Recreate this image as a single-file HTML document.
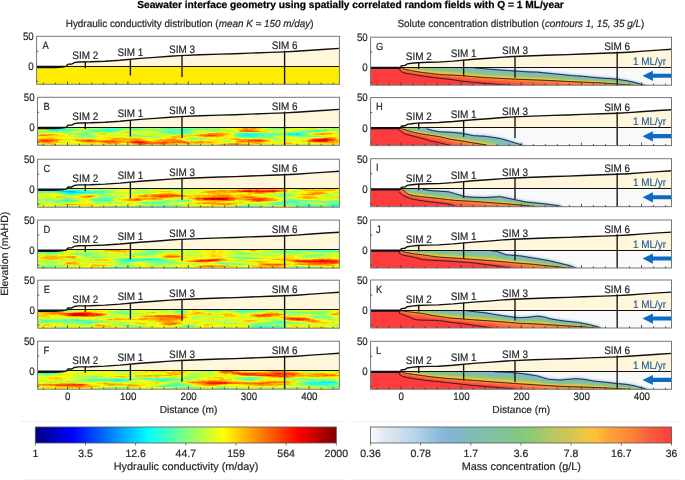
<!DOCTYPE html><html><head><meta charset="utf-8"><style>
html,body{margin:0;padding:0;background:#fff;width:685px;height:480px;overflow:hidden}
svg{display:block;will-change:transform}
text{font-family:"Liberation Sans", sans-serif;fill:#262626;stroke:#262626;stroke-width:0.2px;text-rendering:geometricPrecision}
</style></head><body>
<svg width="685" height="480" viewBox="0 0 685 480">
<defs>
<linearGradient id="jet" x1="0" x2="1" y1="0" y2="0">
<stop offset="0" stop-color="rgb(0,0,128)"/>
<stop offset="0.125" stop-color="rgb(0,0,255)"/>
<stop offset="0.375" stop-color="rgb(0,255,255)"/>
<stop offset="0.625" stop-color="rgb(255,255,0)"/>
<stop offset="0.875" stop-color="rgb(255,0,0)"/>
<stop offset="1" stop-color="rgb(128,0,0)"/>
</linearGradient>
<linearGradient id="conc" x1="0" x2="1" y1="0" y2="0">
<stop offset="0" stop-color="#f8f9fb"/>
<stop offset="0.032" stop-color="#e8eef6"/>
<stop offset="0.065" stop-color="#dbe6f0"/>
<stop offset="0.115" stop-color="#c6dbec"/>
<stop offset="0.165" stop-color="#aecfe6"/>
<stop offset="0.197" stop-color="#9ac4e0"/>
<stop offset="0.247" stop-color="#85b5d8"/>
<stop offset="0.297" stop-color="#80b6c8"/>
<stop offset="0.347" stop-color="#80bcb0"/>
<stop offset="0.397" stop-color="#81c2a4"/>
<stop offset="0.463" stop-color="#80c690"/>
<stop offset="0.497" stop-color="#82c87e"/>
<stop offset="0.53" stop-color="#8cca78"/>
<stop offset="0.563" stop-color="#a0c86c"/>
<stop offset="0.596" stop-color="#b4c864"/>
<stop offset="0.629" stop-color="#c4c65c"/>
<stop offset="0.679" stop-color="#dac650"/>
<stop offset="0.729" stop-color="#f8c43c"/>
<stop offset="0.746" stop-color="#fec238"/>
<stop offset="0.779" stop-color="#fdaa38"/>
<stop offset="0.829" stop-color="#fb9638"/>
<stop offset="0.879" stop-color="#fa7c3a"/>
<stop offset="0.929" stop-color="#fb5c3c"/>
<stop offset="1" stop-color="#fe3c3c"/>
</linearGradient>
<filter id="ff1" filterUnits="userSpaceOnUse" x="35.8" y="126" width="304.6" height="20.3" color-interpolation-filters="sRGB">
<feGaussianBlur in="SourceGraphic" stdDeviation="3 0.8" result="g"/>
<feTurbulence type="fractalNoise" baseFrequency="0.03 0.32" numOctaves="2" seed="11" result="n0"/>
<feColorMatrix in="n0" type="matrix" values="1 0 0 0 0  1 0 0 0 0  1 0 0 0 0  0 0 0 0 1" result="n"/>
<feTurbulence type="fractalNoise" baseFrequency="0.25 0.7" numOctaves="1" seed="111" result="m0"/>
<feColorMatrix in="m0" type="matrix" values="1 0 0 0 0  1 0 0 0 0  1 0 0 0 0  0 0 0 0 1" result="m"/>
<feComposite in="g" in2="n" operator="arithmetic" k1="0" k2="1" k3="0.4" k4="-0.2" result="s1"/>
<feComposite in="s1" in2="m" operator="arithmetic" k1="0" k2="1" k3="0.12" k4="-0.06" result="s"/>
<feComponentTransfer in="s">
<feFuncR type="table" tableValues="0 0 0 0 0.5 1 1 1 0.5"/>
<feFuncG type="table" tableValues="0 0 0.5 1 1 1 0.5 0 0"/>
<feFuncB type="table" tableValues="0.5 1 1 1 0.5 0 0 0 0"/>
<feFuncA type="table" tableValues="1 1"/>
</feComponentTransfer>
</filter>
<filter id="ff2" filterUnits="userSpaceOnUse" x="35.8" y="187.9" width="304.6" height="20.3" color-interpolation-filters="sRGB">
<feGaussianBlur in="SourceGraphic" stdDeviation="3 0.8" result="g"/>
<feTurbulence type="fractalNoise" baseFrequency="0.03 0.32" numOctaves="2" seed="23" result="n0"/>
<feColorMatrix in="n0" type="matrix" values="1 0 0 0 0  1 0 0 0 0  1 0 0 0 0  0 0 0 0 1" result="n"/>
<feTurbulence type="fractalNoise" baseFrequency="0.25 0.7" numOctaves="1" seed="123" result="m0"/>
<feColorMatrix in="m0" type="matrix" values="1 0 0 0 0  1 0 0 0 0  1 0 0 0 0  0 0 0 0 1" result="m"/>
<feComposite in="g" in2="n" operator="arithmetic" k1="0" k2="1" k3="0.4" k4="-0.2" result="s1"/>
<feComposite in="s1" in2="m" operator="arithmetic" k1="0" k2="1" k3="0.12" k4="-0.06" result="s"/>
<feComponentTransfer in="s">
<feFuncR type="table" tableValues="0 0 0 0 0.5 1 1 1 0.5"/>
<feFuncG type="table" tableValues="0 0 0.5 1 1 1 0.5 0 0"/>
<feFuncB type="table" tableValues="0.5 1 1 1 0.5 0 0 0 0"/>
<feFuncA type="table" tableValues="1 1"/>
</feComponentTransfer>
</filter>
<filter id="ff3" filterUnits="userSpaceOnUse" x="35.8" y="248.8" width="304.6" height="20.3" color-interpolation-filters="sRGB">
<feGaussianBlur in="SourceGraphic" stdDeviation="3 0.8" result="g"/>
<feTurbulence type="fractalNoise" baseFrequency="0.03 0.32" numOctaves="2" seed="37" result="n0"/>
<feColorMatrix in="n0" type="matrix" values="1 0 0 0 0  1 0 0 0 0  1 0 0 0 0  0 0 0 0 1" result="n"/>
<feTurbulence type="fractalNoise" baseFrequency="0.25 0.7" numOctaves="1" seed="137" result="m0"/>
<feColorMatrix in="m0" type="matrix" values="1 0 0 0 0  1 0 0 0 0  1 0 0 0 0  0 0 0 0 1" result="m"/>
<feComposite in="g" in2="n" operator="arithmetic" k1="0" k2="1" k3="0.4" k4="-0.2" result="s1"/>
<feComposite in="s1" in2="m" operator="arithmetic" k1="0" k2="1" k3="0.12" k4="-0.06" result="s"/>
<feComponentTransfer in="s">
<feFuncR type="table" tableValues="0 0 0 0 0.5 1 1 1 0.5"/>
<feFuncG type="table" tableValues="0 0 0.5 1 1 1 0.5 0 0"/>
<feFuncB type="table" tableValues="0.5 1 1 1 0.5 0 0 0 0"/>
<feFuncA type="table" tableValues="1 1"/>
</feComponentTransfer>
</filter>
<filter id="ff4" filterUnits="userSpaceOnUse" x="35.8" y="308.9" width="304.6" height="20.3" color-interpolation-filters="sRGB">
<feGaussianBlur in="SourceGraphic" stdDeviation="3 0.8" result="g"/>
<feTurbulence type="fractalNoise" baseFrequency="0.03 0.32" numOctaves="2" seed="41" result="n0"/>
<feColorMatrix in="n0" type="matrix" values="1 0 0 0 0  1 0 0 0 0  1 0 0 0 0  0 0 0 0 1" result="n"/>
<feTurbulence type="fractalNoise" baseFrequency="0.25 0.7" numOctaves="1" seed="141" result="m0"/>
<feColorMatrix in="m0" type="matrix" values="1 0 0 0 0  1 0 0 0 0  1 0 0 0 0  0 0 0 0 1" result="m"/>
<feComposite in="g" in2="n" operator="arithmetic" k1="0" k2="1" k3="0.4" k4="-0.2" result="s1"/>
<feComposite in="s1" in2="m" operator="arithmetic" k1="0" k2="1" k3="0.12" k4="-0.06" result="s"/>
<feComponentTransfer in="s">
<feFuncR type="table" tableValues="0 0 0 0 0.5 1 1 1 0.5"/>
<feFuncG type="table" tableValues="0 0 0.5 1 1 1 0.5 0 0"/>
<feFuncB type="table" tableValues="0.5 1 1 1 0.5 0 0 0 0"/>
<feFuncA type="table" tableValues="1 1"/>
</feComponentTransfer>
</filter>
<filter id="ff5" filterUnits="userSpaceOnUse" x="35.8" y="369.9" width="304.6" height="20.3" color-interpolation-filters="sRGB">
<feGaussianBlur in="SourceGraphic" stdDeviation="3 0.8" result="g"/>
<feTurbulence type="fractalNoise" baseFrequency="0.03 0.32" numOctaves="2" seed="59" result="n0"/>
<feColorMatrix in="n0" type="matrix" values="1 0 0 0 0  1 0 0 0 0  1 0 0 0 0  0 0 0 0 1" result="n"/>
<feTurbulence type="fractalNoise" baseFrequency="0.25 0.7" numOctaves="1" seed="159" result="m0"/>
<feColorMatrix in="m0" type="matrix" values="1 0 0 0 0  1 0 0 0 0  1 0 0 0 0  0 0 0 0 1" result="m"/>
<feComposite in="g" in2="n" operator="arithmetic" k1="0" k2="1" k3="0.4" k4="-0.2" result="s1"/>
<feComposite in="s1" in2="m" operator="arithmetic" k1="0" k2="1" k3="0.12" k4="-0.06" result="s"/>
<feComponentTransfer in="s">
<feFuncR type="table" tableValues="0 0 0 0 0.5 1 1 1 0.5"/>
<feFuncG type="table" tableValues="0 0 0.5 1 1 1 0.5 0 0"/>
<feFuncB type="table" tableValues="0.5 1 1 1 0.5 0 0 0 0"/>
<feFuncA type="table" tableValues="1 1"/>
</feComponentTransfer>
</filter>
<filter id="soft" x="-5%" y="-50%" width="110%" height="200%"><feGaussianBlur stdDeviation="0.6"/></filter>
</defs>
<text x="350.5" y="8.4" text-anchor="middle" style="font-weight:bold;font-size:10.2px;fill:#000;stroke:#000;stroke-width:0.25px">Seawater interface geometry using spatially correlated random fields with Q = 1 ML/year</text>
<text transform="translate(65.7,26.6) scale(0.965,1)" style="font-size:10.3px">Hydraulic conductivity distribution (<tspan style="font-style:italic">mean K ≈ 150 m/day</tspan>)</text>
<text transform="translate(397.4,26.6) scale(0.965,1)" style="font-size:10.3px">Solute concentration distribution (<tspan style="font-style:italic">contours 1, 15, 35 g/L</tspan>)</text>
<clipPath id="cA"><rect x="36.6" y="36.3" width="302.8" height="48"/></clipPath>
<g clip-path="url(#cA)">
<rect x="36.6" y="36.3" width="302.8" height="48" fill="#fff"/>
<rect x="36.6" y="66" width="302.8" height="18.3" fill="#ffec00"/>
<polygon points="66.4,65.9 67.2,64.6 68.2,63.8 71.7,63.8 74.3,62.3 78.4,61.7 90,61.5 105,60.9 120,59.9 140,58.1 155,57.1 170,55.9 180,55.3 200,54.5 220,53.8 235,53.4 250,52.8 270,52.1 284.5,51.6 296,51 311,49.9 326,48.9 339.3,48.1 339.4,66 66.4,66" fill="#fff6db"/>
<polygon points="36.6,65.7 66.4,65.7 66.8,66.7 66.7,66.9 62,67.7 55,68.2 36.6,68.2" fill="#0d1117"/>
<polyline points="66.4,66.2 67.2,64.9 68.2,64.1 71.7,64.1 74.3,62.6 78.4,62 90,61.8 105,61.2 120,60.2 140,58.4 155,57.4 170,56.2 180,55.6 200,54.8 220,54.1 235,53.7 250,53.1 270,52.4 284.5,51.9 296,51.3 311,50.2 326,49.2 339.3,48.4" fill="none" stroke="#111" stroke-width="1.4"/>
<line x1="66.4" y1="66.5" x2="339.4" y2="66.5" stroke="#111" stroke-width="1.1"/>
<line x1="85.3" y1="61.2" x2="85.3" y2="67.9" stroke="#111" stroke-width="1.35"/>
<line x1="130.4" y1="58.9" x2="130.4" y2="75.4" stroke="#111" stroke-width="1.35"/>
<line x1="182" y1="55.6" x2="182" y2="76.9" stroke="#111" stroke-width="1.35"/>
<line x1="284.6" y1="50.6" x2="284.6" y2="84.3" stroke="#111" stroke-width="1.35"/>
</g>
<text transform="translate(85.3,59.1) scale(0.92,1)" text-anchor="middle" style="font-size:10.8px;">SIM 2</text>
<text transform="translate(130.4,56.4) scale(0.92,1)" text-anchor="middle" style="font-size:10.8px;">SIM 1</text>
<text transform="translate(182,53.3) scale(0.92,1)" text-anchor="middle" style="font-size:10.8px;">SIM 3</text>
<text transform="translate(284.6,49.2) scale(0.92,1)" text-anchor="middle" style="font-size:10.8px;">SIM 6</text>
<text transform="translate(42.6,49.3) scale(0.9,1)" style="font-size:10.4px;">A</text>
<rect x="36.6" y="36.3" width="302.8" height="48" fill="none" stroke="#777" stroke-width="1"/>
<line x1="43.34" y1="84.3" x2="43.34" y2="82.7" stroke="#333" stroke-width="0.8"/>
<line x1="55.42" y1="84.3" x2="55.42" y2="82.7" stroke="#333" stroke-width="0.8"/>
<line x1="67.5" y1="84.3" x2="67.5" y2="81.3" stroke="#333" stroke-width="0.8"/>
<line x1="79.58" y1="84.3" x2="79.58" y2="82.7" stroke="#333" stroke-width="0.8"/>
<line x1="91.66" y1="84.3" x2="91.66" y2="82.7" stroke="#333" stroke-width="0.8"/>
<line x1="103.74" y1="84.3" x2="103.74" y2="82.7" stroke="#333" stroke-width="0.8"/>
<line x1="115.82" y1="84.3" x2="115.82" y2="82.7" stroke="#333" stroke-width="0.8"/>
<line x1="127.9" y1="84.3" x2="127.9" y2="81.3" stroke="#333" stroke-width="0.8"/>
<line x1="139.98" y1="84.3" x2="139.98" y2="82.7" stroke="#333" stroke-width="0.8"/>
<line x1="152.06" y1="84.3" x2="152.06" y2="82.7" stroke="#333" stroke-width="0.8"/>
<line x1="164.14" y1="84.3" x2="164.14" y2="82.7" stroke="#333" stroke-width="0.8"/>
<line x1="176.22" y1="84.3" x2="176.22" y2="82.7" stroke="#333" stroke-width="0.8"/>
<line x1="188.3" y1="84.3" x2="188.3" y2="81.3" stroke="#333" stroke-width="0.8"/>
<line x1="200.38" y1="84.3" x2="200.38" y2="82.7" stroke="#333" stroke-width="0.8"/>
<line x1="212.46" y1="84.3" x2="212.46" y2="82.7" stroke="#333" stroke-width="0.8"/>
<line x1="224.54" y1="84.3" x2="224.54" y2="82.7" stroke="#333" stroke-width="0.8"/>
<line x1="236.62" y1="84.3" x2="236.62" y2="82.7" stroke="#333" stroke-width="0.8"/>
<line x1="248.7" y1="84.3" x2="248.7" y2="81.3" stroke="#333" stroke-width="0.8"/>
<line x1="260.78" y1="84.3" x2="260.78" y2="82.7" stroke="#333" stroke-width="0.8"/>
<line x1="272.86" y1="84.3" x2="272.86" y2="82.7" stroke="#333" stroke-width="0.8"/>
<line x1="284.94" y1="84.3" x2="284.94" y2="82.7" stroke="#333" stroke-width="0.8"/>
<line x1="297.02" y1="84.3" x2="297.02" y2="82.7" stroke="#333" stroke-width="0.8"/>
<line x1="309.1" y1="84.3" x2="309.1" y2="81.3" stroke="#333" stroke-width="0.8"/>
<line x1="321.18" y1="84.3" x2="321.18" y2="82.7" stroke="#333" stroke-width="0.8"/>
<line x1="333.26" y1="84.3" x2="333.26" y2="82.7" stroke="#333" stroke-width="0.8"/>
<line x1="36.6" y1="51.3" x2="38.2" y2="51.3" stroke="#333" stroke-width="0.8"/>
<line x1="36.6" y1="81.3" x2="38.2" y2="81.3" stroke="#333" stroke-width="0.8"/>
<text transform="translate(33.7,40.1) scale(0.9,1)" text-anchor="end" style="font-size:10.8px;">50</text>
<text transform="translate(33.7,69.8) scale(0.9,1)" text-anchor="end" style="font-size:10.8px;">0</text>
<clipPath id="cG"><rect x="370.6" y="37.2" width="300.9" height="48"/></clipPath>
<g clip-path="url(#cG)">
<rect x="370.6" y="37.2" width="300.9" height="48" fill="#fff"/>
<rect x="370.6" y="67.3" width="300.9" height="17.9" fill="#fd3d3d"/>
<g filter="url(#soft)">
<polygon points="398.5,67.3 398.5,67.3 399.2,67.3 399.5,68.3 399.9,70 400.5,70.77 401.3,71.8 402.5,72.25 404.8,73.1 406.5,73.39 410.5,74.08 413.5,74.6 414.5,74.76 418.5,75.4 422.3,76 422.5,76.03 426.5,76.58 430.5,77.13 431,77.2 434.5,77.64 438.5,78.14 439.8,78.3 442.5,78.59 446.5,79.02 450,79.4 450.5,79.47 454.5,80.05 458.5,80.64 461.7,81.1 462.5,81.18 465,81.44 466.5,81.59 470.5,82 473.4,82.3 474.5,82.4 478.5,82.78 482.5,83.16 485,83.4 486.5,83.52 490.5,83.82 494.5,84.13 496.7,84.3 498.5,84.42 502.5,84.69 506.5,84.95 507.2,85 508.4,85.12 510.5,85.34 514.5,85.75 515,85.8 518.5,86.16 520.1,86.2 522.5,86.2 526.5,86.2 530,86.2 530.5,86.2 534.5,86.2 536.7,86.2 538.5,86.2 542.5,86.2 546.5,86.2 548.4,86.2 550.5,86.2 554.5,86.2 558.5,86.2 560,86.2 562.5,86.2 566.5,86.2 570.5,86.2 571.7,86.2 574.5,86.2 578.5,86.2 582.5,86.2 583.4,86.2 586.5,86.2 590.5,86.2 594.5,86.2 595.1,86.2 598.5,86.2 602.5,86.2 605,86.2 606.5,86.2 610.5,86.2 614.5,86.2 616.8,86.2 618.5,86.2 622.5,86.2 626.3,86.2 626.5,86.2 630.5,86.2 634.5,86.2 634.7,86.2 638.5,86.2 640,86.2 642.1,86.2 642.5,86.2 645,86.2 646.5,86.2 650.5,86.2 654.5,86.2 658.5,86.2 662.5,86.2 666.5,86.2 670.5,86.2 674.5,86.2 674.5,67.3" fill="#fe3f3c"/>
<polygon points="398.5,67.3 398.5,67.3 399.2,67.3 399.5,68 399.9,69.28 400.5,69.88 401.3,70.8 402.5,71.26 404.8,72.15 406.5,72.46 410.5,73.18 413.5,73.72 414.5,73.88 418.5,74.52 422.3,75.12 422.5,75.15 426.5,75.68 430.5,76.21 431,76.28 434.5,76.71 438.5,77.21 439.8,77.38 442.5,77.62 446.5,77.98 450,78.3 450.5,78.36 454.5,78.85 458.5,79.34 461.7,79.72 462.5,79.81 465,80.06 466.5,80.21 470.5,80.61 473.4,80.9 474.5,81 478.5,81.36 482.5,81.72 485,81.95 486.5,82.06 490.5,82.34 494.5,82.62 496.7,82.78 498.5,82.89 502.5,83.14 506.5,83.39 507.2,83.43 508.4,83.54 510.5,83.73 514.5,84.09 515,84.13 518.5,84.45 520.1,84.59 522.5,84.8 526.5,85.13 530,85.43 530.5,85.47 534.5,85.82 536.7,86.02 538.5,86.18 542.5,86.2 546.5,86.2 548.4,86.2 550.5,86.2 554.5,86.2 558.5,86.2 560,86.2 562.5,86.2 566.5,86.2 570.5,86.2 571.7,86.2 574.5,86.2 578.5,86.2 582.5,86.2 583.4,86.2 586.5,86.2 590.5,86.2 594.5,86.2 595.1,86.2 598.5,86.2 602.5,86.2 605,86.2 606.5,86.2 610.5,86.2 614.5,86.2 616.8,86.2 618.5,86.2 622.5,86.2 626.3,86.2 626.5,86.2 630.5,86.2 634.5,86.2 634.7,86.2 638.5,86.2 640,86.2 642.1,86.2 642.5,86.2 645,86.2 646.5,86.2 650.5,86.2 654.5,86.2 658.5,86.2 662.5,86.2 666.5,86.2 670.5,86.2 674.5,86.2 674.5,67.3" fill="#fc533c"/>
<polygon points="398.5,67.3 398.5,67.3 399.2,67.3 399.5,67.7 399.9,68.57 400.5,68.99 401.3,69.8 402.5,70.28 404.8,71.2 406.5,71.52 410.5,72.28 413.5,72.85 414.5,73.01 418.5,73.65 422.3,74.25 422.5,74.28 426.5,74.78 430.5,75.29 431,75.35 434.5,75.79 438.5,76.29 439.8,76.45 442.5,76.65 446.5,76.94 450,77.2 450.5,77.25 454.5,77.64 458.5,78.04 461.7,78.35 462.5,78.43 465,78.67 466.5,78.82 470.5,79.21 473.4,79.5 474.5,79.59 478.5,79.94 482.5,80.28 485,80.5 486.5,80.6 490.5,80.85 494.5,81.11 496.7,81.25 498.5,81.36 502.5,81.59 506.5,81.83 507.2,81.87 508.4,81.96 510.5,82.12 514.5,82.43 515,82.47 518.5,82.74 520.1,82.86 522.5,83.02 526.5,83.29 530,83.52 530.5,83.56 534.5,83.85 536.7,84.01 538.5,84.14 542.5,84.43 546.5,84.72 548.4,84.86 550.5,85.02 554.5,85.33 558.5,85.64 560,85.76 562.5,85.95 566.5,86.2 570.5,86.2 571.7,86.2 574.5,86.2 578.5,86.2 582.5,86.2 583.4,86.2 586.5,86.2 590.5,86.2 594.5,86.2 595.1,86.2 598.5,86.2 602.5,86.2 605,86.2 606.5,86.2 610.5,86.2 614.5,86.2 616.8,86.2 618.5,86.2 622.5,86.2 626.3,86.2 626.5,86.2 630.5,86.2 634.5,86.2 634.7,86.2 638.5,86.2 640,86.2 642.1,86.2 642.5,86.2 645,86.2 646.5,86.2 650.5,86.2 654.5,86.2 658.5,86.2 662.5,86.2 666.5,86.2 670.5,86.2 674.5,86.2 674.5,67.3" fill="#fa6d3b"/>
<polygon points="398.5,67.3 398.5,67.3 399.2,67.3 399.5,67.4 399.9,67.86 400.5,68.09 401.3,68.8 402.5,69.3 404.8,70.25 406.5,70.59 410.5,71.38 413.5,71.97 414.5,72.13 418.5,72.77 422.3,73.38 422.5,73.4 426.5,73.88 430.5,74.36 431,74.42 434.5,74.86 438.5,75.36 439.8,75.53 442.5,75.68 446.5,75.9 450,76.1 450.5,76.14 454.5,76.44 458.5,76.74 461.7,76.97 462.5,77.05 465,77.29 466.5,77.44 470.5,77.82 473.4,78.1 474.5,78.19 478.5,78.52 482.5,78.85 485,79.05 486.5,79.14 490.5,79.37 494.5,79.6 496.7,79.73 498.5,79.82 502.5,80.04 506.5,80.27 507.2,80.3 508.4,80.38 510.5,80.52 514.5,80.77 515,80.8 518.5,81.03 520.1,81.13 522.5,81.25 526.5,81.44 530,81.61 530.5,81.64 534.5,81.87 536.7,82 538.5,82.1 542.5,82.34 546.5,82.57 548.4,82.68 550.5,82.82 554.5,83.07 558.5,83.33 560,83.43 562.5,83.59 566.5,83.84 570.5,84.1 571.7,84.18 574.5,84.33 578.5,84.55 582.5,84.77 583.4,84.82 586.5,84.99 590.5,85.2 594.5,85.42 595.1,85.45 598.5,85.67 602.5,85.92 605,86.08 606.5,86.2 610.5,86.2 614.5,86.2 616.8,86.2 618.5,86.2 622.5,86.2 626.3,86.2 626.5,86.2 630.5,86.2 634.5,86.2 634.7,86.2 638.5,86.2 640,86.2 642.1,86.2 642.5,86.2 645,86.2 646.5,86.2 650.5,86.2 654.5,86.2 658.5,86.2 662.5,86.2 666.5,86.2 670.5,86.2 674.5,86.2 674.5,67.3" fill="#fa8839"/>
<polygon points="398.5,67.3 398.5,67.3 399.2,67.3 399.5,67.3 399.9,67.3 400.5,67.3 401.3,67.8 402.5,68.31 404.8,69.3 406.5,69.65 410.5,70.48 413.5,71.1 414.5,71.26 418.5,71.9 422.3,72.5 422.5,72.52 426.5,72.98 430.5,73.44 431,73.5 434.5,73.94 438.5,74.44 439.8,74.6 442.5,74.71 446.5,74.86 450,75 450.5,75.03 454.5,75.23 458.5,75.44 461.7,75.6 462.5,75.68 465,75.91 466.5,76.05 470.5,76.43 473.4,76.7 474.5,76.79 478.5,77.1 482.5,77.41 485,77.6 486.5,77.68 490.5,77.88 494.5,78.09 496.7,78.2 498.5,78.29 502.5,78.5 506.5,78.7 507.2,78.74 508.4,78.8 510.5,78.91 514.5,79.11 515,79.14 518.5,79.32 520.1,79.4 522.5,79.47 526.5,79.59 530,79.7 530.5,79.72 534.5,79.9 536.7,79.99 538.5,80.07 542.5,80.24 546.5,80.42 548.4,80.5 550.5,80.61 554.5,80.81 558.5,81.02 560,81.1 562.5,81.23 566.5,81.43 570.5,81.64 571.7,81.7 574.5,81.81 578.5,81.96 582.5,82.12 583.4,82.15 586.5,82.27 590.5,82.42 594.5,82.58 595.1,82.6 598.5,82.77 602.5,82.97 605,83.1 606.5,83.22 610.5,83.52 614.5,83.83 616.8,84.01 618.5,84.14 622.5,84.45 626.3,84.74 626.5,84.76 630.5,85.07 634.5,85.38 634.7,85.39 638.5,85.68 640,85.8 642.1,85.96 642.5,85.99 645,86.19 646.5,86.2 650.5,86.2 654.5,86.2 658.5,86.2 662.5,86.2 666.5,86.2 670.5,86.2 674.5,86.2 674.5,67.3" fill="#fc9e38"/>
<polygon points="398.5,67.3 398.5,67.3 399.2,67.3 399.5,67.3 399.9,67.3 400.5,67.3 401.3,67.8 402.5,68.31 404.8,69.3 406.5,69.65 410.5,70.48 413.5,71.1 414.5,71.26 418.5,71.9 422.3,72.5 422.5,72.52 426.5,72.98 430.5,73.44 431,73.5 434.5,73.94 438.5,74.44 439.8,74.6 442.5,74.71 446.5,74.86 450,75 450.5,75.03 454.5,75.23 458.5,75.44 461.7,75.6 462.5,75.68 465,75.91 466.5,76.05 470.5,76.43 473.4,76.7 474.5,76.79 478.5,77.1 482.5,77.41 485,77.6 486.5,77.68 490.5,77.88 494.5,78.09 496.7,78.2 498.5,78.29 502.5,78.5 506.5,78.7 507.2,78.74 508.4,78.8 510.5,78.91 514.5,79.11 515,79.14 518.5,79.32 520.1,79.4 522.5,79.47 526.5,79.59 530,79.7 530.5,79.72 534.5,79.9 536.7,79.99 538.5,80.07 542.5,80.24 546.5,80.42 548.4,80.5 550.5,80.61 554.5,80.81 558.5,81.02 560,81.1 562.5,81.23 566.5,81.43 570.5,81.64 571.7,81.7 574.5,81.81 578.5,81.96 582.5,82.12 583.4,82.15 586.5,82.27 590.5,82.42 594.5,82.58 595.1,82.6 598.5,82.77 602.5,82.97 605,83.1 606.5,83.22 610.5,83.52 614.5,83.83 616.8,84.01 618.5,84.14 622.5,84.45 626.3,84.74 626.5,84.76 630.5,85.07 634.5,85.38 634.7,85.39 638.5,85.68 640,85.8 642.1,85.96 642.5,85.99 645,86.19 646.5,86.2 650.5,86.2 654.5,86.2 658.5,86.2 662.5,86.2 666.5,86.2 670.5,86.2 674.5,86.2 674.5,67.3" fill="#fc9e38"/>
<polygon points="398.5,67.3 398.5,67.3 399.2,67.3 399.5,67.3 399.9,67.3 400.5,67.3 401.3,67.42 402.5,67.88 404.8,68.77 406.5,69.09 410.5,69.83 413.5,70.39 414.5,70.53 418.5,71.11 422.3,71.65 422.5,71.67 426.5,72.08 430.5,72.5 431,72.55 434.5,72.98 438.5,73.46 439.8,73.62 442.5,73.74 446.5,73.92 450,74.08 450.5,74.11 454.5,74.32 458.5,74.53 461.7,74.7 462.5,74.77 465,75 466.5,75.14 470.5,75.53 473.4,75.81 474.5,75.9 478.5,76.21 482.5,76.52 485,76.72 486.5,76.8 490.5,77.02 494.5,77.24 496.7,77.36 498.5,77.46 502.5,77.67 506.5,77.88 507.2,77.92 508.4,77.98 510.5,78.09 514.5,78.3 515,78.33 518.5,78.52 520.1,78.6 522.5,78.68 526.5,78.81 530,78.93 530.5,78.95 534.5,79.11 536.7,79.2 538.5,79.29 542.5,79.49 546.5,79.69 548.4,79.78 550.5,79.9 554.5,80.12 558.5,80.34 560,80.43 562.5,80.57 566.5,80.8 570.5,81.02 571.7,81.09 574.5,81.21 578.5,81.37 582.5,81.54 583.4,81.58 586.5,81.71 590.5,81.89 594.5,82.07 595.1,82.1 598.5,82.28 602.5,82.5 605,82.63 606.5,82.74 610.5,83.03 614.5,83.35 616.8,83.54 618.5,83.68 622.5,84.02 626.3,84.34 626.5,84.36 630.5,84.72 634.5,85.08 634.7,85.1 638.5,85.47 640,85.62 642.1,85.83 642.5,85.87 645,86.15 646.5,86.2 650.5,86.2 654.5,86.2 658.5,86.2 662.5,86.2 666.5,86.2 670.5,86.2 674.5,86.2 674.5,67.3" fill="#f5c43e"/>
<polygon points="398.5,67.3 398.5,67.3 399.2,67.3 399.5,67.3 399.9,67.3 400.5,67.3 401.3,67.3 402.5,67.45 404.8,68.24 406.5,68.52 410.5,69.18 413.5,69.68 414.5,69.81 418.5,70.32 422.3,70.8 422.5,70.82 426.5,71.19 430.5,71.55 431,71.6 434.5,72.02 438.5,72.49 439.8,72.65 442.5,72.78 446.5,72.98 450,73.16 450.5,73.19 454.5,73.4 458.5,73.62 461.7,73.8 462.5,73.87 465,74.09 466.5,74.24 470.5,74.63 473.4,74.92 474.5,75.01 478.5,75.32 482.5,75.64 485,75.84 486.5,75.93 490.5,76.16 494.5,76.39 496.7,76.52 498.5,76.62 502.5,76.84 506.5,77.06 507.2,77.09 508.4,77.16 510.5,77.27 514.5,77.49 515,77.52 518.5,77.71 520.1,77.8 522.5,77.89 526.5,78.03 530,78.16 530.5,78.18 534.5,78.33 536.7,78.41 538.5,78.51 542.5,78.73 546.5,78.95 548.4,79.06 550.5,79.19 554.5,79.43 558.5,79.67 560,79.76 562.5,79.91 566.5,80.16 570.5,80.41 571.7,80.48 574.5,80.6 578.5,80.78 582.5,80.96 583.4,81 586.5,81.16 590.5,81.36 594.5,81.57 595.1,81.6 598.5,81.79 602.5,82.02 605,82.16 606.5,82.26 610.5,82.54 614.5,82.88 616.8,83.07 618.5,83.22 622.5,83.59 626.3,83.93 626.5,83.96 630.5,84.37 634.5,84.79 634.7,84.81 638.5,85.26 640,85.44 642.1,85.69 642.5,85.75 645,86.11 646.5,86.2 650.5,86.2 654.5,86.2 658.5,86.2 662.5,86.2 666.5,86.2 670.5,86.2 674.5,86.2 674.5,67.3" fill="#cac659"/>
<polygon points="398.5,67.3 398.5,67.3 399.2,67.3 399.5,67.3 399.9,67.3 400.5,67.3 401.3,67.3 402.5,67.3 404.8,67.71 406.5,67.96 410.5,68.54 413.5,68.97 414.5,69.08 418.5,69.53 422.3,69.95 422.5,69.97 426.5,70.29 430.5,70.61 431,70.65 434.5,71.06 438.5,71.52 439.8,71.67 442.5,71.82 446.5,72.04 450,72.24 450.5,72.27 454.5,72.49 458.5,72.72 461.7,72.89 462.5,72.96 465,73.18 466.5,73.33 470.5,73.74 473.4,74.03 474.5,74.12 478.5,74.44 482.5,74.76 485,74.96 486.5,75.05 490.5,75.3 494.5,75.54 496.7,75.68 498.5,75.78 502.5,76.01 506.5,76.23 507.2,76.27 508.4,76.34 510.5,76.46 514.5,76.68 515,76.71 518.5,76.91 520.1,77 522.5,77.09 526.5,77.25 530,77.39 530.5,77.41 534.5,77.55 536.7,77.62 538.5,77.73 542.5,77.98 546.5,78.22 548.4,78.34 550.5,78.48 554.5,78.73 558.5,78.99 560,79.09 562.5,79.26 566.5,79.52 570.5,79.79 571.7,79.87 574.5,80 578.5,80.19 582.5,80.38 583.4,80.43 586.5,80.6 590.5,80.83 594.5,81.07 595.1,81.1 598.5,81.3 602.5,81.54 605,81.69 606.5,81.79 610.5,82.05 614.5,82.4 616.8,82.6 618.5,82.76 622.5,83.16 626.3,83.53 626.5,83.55 630.5,84.03 634.5,84.5 634.7,84.52 638.5,85.05 640,85.26 642.1,85.55 642.5,85.62 645,86.07 646.5,86.2 650.5,86.2 654.5,86.2 658.5,86.2 662.5,86.2 666.5,86.2 670.5,86.2 674.5,86.2 674.5,67.3" fill="#a2c86b"/>
<polygon points="398.5,67.3 398.5,67.3 399.2,67.3 399.5,67.3 399.9,67.3 400.5,67.3 401.3,67.3 402.5,67.3 404.8,67.3 406.5,67.39 410.5,67.89 413.5,68.26 414.5,68.36 418.5,68.74 422.3,69.1 422.5,69.11 426.5,69.39 430.5,69.67 431,69.7 434.5,70.1 438.5,70.55 439.8,70.69 442.5,70.86 446.5,71.11 450,71.32 450.5,71.35 454.5,71.58 458.5,71.81 461.7,71.99 462.5,72.06 465,72.27 466.5,72.42 470.5,72.84 473.4,73.14 474.5,73.23 478.5,73.55 482.5,73.88 485,74.08 486.5,74.18 490.5,74.44 494.5,74.7 496.7,74.84 498.5,74.94 502.5,75.18 506.5,75.41 507.2,75.45 508.4,75.52 510.5,75.64 514.5,75.87 515,75.9 518.5,76.11 520.1,76.2 522.5,76.3 526.5,76.47 530,76.62 530.5,76.64 534.5,76.76 536.7,76.83 538.5,76.96 542.5,77.22 546.5,77.49 548.4,77.62 550.5,77.76 554.5,78.04 558.5,78.32 560,78.42 562.5,78.6 566.5,78.89 570.5,79.17 571.7,79.26 574.5,79.4 578.5,79.6 582.5,79.8 583.4,79.85 586.5,80.05 590.5,80.31 594.5,80.56 595.1,80.6 598.5,80.81 602.5,81.06 605,81.22 606.5,81.31 610.5,81.55 614.5,81.92 616.8,82.13 618.5,82.31 622.5,82.73 626.3,83.13 626.5,83.15 630.5,83.68 634.5,84.21 634.7,84.23 638.5,84.84 640,85.08 642.1,85.42 642.5,85.5 645,86.03 646.5,86.2 650.5,86.2 654.5,86.2 658.5,86.2 662.5,86.2 666.5,86.2 670.5,86.2 674.5,86.2 674.5,67.3" fill="#82c87f"/>
<polygon points="398.5,67.3 398.5,67.3 399.2,67.3 399.5,67.3 399.9,67.3 400.5,67.3 401.3,67.3 402.5,67.3 404.8,67.3 406.5,67.3 410.5,67.3 413.5,67.55 414.5,67.63 418.5,67.95 422.3,68.25 422.5,68.26 426.5,68.49 430.5,68.72 431,68.75 434.5,69.13 438.5,69.57 439.8,69.72 442.5,69.9 446.5,70.17 450,70.4 450.5,70.43 454.5,70.67 458.5,70.9 461.7,71.09 462.5,71.15 465,71.36 466.5,71.51 470.5,71.94 473.4,72.25 474.5,72.34 478.5,72.67 482.5,73 485,73.2 486.5,73.3 490.5,73.58 494.5,73.85 496.7,74 498.5,74.11 502.5,74.35 506.5,74.59 507.2,74.63 508.4,74.7 510.5,74.83 514.5,75.06 515,75.09 518.5,75.3 520.1,75.4 522.5,75.51 526.5,75.69 530,75.85 530.5,75.86 534.5,75.98 536.7,76.05 538.5,76.18 542.5,76.47 546.5,76.76 548.4,76.9 550.5,77.05 554.5,77.35 558.5,77.64 560,77.75 562.5,77.94 566.5,78.25 570.5,78.56 571.7,78.65 574.5,78.8 578.5,79.01 582.5,79.23 583.4,79.28 586.5,79.49 590.5,79.78 594.5,80.06 595.1,80.1 598.5,80.32 602.5,80.59 605,80.75 606.5,80.84 610.5,81.06 614.5,81.44 616.8,81.66 618.5,81.85 622.5,82.3 626.3,82.72 626.5,82.75 630.5,83.33 634.5,83.92 634.7,83.95 638.5,84.63 640,84.9 642.1,85.28 642.5,85.38 645,85.99 646.5,86.2 650.5,86.2 654.5,86.2 658.5,86.2 662.5,86.2 666.5,86.2 670.5,86.2 674.5,86.2 674.5,67.3" fill="#81c49a"/>
<polygon points="398.5,67.3 398.5,67.3 399.2,67.3 399.5,67.3 399.9,67.3 400.5,67.3 401.3,67.3 402.5,67.3 404.8,67.3 406.5,67.3 410.5,67.3 413.5,67.3 414.5,67.3 418.5,67.3 422.3,67.4 422.5,67.41 426.5,67.59 430.5,67.78 431,67.8 434.5,68.17 438.5,68.6 439.8,68.74 442.5,68.94 446.5,69.23 450,69.48 450.5,69.51 454.5,69.75 458.5,69.99 461.7,70.19 462.5,70.25 465,70.44 466.5,70.61 470.5,71.04 473.4,71.36 474.5,71.45 478.5,71.78 482.5,72.11 485,72.32 486.5,72.43 490.5,72.71 494.5,73 496.7,73.16 498.5,73.27 502.5,73.52 506.5,73.76 507.2,73.81 508.4,73.88 510.5,74.01 514.5,74.26 515,74.29 518.5,74.5 520.1,74.6 522.5,74.72 526.5,74.91 530,75.08 530.5,75.09 534.5,75.2 536.7,75.26 538.5,75.4 542.5,75.71 546.5,76.03 548.4,76.18 550.5,76.34 554.5,76.65 558.5,76.96 560,77.08 562.5,77.28 566.5,77.61 570.5,77.94 571.7,78.04 574.5,78.2 578.5,78.42 582.5,78.65 583.4,78.7 586.5,78.94 590.5,79.25 594.5,79.55 595.1,79.6 598.5,79.83 602.5,80.11 605,80.28 606.5,80.36 610.5,80.57 614.5,80.96 616.8,81.18 618.5,81.39 622.5,81.86 626.3,82.32 626.5,82.35 630.5,82.99 634.5,83.62 634.7,83.66 638.5,84.42 640,84.72 642.1,85.14 642.5,85.26 645,85.95 646.5,86.2 650.5,86.2 654.5,86.2 658.5,86.2 662.5,86.2 666.5,86.2 670.5,86.2 674.5,86.2 674.5,67.3" fill="#80bfaa"/>
<polygon points="398.5,67.3 398.5,67.3 399.2,67.3 399.5,67.3 399.9,67.3 400.5,67.3 401.3,67.3 402.5,67.3 404.8,67.3 406.5,67.3 410.5,67.3 413.5,67.3 414.5,67.3 418.5,67.3 422.3,67.3 422.5,67.3 426.5,67.3 430.5,67.3 431,67.3 434.5,67.3 438.5,67.63 439.8,67.76 442.5,67.97 446.5,68.29 450,68.56 450.5,68.59 454.5,68.84 458.5,69.09 461.7,69.29 462.5,69.35 465,69.53 466.5,69.7 470.5,70.15 473.4,70.47 474.5,70.56 478.5,70.9 482.5,71.23 485,71.44 486.5,71.55 490.5,71.85 494.5,72.15 496.7,72.32 498.5,72.43 502.5,72.69 506.5,72.94 507.2,72.98 508.4,73.06 510.5,73.19 514.5,73.45 515,73.48 518.5,73.7 520.1,73.8 522.5,73.92 526.5,74.13 530,74.31 530.5,74.32 534.5,74.42 536.7,74.47 538.5,74.62 542.5,74.96 546.5,75.3 548.4,75.46 550.5,75.63 554.5,75.96 558.5,76.29 560,76.41 562.5,76.63 566.5,76.98 570.5,77.33 571.7,77.43 574.5,77.6 578.5,77.83 582.5,78.07 583.4,78.12 586.5,78.38 590.5,78.72 594.5,79.05 595.1,79.1 598.5,79.34 602.5,79.63 605,79.81 606.5,79.88 610.5,80.08 614.5,80.48 616.8,80.71 618.5,80.93 622.5,81.43 626.3,81.91 626.5,81.95 630.5,82.64 634.5,83.33 634.7,83.37 638.5,84.21 640,84.54 642.1,85.01 642.5,85.13 645,85.92 646.5,86.2 650.5,86.2 654.5,86.2 658.5,86.2 662.5,86.2 666.5,86.2 670.5,86.2 674.5,86.2 674.5,67.3" fill="#80b9be"/>
<polygon points="398.5,67.3 398.5,67.3 399.2,67.3 399.5,67.3 399.9,67.3 400.5,67.3 401.3,67.3 402.5,67.3 404.8,67.3 406.5,67.3 410.5,67.3 413.5,67.3 414.5,67.3 418.5,67.3 422.3,67.3 422.5,67.3 426.5,67.3 430.5,67.3 431,67.3 434.5,67.3 438.5,67.3 439.8,67.3 442.5,67.3 446.5,67.35 450,67.64 450.5,67.67 454.5,67.93 458.5,68.18 461.7,68.38 462.5,68.44 465,68.62 466.5,68.79 470.5,69.25 473.4,69.58 474.5,69.67 478.5,70.01 482.5,70.35 485,70.56 486.5,70.68 490.5,70.99 494.5,71.31 496.7,71.48 498.5,71.6 502.5,71.86 506.5,72.12 507.2,72.16 508.4,72.24 510.5,72.38 514.5,72.64 515,72.67 518.5,72.9 520.1,73 522.5,73.13 526.5,73.35 530,73.54 530.5,73.55 534.5,73.63 536.7,73.68 538.5,73.84 542.5,74.2 546.5,74.57 548.4,74.74 550.5,74.92 554.5,75.27 558.5,75.61 560,75.74 562.5,75.97 566.5,76.34 570.5,76.71 571.7,76.82 574.5,76.99 578.5,77.24 582.5,77.49 583.4,77.55 586.5,77.83 590.5,78.19 594.5,78.55 595.1,78.6 598.5,78.85 602.5,79.15 605,79.34 606.5,79.41 610.5,79.58 614.5,80 616.8,80.24 618.5,80.47 622.5,81 626.3,81.51 626.5,81.55 630.5,82.29 634.5,83.04 634.7,83.08 638.5,84 640,84.36 642.1,84.87 642.5,85.01 645,85.88 646.5,86.2 650.5,86.2 654.5,86.2 658.5,86.2 662.5,86.2 666.5,86.2 670.5,86.2 674.5,86.2 674.5,67.3" fill="#82b6cf"/>
<polygon points="398.5,67.3 398.5,67.3 399.2,67.3 399.5,67.3 399.9,67.3 400.5,67.3 401.3,67.3 402.5,67.3 404.8,67.3 406.5,67.3 410.5,67.3 413.5,67.3 414.5,67.3 418.5,67.3 422.3,67.3 422.5,67.3 426.5,67.3 430.5,67.3 431,67.3 434.5,67.3 438.5,67.3 439.8,67.3 442.5,67.3 446.5,67.3 450,67.3 450.5,67.3 454.5,67.3 458.5,67.3 461.7,67.48 462.5,67.54 465,67.71 466.5,67.89 470.5,68.35 473.4,68.69 474.5,68.78 478.5,69.13 482.5,69.47 485,69.68 486.5,69.8 490.5,70.13 494.5,70.46 496.7,70.64 498.5,70.76 502.5,71.03 506.5,71.29 507.2,71.34 508.4,71.42 510.5,71.56 514.5,71.83 515,71.86 518.5,72.09 520.1,72.2 522.5,72.34 526.5,72.57 530,72.77 530.5,72.78 534.5,72.85 536.7,72.89 538.5,73.06 542.5,73.45 546.5,73.84 548.4,74.02 550.5,74.21 554.5,74.57 558.5,74.93 560,75.07 562.5,75.31 566.5,75.7 570.5,76.09 571.7,76.21 574.5,76.39 578.5,76.65 582.5,76.92 583.4,76.98 586.5,77.27 590.5,77.66 594.5,78.04 595.1,78.1 598.5,78.36 602.5,78.68 605,78.87 606.5,78.93 610.5,79.09 614.5,79.52 616.8,79.77 618.5,80.01 622.5,80.57 626.3,81.1 626.5,81.14 630.5,81.95 634.5,82.75 634.7,82.79 638.5,83.79 640,84.18 642.1,84.74 642.5,84.89 645,85.84 646.5,86.2 650.5,86.2 654.5,86.2 658.5,86.2 662.5,86.2 666.5,86.2 670.5,86.2 674.5,86.2 674.5,67.3" fill="#88b7d9"/>
<polygon points="398.5,67.3 398.5,67.3 399.2,67.3 399.5,67.3 399.9,67.3 400.5,67.3 401.3,67.3 402.5,67.3 404.8,67.3 406.5,67.3 410.5,67.3 413.5,67.3 414.5,67.3 418.5,67.3 422.3,67.3 422.5,67.3 426.5,67.3 430.5,67.3 431,67.3 434.5,67.3 438.5,67.3 439.8,67.3 442.5,67.3 446.5,67.3 450,67.3 450.5,67.3 454.5,67.3 458.5,67.3 461.7,67.3 462.5,67.3 465,67.3 466.5,67.3 470.5,67.45 473.4,67.8 474.5,67.89 478.5,68.24 482.5,68.58 485,68.8 486.5,68.93 490.5,69.27 494.5,69.61 496.7,69.8 498.5,69.92 502.5,70.2 506.5,70.47 507.2,70.52 508.4,70.6 510.5,70.74 514.5,71.02 515,71.05 518.5,71.29 520.1,71.4 522.5,71.55 526.5,71.79 530,72 530.5,72.01 534.5,72.07 536.7,72.1 538.5,72.28 542.5,72.69 546.5,73.11 548.4,73.3 550.5,73.5 554.5,73.88 558.5,74.26 560,74.4 562.5,74.66 566.5,75.07 570.5,75.48 571.7,75.6 574.5,75.79 578.5,76.06 582.5,76.34 583.4,76.4 586.5,76.72 590.5,77.13 594.5,77.54 595.1,77.6 598.5,77.87 602.5,78.2 605,78.4 606.5,78.45 610.5,78.6 614.5,79.04 616.8,79.3 618.5,79.55 622.5,80.14 626.3,80.7 626.5,80.74 630.5,81.6 634.5,82.46 634.7,82.5 638.5,83.58 640,84 642.1,84.6 642.5,84.77 645,85.8 646.5,86.2 650.5,86.2 654.5,86.2 658.5,86.2 662.5,86.2 666.5,86.2 670.5,86.2 674.5,86.2 674.5,67.3" fill="#90bddc"/>
<polygon points="398.5,67.3 398.5,67.3 399.2,67.3 399.5,67.3 399.9,67.3 400.5,67.3 401.3,67.3 402.5,67.3 404.8,67.3 406.5,67.3 410.5,67.3 413.5,67.3 414.5,67.3 418.5,67.3 422.3,67.3 422.5,67.3 426.5,67.3 430.5,67.3 431,67.3 434.5,67.3 438.5,67.3 439.8,67.3 442.5,67.3 446.5,67.3 450,67.3 450.5,67.3 454.5,67.3 458.5,67.3 461.7,67.3 462.5,67.3 465,67.3 466.5,67.3 470.5,67.3 473.4,67.3 474.5,67.3 478.5,67.3 482.5,67.58 485,67.8 486.5,67.93 490.5,68.27 494.5,68.61 496.7,68.8 498.5,68.92 502.5,69.2 506.5,69.47 507.2,69.52 508.4,69.6 510.5,69.74 514.5,70.02 515,70.05 518.5,70.29 520.1,70.4 522.5,70.55 526.5,70.79 530,71 530.5,71.01 534.5,71.07 536.7,71.1 538.5,71.28 542.5,71.69 546.5,72.11 548.4,72.3 550.5,72.5 554.5,72.88 558.5,73.26 560,73.4 562.5,73.66 566.5,74.07 570.5,74.48 571.7,74.6 574.5,74.79 578.5,75.06 582.5,75.34 583.4,75.4 586.5,75.72 590.5,76.13 594.5,76.54 595.1,76.6 598.5,76.87 602.5,77.2 605,77.4 606.5,77.45 610.5,77.6 614.5,78.04 616.8,78.3 618.5,78.55 622.5,79.14 626.3,79.7 626.5,79.74 630.5,80.6 634.5,81.46 634.7,81.5 638.5,82.58 640,83 642.1,83.6 642.5,83.77 645,84.8 646.5,85.42 650.5,86.2 654.5,86.2 658.5,86.2 662.5,86.2 666.5,86.2 670.5,86.2 674.5,86.2 674.5,67.3" fill="#d9e6f2"/>
<polygon points="398.5,67.3 398.5,67.3 399.2,67.3 399.5,67.3 399.9,67.3 400.5,67.3 401.3,67.3 402.5,67.3 404.8,67.3 406.5,67.3 410.5,67.3 413.5,67.3 414.5,67.3 418.5,67.3 422.3,67.3 422.5,67.3 426.5,67.3 430.5,67.3 431,67.3 434.5,67.3 438.5,67.3 439.8,67.3 442.5,67.3 446.5,67.3 450,67.3 450.5,67.3 454.5,67.3 458.5,67.3 461.7,67.3 462.5,67.3 465,67.3 466.5,67.3 470.5,67.3 473.4,67.3 474.5,67.3 478.5,67.3 482.5,67.3 485,67.3 486.5,67.3 490.5,67.3 494.5,67.41 496.7,67.6 498.5,67.72 502.5,68 506.5,68.27 507.2,68.32 508.4,68.4 510.5,68.54 514.5,68.82 515,68.85 518.5,69.09 520.1,69.2 522.5,69.35 526.5,69.59 530,69.8 530.5,69.81 534.5,69.87 536.7,69.9 538.5,70.08 542.5,70.49 546.5,70.91 548.4,71.1 550.5,71.3 554.5,71.68 558.5,72.06 560,72.2 562.5,72.46 566.5,72.87 570.5,73.28 571.7,73.4 574.5,73.59 578.5,73.86 582.5,74.14 583.4,74.2 586.5,74.52 590.5,74.93 594.5,75.34 595.1,75.4 598.5,75.67 602.5,76 605,76.2 606.5,76.25 610.5,76.4 614.5,76.84 616.8,77.1 618.5,77.35 622.5,77.94 626.3,78.5 626.5,78.54 630.5,79.4 634.5,80.26 634.7,80.3 638.5,81.38 640,81.8 642.1,82.4 642.5,82.57 645,83.6 646.5,84.22 650.5,85.88 654.5,86.2 658.5,86.2 662.5,86.2 666.5,86.2 670.5,86.2 674.5,86.2 674.5,67.3" fill="#eef3f8"/>
<polygon points="398.5,67.3 398.5,67.3 399.2,67.3 399.5,67.3 399.9,67.3 400.5,67.3 401.3,67.3 402.5,67.3 404.8,67.3 406.5,67.3 410.5,67.3 413.5,67.3 414.5,67.3 418.5,67.3 422.3,67.3 422.5,67.3 426.5,67.3 430.5,67.3 431,67.3 434.5,67.3 438.5,67.3 439.8,67.3 442.5,67.3 446.5,67.3 450,67.3 450.5,67.3 454.5,67.3 458.5,67.3 461.7,67.3 462.5,67.3 465,67.3 466.5,67.3 470.5,67.3 473.4,67.3 474.5,67.3 478.5,67.3 482.5,67.3 485,67.3 486.5,67.3 490.5,67.3 494.5,67.3 496.7,67.3 498.5,67.3 502.5,67.3 506.5,67.3 507.2,67.3 508.4,67.3 510.5,67.34 514.5,67.62 515,67.65 518.5,67.89 520.1,68 522.5,68.15 526.5,68.39 530,68.6 530.5,68.61 534.5,68.67 536.7,68.7 538.5,68.88 542.5,69.29 546.5,69.71 548.4,69.9 550.5,70.1 554.5,70.48 558.5,70.86 560,71 562.5,71.26 566.5,71.67 570.5,72.08 571.7,72.2 574.5,72.39 578.5,72.66 582.5,72.94 583.4,73 586.5,73.32 590.5,73.73 594.5,74.14 595.1,74.2 598.5,74.47 602.5,74.8 605,75 606.5,75.05 610.5,75.2 614.5,75.64 616.8,75.9 618.5,76.15 622.5,76.74 626.3,77.3 626.5,77.34 630.5,78.2 634.5,79.06 634.7,79.1 638.5,80.18 640,80.6 642.1,81.2 642.5,81.37 645,82.4 646.5,83.02 650.5,84.68 654.5,86.2 658.5,86.2 662.5,86.2 666.5,86.2 670.5,86.2 674.5,86.2 674.5,67.3" fill="#f9f9f9"/>
</g>
<polyline points="473.4,67.8 474.5,67.89 478.5,68.24 482.5,68.58 485,68.8 486.5,68.93 490.5,69.27 494.5,69.61 496.7,69.8 498.5,69.92 502.5,70.2 506.5,70.47 507.2,70.52 508.4,70.6 510.5,70.74 514.5,71.02 515,71.05 518.5,71.29 520.1,71.4 522.5,71.55 526.5,71.79 530,72 530.5,72.01 534.5,72.07 536.7,72.1 538.5,72.28 542.5,72.69 546.5,73.11 548.4,73.3 550.5,73.5 554.5,73.88 558.5,74.26 560,74.4 562.5,74.66 566.5,75.07 570.5,75.48 571.7,75.6 574.5,75.79 578.5,76.06 582.5,76.34 583.4,76.4 586.5,76.72 590.5,77.13 594.5,77.54 595.1,77.6 598.5,77.87 602.5,78.2 605,78.4 606.5,78.45 610.5,78.6 614.5,79.04 616.8,79.3 618.5,79.55 622.5,80.14 626.3,80.7 626.5,80.74 630.5,81.6 634.5,82.46 634.7,82.5 638.5,83.58 640,84 642.1,84.6 642.5,84.77 645,85.8 646.5,86.42 650.5,88.08" fill="none" stroke="#1a1a1a" stroke-width="0.9"/>
<polyline points="401.3,67.8 402.5,68.31 404.8,69.3 406.5,69.65 410.5,70.48 413.5,71.1 414.5,71.26 418.5,71.9 422.3,72.5 422.5,72.52 426.5,72.98 430.5,73.44 431,73.5 434.5,73.94 438.5,74.44 439.8,74.6 442.5,74.71 446.5,74.86 450,75 450.5,75.03 454.5,75.23 458.5,75.44 461.7,75.6 462.5,75.68 465,75.91 466.5,76.05 470.5,76.43 473.4,76.7 474.5,76.79 478.5,77.1 482.5,77.41 485,77.6 486.5,77.68 490.5,77.88 494.5,78.09 496.7,78.2 498.5,78.29 502.5,78.5 506.5,78.7 507.2,78.74 508.4,78.8 510.5,78.91 514.5,79.11 515,79.14 518.5,79.32 520.1,79.4 522.5,79.47 526.5,79.59 530,79.7 530.5,79.72 534.5,79.9 536.7,79.99 538.5,80.07 542.5,80.24 546.5,80.42 548.4,80.5 550.5,80.61 554.5,80.81 558.5,81.02 560,81.1 562.5,81.23 566.5,81.43 570.5,81.64 571.7,81.7 574.5,81.81 578.5,81.96 582.5,82.12 583.4,82.15 586.5,82.27 590.5,82.42 594.5,82.58 595.1,82.6 598.5,82.77 602.5,82.97 605,83.1 606.5,83.22 610.5,83.52 614.5,83.83 616.8,84.01 618.5,84.14 622.5,84.45 626.3,84.74 626.5,84.76 630.5,85.07 634.5,85.38 634.7,85.39 638.5,85.68 640,85.8 642.1,85.96 642.5,85.99 645,86.19 646.5,86.3 650.5,86.61 654.5,86.92 658.5,87.23 662.5,87.54 666.5,87.84 670.5,88.15" fill="none" stroke="#1a1a1a" stroke-width="0.9"/>
<polyline points="399.5,68.3 399.9,70 400.5,70.77 401.3,71.8 402.5,72.25 404.8,73.1 406.5,73.39 410.5,74.08 413.5,74.6 414.5,74.76 418.5,75.4 422.3,76 422.5,76.03 426.5,76.58 430.5,77.13 431,77.2 434.5,77.64 438.5,78.14 439.8,78.3 442.5,78.59 446.5,79.02 450,79.4 450.5,79.47 454.5,80.05 458.5,80.64 461.7,81.1 462.5,81.18 465,81.44 466.5,81.59 470.5,82 473.4,82.3 474.5,82.4 478.5,82.78 482.5,83.16 485,83.4 486.5,83.52 490.5,83.82 494.5,84.13 496.7,84.3 498.5,84.42 502.5,84.69 506.5,84.95 507.2,85 508.4,85.12 510.5,85.34 514.5,85.75 515,85.8 518.5,86.16 520.1,86.32 522.5,86.57 526.5,86.98 530,87.34 530.5,87.39 534.5,87.8 536.7,88.03" fill="none" stroke="#1a1a1a" stroke-width="0.9"/>
<polygon points="400.8,67.2 401.3,65.5 405,65.1 407.3,63.6 411.4,63 417.2,62.4 428,62 438.34,61.8 453.27,60.8 473.19,59 488.12,58 503.06,56.8 513.02,56.2 532.93,55.4 552.84,54.7 567.78,54.3 582.72,53.7 602.63,53 617.07,52.5 628.52,51.9 643.45,50.8 658.39,49.8 671.63,49 671.5,67.3 400.8,67.3" fill="#fff6db"/>
<polygon points="370.6,66.7 400.8,66.7 401.1,67.7 400.3,68.9 370.6,68.9" fill="#0d1117"/>
<polyline points="400.8,67.5 401.3,65.8 405,65.4 407.3,63.9 411.4,63.3 417.2,62.7 428,62.3 438.34,62.1 453.27,61.1 473.19,59.3 488.12,58.3 503.06,57.1 513.02,56.5 532.93,55.7 552.84,55 567.78,54.6 582.72,54 602.63,53.3 617.07,52.8 628.52,52.2 643.45,51.1 658.39,50.1 671.63,49.3" fill="none" stroke="#111" stroke-width="1.4"/>
<line x1="400.8" y1="67.5" x2="671.5" y2="67.5" stroke="#111" stroke-width="1.1"/>
<line x1="418.72" y1="62.1" x2="418.72" y2="68.8" stroke="#111" stroke-width="1.35"/>
<line x1="463.63" y1="59.8" x2="463.63" y2="76.3" stroke="#111" stroke-width="1.35"/>
<line x1="515.01" y1="56.5" x2="515.01" y2="77.8" stroke="#111" stroke-width="1.35"/>
<line x1="617.17" y1="51.5" x2="617.17" y2="85.2" stroke="#111" stroke-width="1.35"/>
<polygon points="642.5,75.8 652.9,70.8 652.9,73.7 672,73.7 672,77.8 652.9,77.8 652.9,81" fill="#0a6cc4"/>
</g>
<text transform="translate(418.72,60) scale(0.92,1)" text-anchor="middle" style="font-size:10.8px;">SIM 2</text>
<text transform="translate(463.63,57.3) scale(0.92,1)" text-anchor="middle" style="font-size:10.8px;">SIM 1</text>
<text transform="translate(515.01,54.2) scale(0.92,1)" text-anchor="middle" style="font-size:10.8px;">SIM 3</text>
<text transform="translate(617.17,50.1) scale(0.92,1)" text-anchor="middle" style="font-size:10.8px;">SIM 6</text>
<text transform="translate(666,64.8) scale(0.92,1)" text-anchor="end" style="font-size:10.8px;fill:#1b5a9c;stroke:#1b5a9c;stroke-width:0.15px">1 ML/yr</text>
<text transform="translate(376.1,49.9) scale(0.9,1)" style="font-size:10.4px;">G</text>
<rect x="370.6" y="37.2" width="300.9" height="48" fill="none" stroke="#777" stroke-width="1"/>
<line x1="376.94" y1="85.2" x2="376.94" y2="83.6" stroke="#333" stroke-width="0.8"/>
<line x1="388.97" y1="85.2" x2="388.97" y2="83.6" stroke="#333" stroke-width="0.8"/>
<line x1="401" y1="85.2" x2="401" y2="82.2" stroke="#333" stroke-width="0.8"/>
<line x1="413.03" y1="85.2" x2="413.03" y2="83.6" stroke="#333" stroke-width="0.8"/>
<line x1="425.06" y1="85.2" x2="425.06" y2="83.6" stroke="#333" stroke-width="0.8"/>
<line x1="437.08" y1="85.2" x2="437.08" y2="83.6" stroke="#333" stroke-width="0.8"/>
<line x1="449.11" y1="85.2" x2="449.11" y2="83.6" stroke="#333" stroke-width="0.8"/>
<line x1="461.14" y1="85.2" x2="461.14" y2="82.2" stroke="#333" stroke-width="0.8"/>
<line x1="473.17" y1="85.2" x2="473.17" y2="83.6" stroke="#333" stroke-width="0.8"/>
<line x1="485.2" y1="85.2" x2="485.2" y2="83.6" stroke="#333" stroke-width="0.8"/>
<line x1="497.22" y1="85.2" x2="497.22" y2="83.6" stroke="#333" stroke-width="0.8"/>
<line x1="509.25" y1="85.2" x2="509.25" y2="83.6" stroke="#333" stroke-width="0.8"/>
<line x1="521.28" y1="85.2" x2="521.28" y2="82.2" stroke="#333" stroke-width="0.8"/>
<line x1="533.31" y1="85.2" x2="533.31" y2="83.6" stroke="#333" stroke-width="0.8"/>
<line x1="545.34" y1="85.2" x2="545.34" y2="83.6" stroke="#333" stroke-width="0.8"/>
<line x1="557.36" y1="85.2" x2="557.36" y2="83.6" stroke="#333" stroke-width="0.8"/>
<line x1="569.39" y1="85.2" x2="569.39" y2="83.6" stroke="#333" stroke-width="0.8"/>
<line x1="581.42" y1="85.2" x2="581.42" y2="82.2" stroke="#333" stroke-width="0.8"/>
<line x1="593.45" y1="85.2" x2="593.45" y2="83.6" stroke="#333" stroke-width="0.8"/>
<line x1="605.48" y1="85.2" x2="605.48" y2="83.6" stroke="#333" stroke-width="0.8"/>
<line x1="617.51" y1="85.2" x2="617.51" y2="83.6" stroke="#333" stroke-width="0.8"/>
<line x1="629.53" y1="85.2" x2="629.53" y2="83.6" stroke="#333" stroke-width="0.8"/>
<line x1="641.56" y1="85.2" x2="641.56" y2="82.2" stroke="#333" stroke-width="0.8"/>
<line x1="653.59" y1="85.2" x2="653.59" y2="83.6" stroke="#333" stroke-width="0.8"/>
<line x1="665.62" y1="85.2" x2="665.62" y2="83.6" stroke="#333" stroke-width="0.8"/>
<line x1="370.6" y1="52.2" x2="372.2" y2="52.2" stroke="#333" stroke-width="0.8"/>
<line x1="370.6" y1="82.2" x2="372.2" y2="82.2" stroke="#333" stroke-width="0.8"/>
<text transform="translate(367.7,41) scale(0.9,1)" text-anchor="end" style="font-size:10.8px;">50</text>
<text transform="translate(367.7,71.1) scale(0.9,1)" text-anchor="end" style="font-size:10.8px;">0</text>
<clipPath id="cB"><rect x="37.5" y="97.3" width="301.9" height="48"/></clipPath>
<g clip-path="url(#cB)">
<rect x="37.5" y="97.3" width="301.9" height="48" fill="#fff"/>
<clipPath id="fc1"><rect x="30" y="127" width="320" height="18.3"/></clipPath>
<g clip-path="url(#fc1)"><g filter="url(#ff1)">
<rect x="26.8" y="124" width="322.6" height="24.3" fill="rgb(148,148,148)"/>
<ellipse cx="60" cy="130" rx="13" ry="2" fill="rgb(105,105,105)"/>
<ellipse cx="105" cy="130.5" rx="18" ry="2" fill="rgb(110,110,110)"/>
<ellipse cx="163" cy="131" rx="30" ry="2.5" fill="rgb(122,122,122)"/>
<ellipse cx="258" cy="135" rx="25" ry="2.5" fill="rgb(115,115,115)"/>
<ellipse cx="295" cy="134" rx="13" ry="2" fill="rgb(99,99,99)"/>
<ellipse cx="320" cy="130" rx="23" ry="2" fill="rgb(130,130,130)"/>
<ellipse cx="100" cy="134" rx="8" ry="1.5" fill="rgb(184,184,184)"/>
<ellipse cx="48" cy="141" rx="15" ry="2.5" fill="rgb(184,184,184)"/>
<ellipse cx="67.5" cy="141" rx="10.5" ry="2.5" fill="rgb(168,168,168)"/>
<ellipse cx="85" cy="141" rx="13" ry="2.5" fill="rgb(204,204,204)"/>
<ellipse cx="112.5" cy="141" rx="20.5" ry="2.5" fill="rgb(184,184,184)"/>
<ellipse cx="140" cy="142" rx="13" ry="2.5" fill="rgb(214,214,214)"/>
<ellipse cx="167.5" cy="142" rx="20.5" ry="2.5" fill="rgb(209,209,209)"/>
<ellipse cx="212.5" cy="143.5" rx="30.5" ry="2" fill="rgb(184,184,184)"/>
<ellipse cx="215" cy="135" rx="18" ry="2" fill="rgb(184,184,184)"/>
<ellipse cx="250" cy="130" rx="13" ry="2" fill="rgb(189,189,189)"/>
<ellipse cx="253" cy="141" rx="20" ry="2" fill="rgb(204,204,204)"/>
<ellipse cx="290" cy="141" rx="23" ry="2" fill="rgb(158,158,158)"/>
<ellipse cx="325" cy="140.5" rx="18" ry="3" fill="rgb(204,204,204)"/>
<ellipse cx="330" cy="133" rx="13" ry="1.5" fill="rgb(184,184,184)"/>
</g></g>
<polygon points="66.4,126.9 67.2,125.6 68.2,124.8 71.7,124.8 74.3,123.3 78.4,122.7 90,122.5 105,121.9 120,120.9 140,119.1 155,118.1 170,116.9 180,116.3 200,115.5 220,114.8 235,114.4 250,113.8 270,113.1 284.5,112.6 296,112 311,110.9 326,109.9 339.3,109.1 339.4,127 66.4,127" fill="#fff6db"/>
<polygon points="37.5,126.7 66.4,126.7 66.8,127.7 66.7,127.9 62,128.7 55,129.2 37.5,129.2" fill="#0d1117"/>
<polyline points="66.4,127.2 67.2,125.9 68.2,125.1 71.7,125.1 74.3,123.6 78.4,123 90,122.8 105,122.2 120,121.2 140,119.4 155,118.4 170,117.2 180,116.6 200,115.8 220,115.1 235,114.7 250,114.1 270,113.4 284.5,112.9 296,112.3 311,111.2 326,110.2 339.3,109.4" fill="none" stroke="#111" stroke-width="1.4"/>
<line x1="66.4" y1="127.5" x2="339.4" y2="127.5" stroke="#111" stroke-width="1.1"/>
<line x1="85.3" y1="122.2" x2="85.3" y2="128.9" stroke="#111" stroke-width="1.35"/>
<line x1="130.4" y1="119.9" x2="130.4" y2="136.4" stroke="#111" stroke-width="1.35"/>
<line x1="182" y1="116.6" x2="182" y2="137.9" stroke="#111" stroke-width="1.35"/>
<line x1="284.6" y1="111.6" x2="284.6" y2="145.3" stroke="#111" stroke-width="1.35"/>
</g>
<text transform="translate(85.3,120.1) scale(0.92,1)" text-anchor="middle" style="font-size:10.8px;">SIM 2</text>
<text transform="translate(130.4,117.4) scale(0.92,1)" text-anchor="middle" style="font-size:10.8px;">SIM 1</text>
<text transform="translate(182,114.3) scale(0.92,1)" text-anchor="middle" style="font-size:10.8px;">SIM 3</text>
<text transform="translate(284.6,110.2) scale(0.92,1)" text-anchor="middle" style="font-size:10.8px;">SIM 6</text>
<text transform="translate(43.5,110.3) scale(0.9,1)" style="font-size:10.4px;">B</text>
<rect x="37.5" y="97.3" width="301.9" height="48" fill="none" stroke="#777" stroke-width="1"/>
<line x1="43.34" y1="145.3" x2="43.34" y2="143.7" stroke="#333" stroke-width="0.8"/>
<line x1="55.42" y1="145.3" x2="55.42" y2="143.7" stroke="#333" stroke-width="0.8"/>
<line x1="67.5" y1="145.3" x2="67.5" y2="142.3" stroke="#333" stroke-width="0.8"/>
<line x1="79.58" y1="145.3" x2="79.58" y2="143.7" stroke="#333" stroke-width="0.8"/>
<line x1="91.66" y1="145.3" x2="91.66" y2="143.7" stroke="#333" stroke-width="0.8"/>
<line x1="103.74" y1="145.3" x2="103.74" y2="143.7" stroke="#333" stroke-width="0.8"/>
<line x1="115.82" y1="145.3" x2="115.82" y2="143.7" stroke="#333" stroke-width="0.8"/>
<line x1="127.9" y1="145.3" x2="127.9" y2="142.3" stroke="#333" stroke-width="0.8"/>
<line x1="139.98" y1="145.3" x2="139.98" y2="143.7" stroke="#333" stroke-width="0.8"/>
<line x1="152.06" y1="145.3" x2="152.06" y2="143.7" stroke="#333" stroke-width="0.8"/>
<line x1="164.14" y1="145.3" x2="164.14" y2="143.7" stroke="#333" stroke-width="0.8"/>
<line x1="176.22" y1="145.3" x2="176.22" y2="143.7" stroke="#333" stroke-width="0.8"/>
<line x1="188.3" y1="145.3" x2="188.3" y2="142.3" stroke="#333" stroke-width="0.8"/>
<line x1="200.38" y1="145.3" x2="200.38" y2="143.7" stroke="#333" stroke-width="0.8"/>
<line x1="212.46" y1="145.3" x2="212.46" y2="143.7" stroke="#333" stroke-width="0.8"/>
<line x1="224.54" y1="145.3" x2="224.54" y2="143.7" stroke="#333" stroke-width="0.8"/>
<line x1="236.62" y1="145.3" x2="236.62" y2="143.7" stroke="#333" stroke-width="0.8"/>
<line x1="248.7" y1="145.3" x2="248.7" y2="142.3" stroke="#333" stroke-width="0.8"/>
<line x1="260.78" y1="145.3" x2="260.78" y2="143.7" stroke="#333" stroke-width="0.8"/>
<line x1="272.86" y1="145.3" x2="272.86" y2="143.7" stroke="#333" stroke-width="0.8"/>
<line x1="284.94" y1="145.3" x2="284.94" y2="143.7" stroke="#333" stroke-width="0.8"/>
<line x1="297.02" y1="145.3" x2="297.02" y2="143.7" stroke="#333" stroke-width="0.8"/>
<line x1="309.1" y1="145.3" x2="309.1" y2="142.3" stroke="#333" stroke-width="0.8"/>
<line x1="321.18" y1="145.3" x2="321.18" y2="143.7" stroke="#333" stroke-width="0.8"/>
<line x1="333.26" y1="145.3" x2="333.26" y2="143.7" stroke="#333" stroke-width="0.8"/>
<line x1="37.5" y1="112.3" x2="39.1" y2="112.3" stroke="#333" stroke-width="0.8"/>
<line x1="37.5" y1="142.3" x2="39.1" y2="142.3" stroke="#333" stroke-width="0.8"/>
<text transform="translate(34.6,101.1) scale(0.9,1)" text-anchor="end" style="font-size:10.8px;">50</text>
<text transform="translate(34.6,130.8) scale(0.9,1)" text-anchor="end" style="font-size:10.8px;">0</text>
<clipPath id="cH"><rect x="370.6" y="97.6" width="300.9" height="48"/></clipPath>
<g clip-path="url(#cH)">
<rect x="370.6" y="97.6" width="300.9" height="48" fill="#fff"/>
<rect x="370.6" y="127.7" width="300.9" height="17.9" fill="#fd3d3d"/>
<g filter="url(#soft)">
<polygon points="398.5,127.7 398.5,127.7 398.8,127.7 399.2,130.1 400.5,131.03 401,131.39 401.3,131.6 402.5,132.46 404.8,134.1 406.5,134.53 410.5,135.54 413.5,136.3 414.5,136.54 418.5,137.49 419.6,137.76 422.3,138.4 422.5,138.46 426.5,139.7 426.6,139.73 430.5,140.94 431,141.1 432.8,141.45 434.5,141.78 438.5,142.55 439.8,142.8 442.5,143.48 446.5,144.49 448.5,145 450,145.51 450.5,145.69 452,146.2 454.5,146.6 458.5,146.6 461.7,146.6 462.5,146.6 466.5,146.6 470.5,146.6 473.4,146.6 474.5,146.6 478.5,146.6 482.5,146.6 485,146.6 486.5,146.6 490,146.6 490.5,146.6 494.5,146.6 496.7,146.6 498.5,146.6 502.5,146.6 502.6,146.6 506.5,146.6 508.4,146.6 510.5,146.6 514.3,146.6 514.5,146.6 518.5,146.6 521.3,146.6 522.5,146.6 524,146.6 526.5,146.6 530.5,146.6 534.5,146.6 538.5,146.6 542.5,146.6 546.5,146.6 550.5,146.6 554.5,146.6 558.5,146.6 562.5,146.6 566.5,146.6 570.5,146.6 574.5,146.6 578.5,146.6 582.5,146.6 586.5,146.6 590.5,146.6 594.5,146.6 598.5,146.6 602.5,146.6 606.5,146.6 610.5,146.6 614.5,146.6 618.5,146.6 622.5,146.6 626.5,146.6 630.5,146.6 634.5,146.6 638.5,146.6 642.5,146.6 646.5,146.6 650.5,146.6 654.5,146.6 658.5,146.6 662.5,146.6 666.5,146.6 670.5,146.6 674.5,146.6 674.5,127.7" fill="#fe3f3c"/>
<polygon points="398.5,127.7 398.5,127.7 398.8,127.7 399.2,129.44 400.5,130.17 401,130.56 401.3,130.8 402.5,131.55 404.8,133 406.5,133.45 410.5,134.51 413.5,135.3 414.5,135.53 418.5,136.45 419.6,136.7 422.3,137.32 422.5,137.38 426.5,138.46 426.6,138.49 430.5,139.54 431,139.67 432.8,140 434.5,140.31 438.5,141.04 439.8,141.28 442.5,141.95 446.5,142.96 448.5,143.46 450,143.94 450.5,144.08 452,144.52 454.5,145.26 458.5,146.43 461.7,146.6 462.5,146.6 466.5,146.6 470.5,146.6 473.4,146.6 474.5,146.6 478.5,146.6 482.5,146.6 485,146.6 486.5,146.6 490,146.6 490.5,146.6 494.5,146.6 496.7,146.6 498.5,146.6 502.5,146.6 502.6,146.6 506.5,146.6 508.4,146.6 510.5,146.6 514.3,146.6 514.5,146.6 518.5,146.6 521.3,146.6 522.5,146.6 524,146.6 526.5,146.6 530.5,146.6 534.5,146.6 538.5,146.6 542.5,146.6 546.5,146.6 550.5,146.6 554.5,146.6 558.5,146.6 562.5,146.6 566.5,146.6 570.5,146.6 574.5,146.6 578.5,146.6 582.5,146.6 586.5,146.6 590.5,146.6 594.5,146.6 598.5,146.6 602.5,146.6 606.5,146.6 610.5,146.6 614.5,146.6 618.5,146.6 622.5,146.6 626.5,146.6 630.5,146.6 634.5,146.6 638.5,146.6 642.5,146.6 646.5,146.6 650.5,146.6 654.5,146.6 658.5,146.6 662.5,146.6 666.5,146.6 670.5,146.6 674.5,146.6 674.5,127.7" fill="#fc533c"/>
<polygon points="398.5,127.7 398.5,127.7 398.8,127.7 399.2,128.78 400.5,129.31 401,129.74 401.3,130 402.5,130.65 404.8,131.9 406.5,132.37 410.5,133.47 413.5,134.3 414.5,134.52 418.5,135.41 419.6,135.65 422.3,136.25 422.5,136.3 426.5,137.22 426.6,137.24 430.5,138.14 431,138.25 432.8,138.56 434.5,138.85 438.5,139.53 439.8,139.75 442.5,140.42 446.5,141.42 448.5,141.92 450,142.36 450.5,142.48 452,142.85 454.5,143.46 458.5,144.43 461.7,145.21 462.5,145.42 466.5,146.45 470.5,146.6 473.4,146.6 474.5,146.6 478.5,146.6 482.5,146.6 485,146.6 486.5,146.6 490,146.6 490.5,146.6 494.5,146.6 496.7,146.6 498.5,146.6 502.5,146.6 502.6,146.6 506.5,146.6 508.4,146.6 510.5,146.6 514.3,146.6 514.5,146.6 518.5,146.6 521.3,146.6 522.5,146.6 524,146.6 526.5,146.6 530.5,146.6 534.5,146.6 538.5,146.6 542.5,146.6 546.5,146.6 550.5,146.6 554.5,146.6 558.5,146.6 562.5,146.6 566.5,146.6 570.5,146.6 574.5,146.6 578.5,146.6 582.5,146.6 586.5,146.6 590.5,146.6 594.5,146.6 598.5,146.6 602.5,146.6 606.5,146.6 610.5,146.6 614.5,146.6 618.5,146.6 622.5,146.6 626.5,146.6 630.5,146.6 634.5,146.6 638.5,146.6 642.5,146.6 646.5,146.6 650.5,146.6 654.5,146.6 658.5,146.6 662.5,146.6 666.5,146.6 670.5,146.6 674.5,146.6 674.5,127.7" fill="#fa6d3b"/>
<polygon points="398.5,127.7 398.5,127.7 398.8,127.7 399.2,128.13 400.5,128.46 401,128.92 401.3,129.2 402.5,129.75 404.8,130.8 406.5,131.29 410.5,132.44 413.5,133.3 414.5,133.51 418.5,134.37 419.6,134.6 422.3,135.17 422.5,135.21 426.5,135.97 426.6,135.99 430.5,136.73 431,136.82 432.8,137.11 434.5,137.38 438.5,138.02 439.8,138.22 442.5,138.89 446.5,139.88 448.5,140.37 450,140.78 450.5,140.88 452,141.17 454.5,141.65 458.5,142.43 461.7,143.06 462.5,143.23 466.5,144.08 470.5,144.94 473.4,145.56 474.5,145.79 478.5,146.6 482.5,146.6 485,146.6 486.5,146.6 490,146.6 490.5,146.6 494.5,146.6 496.7,146.6 498.5,146.6 502.5,146.6 502.6,146.6 506.5,146.6 508.4,146.6 510.5,146.6 514.3,146.6 514.5,146.6 518.5,146.6 521.3,146.6 522.5,146.6 524,146.6 526.5,146.6 530.5,146.6 534.5,146.6 538.5,146.6 542.5,146.6 546.5,146.6 550.5,146.6 554.5,146.6 558.5,146.6 562.5,146.6 566.5,146.6 570.5,146.6 574.5,146.6 578.5,146.6 582.5,146.6 586.5,146.6 590.5,146.6 594.5,146.6 598.5,146.6 602.5,146.6 606.5,146.6 610.5,146.6 614.5,146.6 618.5,146.6 622.5,146.6 626.5,146.6 630.5,146.6 634.5,146.6 638.5,146.6 642.5,146.6 646.5,146.6 650.5,146.6 654.5,146.6 658.5,146.6 662.5,146.6 666.5,146.6 670.5,146.6 674.5,146.6 674.5,127.7" fill="#fa8839"/>
<polygon points="398.5,127.7 398.5,127.7 398.8,127.7 399.2,127.7 400.5,127.7 401,128.1 401.3,128.4 402.5,128.85 404.8,129.7 406.5,130.21 410.5,131.4 413.5,132.3 414.5,132.5 418.5,133.32 419.6,133.55 422.3,134.1 422.5,134.13 426.5,134.73 426.6,134.74 430.5,135.33 431,135.4 432.8,135.67 434.5,135.92 438.5,136.51 439.8,136.7 442.5,137.36 446.5,138.34 448.5,138.83 450,139.2 450.5,139.27 452,139.49 454.5,139.85 458.5,140.44 461.7,140.9 462.5,141.04 466.5,141.72 470.5,142.4 473.4,142.9 474.5,143.08 478.5,143.74 482.5,144.39 485,144.8 486.5,145.22 490,146.2 490.5,146.34 494.5,146.6 496.7,146.6 498.5,146.6 502.5,146.6 502.6,146.6 506.5,146.6 508.4,146.6 510.5,146.6 514.3,146.6 514.5,146.6 518.5,146.6 521.3,146.6 522.5,146.6 524,146.6 526.5,146.6 530.5,146.6 534.5,146.6 538.5,146.6 542.5,146.6 546.5,146.6 550.5,146.6 554.5,146.6 558.5,146.6 562.5,146.6 566.5,146.6 570.5,146.6 574.5,146.6 578.5,146.6 582.5,146.6 586.5,146.6 590.5,146.6 594.5,146.6 598.5,146.6 602.5,146.6 606.5,146.6 610.5,146.6 614.5,146.6 618.5,146.6 622.5,146.6 626.5,146.6 630.5,146.6 634.5,146.6 638.5,146.6 642.5,146.6 646.5,146.6 650.5,146.6 654.5,146.6 658.5,146.6 662.5,146.6 666.5,146.6 670.5,146.6 674.5,146.6 674.5,127.7" fill="#fc9e38"/>
<polygon points="398.5,127.7 398.5,127.7 398.8,127.7 399.2,127.7 400.5,127.7 401,128.1 401.3,128.4 402.5,128.85 404.8,129.7 406.5,130.21 410.5,131.4 413.5,132.3 414.5,132.5 418.5,133.32 419.6,133.55 422.3,134.1 422.5,134.13 426.5,134.73 426.6,134.74 430.5,135.33 431,135.4 432.8,135.67 434.5,135.92 438.5,136.51 439.8,136.7 442.5,137.36 446.5,138.34 448.5,138.83 450,139.2 450.5,139.27 452,139.49 454.5,139.85 458.5,140.44 461.7,140.9 462.5,141.04 466.5,141.72 470.5,142.4 473.4,142.9 474.5,143.08 478.5,143.74 482.5,144.39 485,144.8 486.5,145.22 490,146.2 490.5,146.34 494.5,146.6 496.7,146.6 498.5,146.6 502.5,146.6 502.6,146.6 506.5,146.6 508.4,146.6 510.5,146.6 514.3,146.6 514.5,146.6 518.5,146.6 521.3,146.6 522.5,146.6 524,146.6 526.5,146.6 530.5,146.6 534.5,146.6 538.5,146.6 542.5,146.6 546.5,146.6 550.5,146.6 554.5,146.6 558.5,146.6 562.5,146.6 566.5,146.6 570.5,146.6 574.5,146.6 578.5,146.6 582.5,146.6 586.5,146.6 590.5,146.6 594.5,146.6 598.5,146.6 602.5,146.6 606.5,146.6 610.5,146.6 614.5,146.6 618.5,146.6 622.5,146.6 626.5,146.6 630.5,146.6 634.5,146.6 638.5,146.6 642.5,146.6 646.5,146.6 650.5,146.6 654.5,146.6 658.5,146.6 662.5,146.6 666.5,146.6 670.5,146.6 674.5,146.6 674.5,127.7" fill="#fc9e38"/>
<polygon points="398.5,127.7 398.5,127.7 398.8,127.7 399.2,127.7 400.5,127.7 401,127.95 401.3,128.22 402.5,128.63 404.8,129.41 406.5,129.87 410.5,130.97 413.5,131.79 414.5,131.98 418.5,132.74 419.6,132.94 422.3,133.49 422.5,133.52 426.5,134.13 426.6,134.15 430.5,134.79 431,134.87 432.8,135.16 434.5,135.42 438.5,136.02 439.8,136.22 442.5,136.82 446.5,137.72 448.5,138.16 450,138.5 450.5,138.57 452,138.78 454.5,139.13 458.5,139.69 461.7,140.14 462.5,140.28 466.5,140.98 470.5,141.67 473.4,142.18 474.5,142.35 478.5,142.96 482.5,143.57 485,143.95 486.5,144.35 490,145.28 490.5,145.42 494.5,146.48 496.7,146.6 498.5,146.6 502.5,146.6 502.6,146.6 506.5,146.6 508.4,146.6 510.5,146.6 514.3,146.6 514.5,146.6 518.5,146.6 521.3,146.6 522.5,146.6 524,146.6 526.5,146.6 530.5,146.6 534.5,146.6 538.5,146.6 542.5,146.6 546.5,146.6 550.5,146.6 554.5,146.6 558.5,146.6 562.5,146.6 566.5,146.6 570.5,146.6 574.5,146.6 578.5,146.6 582.5,146.6 586.5,146.6 590.5,146.6 594.5,146.6 598.5,146.6 602.5,146.6 606.5,146.6 610.5,146.6 614.5,146.6 618.5,146.6 622.5,146.6 626.5,146.6 630.5,146.6 634.5,146.6 638.5,146.6 642.5,146.6 646.5,146.6 650.5,146.6 654.5,146.6 658.5,146.6 662.5,146.6 666.5,146.6 670.5,146.6 674.5,146.6 674.5,127.7" fill="#f5c43e"/>
<polygon points="398.5,127.7 398.5,127.7 398.8,127.7 399.2,127.7 400.5,127.7 401,127.8 401.3,128.04 402.5,128.41 404.8,129.12 406.5,129.54 410.5,130.53 413.5,131.28 414.5,131.45 418.5,132.15 419.6,132.34 422.3,132.88 422.5,132.91 426.5,133.54 426.6,133.55 430.5,134.25 431,134.34 432.8,134.65 434.5,134.92 438.5,135.54 439.8,135.74 442.5,136.29 446.5,137.09 448.5,137.5 450,137.8 450.5,137.87 452,138.07 454.5,138.41 458.5,138.95 461.7,139.38 462.5,139.52 466.5,140.23 470.5,140.94 473.4,141.46 474.5,141.62 478.5,142.18 482.5,142.75 485,143.1 486.5,143.48 490,144.37 490.5,144.49 494.5,145.5 496.7,146.06 498.5,146.54 502.5,146.6 502.6,146.6 506.5,146.6 508.4,146.6 510.5,146.6 514.3,146.6 514.5,146.6 518.5,146.6 521.3,146.6 522.5,146.6 524,146.6 526.5,146.6 530.5,146.6 534.5,146.6 538.5,146.6 542.5,146.6 546.5,146.6 550.5,146.6 554.5,146.6 558.5,146.6 562.5,146.6 566.5,146.6 570.5,146.6 574.5,146.6 578.5,146.6 582.5,146.6 586.5,146.6 590.5,146.6 594.5,146.6 598.5,146.6 602.5,146.6 606.5,146.6 610.5,146.6 614.5,146.6 618.5,146.6 622.5,146.6 626.5,146.6 630.5,146.6 634.5,146.6 638.5,146.6 642.5,146.6 646.5,146.6 650.5,146.6 654.5,146.6 658.5,146.6 662.5,146.6 666.5,146.6 670.5,146.6 674.5,146.6 674.5,127.7" fill="#cac659"/>
<polygon points="398.5,127.7 398.5,127.7 398.8,127.7 399.2,127.7 400.5,127.7 401,127.7 401.3,127.86 402.5,128.19 404.8,128.83 406.5,129.21 410.5,130.1 413.5,130.77 414.5,130.93 418.5,131.56 419.6,131.73 422.3,132.27 422.5,132.3 426.5,132.94 426.6,132.96 430.5,133.71 431,133.8 432.8,134.15 434.5,134.42 438.5,135.05 439.8,135.26 442.5,135.75 446.5,136.47 448.5,136.83 450,137.1 450.5,137.16 452,137.36 454.5,137.68 458.5,138.2 461.7,138.62 462.5,138.76 466.5,139.49 470.5,140.21 473.4,140.74 474.5,140.88 478.5,141.4 482.5,141.92 485,142.25 486.5,142.61 490,143.45 490.5,143.57 494.5,144.53 496.7,145.05 498.5,145.52 502.5,146.54 502.6,146.57 506.5,146.6 508.4,146.6 510.5,146.6 514.3,146.6 514.5,146.6 518.5,146.6 521.3,146.6 522.5,146.6 524,146.6 526.5,146.6 530.5,146.6 534.5,146.6 538.5,146.6 542.5,146.6 546.5,146.6 550.5,146.6 554.5,146.6 558.5,146.6 562.5,146.6 566.5,146.6 570.5,146.6 574.5,146.6 578.5,146.6 582.5,146.6 586.5,146.6 590.5,146.6 594.5,146.6 598.5,146.6 602.5,146.6 606.5,146.6 610.5,146.6 614.5,146.6 618.5,146.6 622.5,146.6 626.5,146.6 630.5,146.6 634.5,146.6 638.5,146.6 642.5,146.6 646.5,146.6 650.5,146.6 654.5,146.6 658.5,146.6 662.5,146.6 666.5,146.6 670.5,146.6 674.5,146.6 674.5,127.7" fill="#a2c86b"/>
<polygon points="398.5,127.7 398.5,127.7 398.8,127.7 399.2,127.7 400.5,127.7 401,127.7 401.3,127.7 402.5,127.98 404.8,128.53 406.5,128.87 410.5,129.67 413.5,130.26 414.5,130.4 418.5,130.97 419.6,131.13 422.3,131.66 422.5,131.69 426.5,132.35 426.6,132.37 430.5,133.17 431,133.27 432.8,133.64 434.5,133.92 438.5,134.57 439.8,134.78 442.5,135.21 446.5,135.84 448.5,136.16 450,136.4 450.5,136.46 452,136.65 454.5,136.96 458.5,137.46 461.7,137.86 462.5,138.01 466.5,138.75 470.5,139.48 473.4,140.02 474.5,140.15 478.5,140.63 482.5,141.1 485,141.4 486.5,141.74 490,142.53 490.5,142.64 494.5,143.55 496.7,144.05 498.5,144.49 502.5,145.49 502.6,145.52 506.5,146.6 508.4,146.6 510.5,146.6 514.3,146.6 514.5,146.6 518.5,146.6 521.3,146.6 522.5,146.6 524,146.6 526.5,146.6 530.5,146.6 534.5,146.6 538.5,146.6 542.5,146.6 546.5,146.6 550.5,146.6 554.5,146.6 558.5,146.6 562.5,146.6 566.5,146.6 570.5,146.6 574.5,146.6 578.5,146.6 582.5,146.6 586.5,146.6 590.5,146.6 594.5,146.6 598.5,146.6 602.5,146.6 606.5,146.6 610.5,146.6 614.5,146.6 618.5,146.6 622.5,146.6 626.5,146.6 630.5,146.6 634.5,146.6 638.5,146.6 642.5,146.6 646.5,146.6 650.5,146.6 654.5,146.6 658.5,146.6 662.5,146.6 666.5,146.6 670.5,146.6 674.5,146.6 674.5,127.7" fill="#82c87f"/>
<polygon points="398.5,127.7 398.5,127.7 398.8,127.7 399.2,127.7 400.5,127.7 401,127.7 401.3,127.7 402.5,127.76 404.8,128.24 406.5,128.54 410.5,129.23 413.5,129.75 414.5,129.88 418.5,130.38 419.6,130.52 422.3,131.05 422.5,131.08 426.5,131.75 426.6,131.77 430.5,132.63 431,132.74 432.8,133.13 434.5,133.42 438.5,134.08 439.8,134.3 442.5,134.67 446.5,135.22 448.5,135.49 450,135.7 450.5,135.76 452,135.94 454.5,136.24 458.5,136.72 461.7,137.1 462.5,137.25 466.5,138 470.5,138.75 473.4,139.3 474.5,139.42 478.5,139.85 482.5,140.28 485,140.55 486.5,140.87 490,141.61 490.5,141.72 494.5,142.57 496.7,143.04 498.5,143.47 502.5,144.44 502.6,144.46 506.5,145.58 508.4,146.13 510.5,146.6 514.3,146.6 514.5,146.6 518.5,146.6 521.3,146.6 522.5,146.6 524,146.6 526.5,146.6 530.5,146.6 534.5,146.6 538.5,146.6 542.5,146.6 546.5,146.6 550.5,146.6 554.5,146.6 558.5,146.6 562.5,146.6 566.5,146.6 570.5,146.6 574.5,146.6 578.5,146.6 582.5,146.6 586.5,146.6 590.5,146.6 594.5,146.6 598.5,146.6 602.5,146.6 606.5,146.6 610.5,146.6 614.5,146.6 618.5,146.6 622.5,146.6 626.5,146.6 630.5,146.6 634.5,146.6 638.5,146.6 642.5,146.6 646.5,146.6 650.5,146.6 654.5,146.6 658.5,146.6 662.5,146.6 666.5,146.6 670.5,146.6 674.5,146.6 674.5,127.7" fill="#81c49a"/>
<polygon points="398.5,127.7 398.5,127.7 398.8,127.7 399.2,127.7 400.5,127.7 401,127.7 401.3,127.7 402.5,127.7 404.8,127.95 406.5,128.2 410.5,128.8 413.5,129.24 414.5,129.35 418.5,129.8 419.6,129.92 422.3,130.44 422.5,130.48 426.5,131.16 426.6,131.18 430.5,132.09 431,132.21 432.8,132.63 434.5,132.92 438.5,133.6 439.8,133.82 442.5,134.13 446.5,134.6 448.5,134.83 450,135 450.5,135.06 452,135.23 454.5,135.52 458.5,135.97 461.7,136.34 462.5,136.49 466.5,137.26 470.5,138.02 473.4,138.58 474.5,138.69 478.5,139.07 482.5,139.46 485,139.7 486.5,140 490,140.7 490.5,140.8 494.5,141.59 496.7,142.03 498.5,142.45 502.5,143.39 502.6,143.41 506.5,144.53 508.4,145.08 510.5,145.7 514.3,146.6 514.5,146.6 518.5,146.6 521.3,146.6 522.5,146.6 524,146.6 526.5,146.6 530.5,146.6 534.5,146.6 538.5,146.6 542.5,146.6 546.5,146.6 550.5,146.6 554.5,146.6 558.5,146.6 562.5,146.6 566.5,146.6 570.5,146.6 574.5,146.6 578.5,146.6 582.5,146.6 586.5,146.6 590.5,146.6 594.5,146.6 598.5,146.6 602.5,146.6 606.5,146.6 610.5,146.6 614.5,146.6 618.5,146.6 622.5,146.6 626.5,146.6 630.5,146.6 634.5,146.6 638.5,146.6 642.5,146.6 646.5,146.6 650.5,146.6 654.5,146.6 658.5,146.6 662.5,146.6 666.5,146.6 670.5,146.6 674.5,146.6 674.5,127.7" fill="#80bfaa"/>
<polygon points="398.5,127.7 398.5,127.7 398.8,127.7 399.2,127.7 400.5,127.7 401,127.7 401.3,127.7 402.5,127.7 404.8,127.7 406.5,127.87 410.5,128.36 413.5,128.73 414.5,128.83 418.5,129.21 419.6,129.31 422.3,129.83 422.5,129.87 426.5,130.57 426.6,130.58 430.5,131.55 431,131.67 432.8,132.12 434.5,132.42 438.5,133.11 439.8,133.34 442.5,133.59 446.5,133.97 448.5,134.16 450,134.3 450.5,134.35 452,134.52 454.5,134.79 458.5,135.23 461.7,135.58 462.5,135.74 466.5,136.52 470.5,137.29 473.4,137.86 474.5,137.95 478.5,138.3 482.5,138.64 485,138.85 486.5,139.13 490,139.78 490.5,139.87 494.5,140.61 496.7,141.02 498.5,141.43 502.5,142.34 502.6,142.36 506.5,143.49 508.4,144.04 510.5,144.66 514.3,145.79 514.5,145.85 518.5,146.6 521.3,146.6 522.5,146.6 524,146.6 526.5,146.6 530.5,146.6 534.5,146.6 538.5,146.6 542.5,146.6 546.5,146.6 550.5,146.6 554.5,146.6 558.5,146.6 562.5,146.6 566.5,146.6 570.5,146.6 574.5,146.6 578.5,146.6 582.5,146.6 586.5,146.6 590.5,146.6 594.5,146.6 598.5,146.6 602.5,146.6 606.5,146.6 610.5,146.6 614.5,146.6 618.5,146.6 622.5,146.6 626.5,146.6 630.5,146.6 634.5,146.6 638.5,146.6 642.5,146.6 646.5,146.6 650.5,146.6 654.5,146.6 658.5,146.6 662.5,146.6 666.5,146.6 670.5,146.6 674.5,146.6 674.5,127.7" fill="#80b9be"/>
<polygon points="398.5,127.7 398.5,127.7 398.8,127.7 399.2,127.7 400.5,127.7 401,127.7 401.3,127.7 402.5,127.7 404.8,127.7 406.5,127.7 410.5,127.93 413.5,128.22 414.5,128.3 418.5,128.62 419.6,128.71 422.3,129.22 422.5,129.26 426.5,129.97 426.6,129.99 430.5,131.01 431,131.14 432.8,131.61 434.5,131.92 438.5,132.63 439.8,132.86 442.5,133.06 446.5,133.35 448.5,133.49 450,133.6 450.5,133.65 452,133.81 454.5,134.07 458.5,134.49 461.7,134.82 462.5,134.98 466.5,135.77 470.5,136.56 473.4,137.14 474.5,137.22 478.5,137.52 482.5,137.81 485,138 486.5,138.26 490,138.86 490.5,138.95 494.5,139.64 496.7,140.02 498.5,140.41 502.5,141.28 502.6,141.31 506.5,142.44 508.4,142.99 510.5,143.62 514.3,144.76 514.5,144.82 518.5,146 521.3,146.6 522.5,146.6 524,146.6 526.5,146.6 530.5,146.6 534.5,146.6 538.5,146.6 542.5,146.6 546.5,146.6 550.5,146.6 554.5,146.6 558.5,146.6 562.5,146.6 566.5,146.6 570.5,146.6 574.5,146.6 578.5,146.6 582.5,146.6 586.5,146.6 590.5,146.6 594.5,146.6 598.5,146.6 602.5,146.6 606.5,146.6 610.5,146.6 614.5,146.6 618.5,146.6 622.5,146.6 626.5,146.6 630.5,146.6 634.5,146.6 638.5,146.6 642.5,146.6 646.5,146.6 650.5,146.6 654.5,146.6 658.5,146.6 662.5,146.6 666.5,146.6 670.5,146.6 674.5,146.6 674.5,127.7" fill="#82b6cf"/>
<polygon points="398.5,127.7 398.5,127.7 398.8,127.7 399.2,127.7 400.5,127.7 401,127.7 401.3,127.7 402.5,127.7 404.8,127.7 406.5,127.7 410.5,127.7 413.5,127.71 414.5,127.78 418.5,128.03 419.6,128.1 422.3,128.61 422.5,128.65 426.5,129.38 426.6,129.39 430.5,130.47 431,130.61 432.8,131.11 434.5,131.42 438.5,132.14 439.8,132.38 442.5,132.52 446.5,132.72 448.5,132.82 450,132.9 450.5,132.95 452,133.1 454.5,133.35 458.5,133.74 461.7,134.06 462.5,134.22 466.5,135.03 470.5,135.84 473.4,136.42 474.5,136.49 478.5,136.74 482.5,136.99 485,137.15 486.5,137.39 490,137.94 490.5,138.02 494.5,138.66 496.7,139.01 498.5,139.39 502.5,140.23 502.6,140.25 506.5,141.39 508.4,141.95 510.5,142.58 514.3,143.73 514.5,143.79 518.5,144.98 521.3,145.82 522.5,146.41 524,146.6 526.5,146.6 530.5,146.6 534.5,146.6 538.5,146.6 542.5,146.6 546.5,146.6 550.5,146.6 554.5,146.6 558.5,146.6 562.5,146.6 566.5,146.6 570.5,146.6 574.5,146.6 578.5,146.6 582.5,146.6 586.5,146.6 590.5,146.6 594.5,146.6 598.5,146.6 602.5,146.6 606.5,146.6 610.5,146.6 614.5,146.6 618.5,146.6 622.5,146.6 626.5,146.6 630.5,146.6 634.5,146.6 638.5,146.6 642.5,146.6 646.5,146.6 650.5,146.6 654.5,146.6 658.5,146.6 662.5,146.6 666.5,146.6 670.5,146.6 674.5,146.6 674.5,127.7" fill="#88b7d9"/>
<polygon points="398.5,127.7 398.5,127.7 398.8,127.7 399.2,127.7 400.5,127.7 401,127.7 401.3,127.7 402.5,127.7 404.8,127.7 406.5,127.7 410.5,127.7 413.5,127.7 414.5,127.7 418.5,127.7 419.6,127.7 422.3,128 422.5,128.04 426.5,128.78 426.6,128.8 430.5,129.93 431,130.08 432.8,130.6 434.5,130.92 438.5,131.66 439.8,131.9 442.5,131.98 446.5,132.1 448.5,132.16 450,132.2 450.5,132.25 452,132.39 454.5,132.62 458.5,133 461.7,133.3 462.5,133.46 466.5,134.28 470.5,135.11 473.4,135.7 474.5,135.76 478.5,135.96 482.5,136.17 485,136.3 486.5,136.52 490,137.03 490.5,137.1 494.5,137.68 496.7,138 498.5,138.37 502.5,139.18 502.6,139.2 506.5,140.34 508.4,140.9 510.5,141.54 514.3,142.7 514.5,142.76 518.5,143.96 521.3,144.8 522.5,145.42 524,146.2 526.5,146.6 530.5,146.6 534.5,146.6 538.5,146.6 542.5,146.6 546.5,146.6 550.5,146.6 554.5,146.6 558.5,146.6 562.5,146.6 566.5,146.6 570.5,146.6 574.5,146.6 578.5,146.6 582.5,146.6 586.5,146.6 590.5,146.6 594.5,146.6 598.5,146.6 602.5,146.6 606.5,146.6 610.5,146.6 614.5,146.6 618.5,146.6 622.5,146.6 626.5,146.6 630.5,146.6 634.5,146.6 638.5,146.6 642.5,146.6 646.5,146.6 650.5,146.6 654.5,146.6 658.5,146.6 662.5,146.6 666.5,146.6 670.5,146.6 674.5,146.6 674.5,127.7" fill="#90bddc"/>
<polygon points="398.5,127.7 398.5,127.7 398.8,127.7 399.2,127.7 400.5,127.7 401,127.7 401.3,127.7 402.5,127.7 404.8,127.7 406.5,127.7 410.5,127.7 413.5,127.7 414.5,127.7 418.5,127.7 419.6,127.7 422.3,127.7 422.5,127.7 426.5,127.78 426.6,127.8 430.5,128.93 431,129.08 432.8,129.6 434.5,129.92 438.5,130.66 439.8,130.9 442.5,130.98 446.5,131.1 448.5,131.16 450,131.2 450.5,131.25 452,131.39 454.5,131.62 458.5,132 461.7,132.3 462.5,132.46 466.5,133.28 470.5,134.11 473.4,134.7 474.5,134.76 478.5,134.96 482.5,135.17 485,135.3 486.5,135.52 490,136.03 490.5,136.1 494.5,136.68 496.7,137 498.5,137.37 502.5,138.18 502.6,138.2 506.5,139.34 508.4,139.9 510.5,140.54 514.3,141.7 514.5,141.76 518.5,142.96 521.3,143.8 522.5,144.42 524,145.2 526.5,146.5 530.5,146.6 534.5,146.6 538.5,146.6 542.5,146.6 546.5,146.6 550.5,146.6 554.5,146.6 558.5,146.6 562.5,146.6 566.5,146.6 570.5,146.6 574.5,146.6 578.5,146.6 582.5,146.6 586.5,146.6 590.5,146.6 594.5,146.6 598.5,146.6 602.5,146.6 606.5,146.6 610.5,146.6 614.5,146.6 618.5,146.6 622.5,146.6 626.5,146.6 630.5,146.6 634.5,146.6 638.5,146.6 642.5,146.6 646.5,146.6 650.5,146.6 654.5,146.6 658.5,146.6 662.5,146.6 666.5,146.6 670.5,146.6 674.5,146.6 674.5,127.7" fill="#d9e6f2"/>
<polygon points="398.5,127.7 398.5,127.7 398.8,127.7 399.2,127.7 400.5,127.7 401,127.7 401.3,127.7 402.5,127.7 404.8,127.7 406.5,127.7 410.5,127.7 413.5,127.7 414.5,127.7 418.5,127.7 419.6,127.7 422.3,127.7 422.5,127.7 426.5,127.7 426.6,127.7 430.5,127.73 431,127.88 432.8,128.4 434.5,128.72 438.5,129.46 439.8,129.7 442.5,129.78 446.5,129.9 448.5,129.96 450,130 450.5,130.05 452,130.19 454.5,130.42 458.5,130.8 461.7,131.1 462.5,131.26 466.5,132.08 470.5,132.91 473.4,133.5 474.5,133.56 478.5,133.76 482.5,133.97 485,134.1 486.5,134.32 490,134.83 490.5,134.9 494.5,135.48 496.7,135.8 498.5,136.17 502.5,136.98 502.6,137 506.5,138.14 508.4,138.7 510.5,139.34 514.3,140.5 514.5,140.56 518.5,141.76 521.3,142.6 522.5,143.22 524,144 526.5,145.3 530.5,146.6 534.5,146.6 538.5,146.6 542.5,146.6 546.5,146.6 550.5,146.6 554.5,146.6 558.5,146.6 562.5,146.6 566.5,146.6 570.5,146.6 574.5,146.6 578.5,146.6 582.5,146.6 586.5,146.6 590.5,146.6 594.5,146.6 598.5,146.6 602.5,146.6 606.5,146.6 610.5,146.6 614.5,146.6 618.5,146.6 622.5,146.6 626.5,146.6 630.5,146.6 634.5,146.6 638.5,146.6 642.5,146.6 646.5,146.6 650.5,146.6 654.5,146.6 658.5,146.6 662.5,146.6 666.5,146.6 670.5,146.6 674.5,146.6 674.5,127.7" fill="#eef3f8"/>
<polygon points="398.5,127.7 398.5,127.7 398.8,127.7 399.2,127.7 400.5,127.7 401,127.7 401.3,127.7 402.5,127.7 404.8,127.7 406.5,127.7 410.5,127.7 413.5,127.7 414.5,127.7 418.5,127.7 419.6,127.7 422.3,127.7 422.5,127.7 426.5,127.7 426.6,127.7 430.5,127.7 431,127.7 432.8,127.7 434.5,127.7 438.5,128.26 439.8,128.5 442.5,128.58 446.5,128.7 448.5,128.76 450,128.8 450.5,128.85 452,128.99 454.5,129.22 458.5,129.6 461.7,129.9 462.5,130.06 466.5,130.88 470.5,131.71 473.4,132.3 474.5,132.36 478.5,132.56 482.5,132.77 485,132.9 486.5,133.12 490,133.63 490.5,133.7 494.5,134.28 496.7,134.6 498.5,134.97 502.5,135.78 502.6,135.8 506.5,136.94 508.4,137.5 510.5,138.14 514.3,139.3 514.5,139.36 518.5,140.56 521.3,141.4 522.5,142.02 524,142.8 526.5,144.1 530.5,146.17 534.5,146.6 538.5,146.6 542.5,146.6 546.5,146.6 550.5,146.6 554.5,146.6 558.5,146.6 562.5,146.6 566.5,146.6 570.5,146.6 574.5,146.6 578.5,146.6 582.5,146.6 586.5,146.6 590.5,146.6 594.5,146.6 598.5,146.6 602.5,146.6 606.5,146.6 610.5,146.6 614.5,146.6 618.5,146.6 622.5,146.6 626.5,146.6 630.5,146.6 634.5,146.6 638.5,146.6 642.5,146.6 646.5,146.6 650.5,146.6 654.5,146.6 658.5,146.6 662.5,146.6 666.5,146.6 670.5,146.6 674.5,146.6 674.5,127.7" fill="#f9f9f9"/>
</g>
<polyline points="426.5,128.78 426.6,128.8 430.5,129.93 431,130.08 432.8,130.6 434.5,130.92 438.5,131.66 439.8,131.9 442.5,131.98 446.5,132.1 448.5,132.16 450,132.2 450.5,132.25 452,132.39 454.5,132.62 458.5,133 461.7,133.3 462.5,133.46 466.5,134.28 470.5,135.11 473.4,135.7 474.5,135.76 478.5,135.96 482.5,136.17 485,136.3 486.5,136.52 490,137.03 490.5,137.1 494.5,137.68 496.7,138 498.5,138.37 502.5,139.18 502.6,139.2 506.5,140.34 508.4,140.9 510.5,141.54 514.3,142.7 514.5,142.76 518.5,143.96 521.3,144.8 522.5,145.42 524,146.2 526.5,147.5" fill="none" stroke="#1a1a1a" stroke-width="0.9"/>
<polyline points="401.3,128.4 402.5,128.85 404.8,129.7 406.5,130.21 410.5,131.4 413.5,132.3 414.5,132.5 418.5,133.32 419.6,133.55 422.3,134.1 422.5,134.13 426.5,134.73 426.6,134.74 430.5,135.33 431,135.4 432.8,135.67 434.5,135.92 438.5,136.51 439.8,136.7 442.5,137.36 446.5,138.34 448.5,138.83 450,139.2 450.5,139.27 452,139.49 454.5,139.85 458.5,140.44 461.7,140.9 462.5,141.04 466.5,141.72 470.5,142.4 473.4,142.9 474.5,143.08 478.5,143.74 482.5,144.39 485,144.8 486.5,145.22 490,146.2 490.5,146.34 494.5,147.46 496.7,148.08 498.5,148.58" fill="none" stroke="#1a1a1a" stroke-width="0.9"/>
<polyline points="399.2,130.1 400.5,131.03 401,131.39 401.3,131.6 402.5,132.46 404.8,134.1 406.5,134.53 410.5,135.54 413.5,136.3 414.5,136.54 418.5,137.49 419.6,137.76 422.3,138.4 422.5,138.46 426.5,139.7 426.6,139.73 430.5,140.94 431,141.1 432.8,141.45 434.5,141.78 438.5,142.55 439.8,142.8 442.5,143.48 446.5,144.49 448.5,145 450,145.51 450.5,145.69 452,146.2 454.5,147.06 458.5,148.43" fill="none" stroke="#1a1a1a" stroke-width="0.9"/>
<polygon points="400.8,127.6 401.3,125.9 405,125.5 407.3,124 411.4,123.4 417.2,122.8 428,122.4 438.34,122.2 453.27,121.2 473.19,119.4 488.12,118.4 503.06,117.2 513.02,116.6 532.93,115.8 552.84,115.1 567.78,114.7 582.72,114.1 602.63,113.4 617.07,112.9 628.52,112.3 643.45,111.2 658.39,110.2 671.63,109.4 671.5,127.7 400.8,127.7" fill="#fff6db"/>
<polygon points="370.6,127.1 400.8,127.1 401.1,128.1 400.3,129.3 370.6,129.3" fill="#0d1117"/>
<polyline points="400.8,127.9 401.3,126.2 405,125.8 407.3,124.3 411.4,123.7 417.2,123.1 428,122.7 438.34,122.5 453.27,121.5 473.19,119.7 488.12,118.7 503.06,117.5 513.02,116.9 532.93,116.1 552.84,115.4 567.78,115 582.72,114.4 602.63,113.7 617.07,113.2 628.52,112.6 643.45,111.5 658.39,110.5 671.63,109.7" fill="none" stroke="#111" stroke-width="1.4"/>
<line x1="400.8" y1="127.5" x2="671.5" y2="127.5" stroke="#111" stroke-width="1.1"/>
<line x1="418.72" y1="122.5" x2="418.72" y2="129.2" stroke="#111" stroke-width="1.35"/>
<line x1="463.63" y1="120.2" x2="463.63" y2="136.7" stroke="#111" stroke-width="1.35"/>
<line x1="515.01" y1="116.9" x2="515.01" y2="138.2" stroke="#111" stroke-width="1.35"/>
<line x1="617.17" y1="111.9" x2="617.17" y2="145.6" stroke="#111" stroke-width="1.35"/>
<polygon points="642.5,136.2 652.9,131.2 652.9,134.1 672,134.1 672,138.2 652.9,138.2 652.9,141.4" fill="#0a6cc4"/>
</g>
<text transform="translate(418.72,120.4) scale(0.92,1)" text-anchor="middle" style="font-size:10.8px;">SIM 2</text>
<text transform="translate(463.63,117.7) scale(0.92,1)" text-anchor="middle" style="font-size:10.8px;">SIM 1</text>
<text transform="translate(515.01,114.6) scale(0.92,1)" text-anchor="middle" style="font-size:10.8px;">SIM 3</text>
<text transform="translate(617.17,110.5) scale(0.92,1)" text-anchor="middle" style="font-size:10.8px;">SIM 6</text>
<text transform="translate(666,125.2) scale(0.92,1)" text-anchor="end" style="font-size:10.8px;fill:#1b5a9c;stroke:#1b5a9c;stroke-width:0.15px">1 ML/yr</text>
<text transform="translate(376.1,110.3) scale(0.9,1)" style="font-size:10.4px;">H</text>
<rect x="370.6" y="97.6" width="300.9" height="48" fill="none" stroke="#777" stroke-width="1"/>
<line x1="376.94" y1="145.6" x2="376.94" y2="144" stroke="#333" stroke-width="0.8"/>
<line x1="388.97" y1="145.6" x2="388.97" y2="144" stroke="#333" stroke-width="0.8"/>
<line x1="401" y1="145.6" x2="401" y2="142.6" stroke="#333" stroke-width="0.8"/>
<line x1="413.03" y1="145.6" x2="413.03" y2="144" stroke="#333" stroke-width="0.8"/>
<line x1="425.06" y1="145.6" x2="425.06" y2="144" stroke="#333" stroke-width="0.8"/>
<line x1="437.08" y1="145.6" x2="437.08" y2="144" stroke="#333" stroke-width="0.8"/>
<line x1="449.11" y1="145.6" x2="449.11" y2="144" stroke="#333" stroke-width="0.8"/>
<line x1="461.14" y1="145.6" x2="461.14" y2="142.6" stroke="#333" stroke-width="0.8"/>
<line x1="473.17" y1="145.6" x2="473.17" y2="144" stroke="#333" stroke-width="0.8"/>
<line x1="485.2" y1="145.6" x2="485.2" y2="144" stroke="#333" stroke-width="0.8"/>
<line x1="497.22" y1="145.6" x2="497.22" y2="144" stroke="#333" stroke-width="0.8"/>
<line x1="509.25" y1="145.6" x2="509.25" y2="144" stroke="#333" stroke-width="0.8"/>
<line x1="521.28" y1="145.6" x2="521.28" y2="142.6" stroke="#333" stroke-width="0.8"/>
<line x1="533.31" y1="145.6" x2="533.31" y2="144" stroke="#333" stroke-width="0.8"/>
<line x1="545.34" y1="145.6" x2="545.34" y2="144" stroke="#333" stroke-width="0.8"/>
<line x1="557.36" y1="145.6" x2="557.36" y2="144" stroke="#333" stroke-width="0.8"/>
<line x1="569.39" y1="145.6" x2="569.39" y2="144" stroke="#333" stroke-width="0.8"/>
<line x1="581.42" y1="145.6" x2="581.42" y2="142.6" stroke="#333" stroke-width="0.8"/>
<line x1="593.45" y1="145.6" x2="593.45" y2="144" stroke="#333" stroke-width="0.8"/>
<line x1="605.48" y1="145.6" x2="605.48" y2="144" stroke="#333" stroke-width="0.8"/>
<line x1="617.51" y1="145.6" x2="617.51" y2="144" stroke="#333" stroke-width="0.8"/>
<line x1="629.53" y1="145.6" x2="629.53" y2="144" stroke="#333" stroke-width="0.8"/>
<line x1="641.56" y1="145.6" x2="641.56" y2="142.6" stroke="#333" stroke-width="0.8"/>
<line x1="653.59" y1="145.6" x2="653.59" y2="144" stroke="#333" stroke-width="0.8"/>
<line x1="665.62" y1="145.6" x2="665.62" y2="144" stroke="#333" stroke-width="0.8"/>
<line x1="370.6" y1="112.6" x2="372.2" y2="112.6" stroke="#333" stroke-width="0.8"/>
<line x1="370.6" y1="142.6" x2="372.2" y2="142.6" stroke="#333" stroke-width="0.8"/>
<text transform="translate(367.7,101.4) scale(0.9,1)" text-anchor="end" style="font-size:10.8px;">50</text>
<text transform="translate(367.7,131.5) scale(0.9,1)" text-anchor="end" style="font-size:10.8px;">0</text>
<clipPath id="cC"><rect x="37.6" y="159.2" width="301.8" height="48"/></clipPath>
<g clip-path="url(#cC)">
<rect x="37.6" y="159.2" width="301.8" height="48" fill="#fff"/>
<clipPath id="fc2"><rect x="30" y="188.9" width="320" height="18.3"/></clipPath>
<g clip-path="url(#fc2)"><g filter="url(#ff2)">
<rect x="26.8" y="185.9" width="322.6" height="24.3" fill="rgb(148,148,148)"/>
<ellipse cx="75.5" cy="192" rx="42.5" ry="2.5" fill="rgb(110,110,110)"/>
<ellipse cx="67.5" cy="193" rx="10.5" ry="1.5" fill="rgb(84,84,84)"/>
<ellipse cx="72.5" cy="200" rx="10.5" ry="1.5" fill="rgb(84,84,84)"/>
<ellipse cx="100" cy="200" rx="13" ry="2" fill="rgb(105,105,105)"/>
<ellipse cx="158" cy="204" rx="25" ry="2.5" fill="rgb(115,115,115)"/>
<ellipse cx="305" cy="204" rx="38" ry="2.5" fill="rgb(115,115,115)"/>
<ellipse cx="335" cy="205" rx="8" ry="1.5" fill="rgb(84,84,84)"/>
<ellipse cx="60" cy="196" rx="8" ry="1.5" fill="rgb(184,184,184)"/>
<ellipse cx="90" cy="196" rx="8" ry="1.5" fill="rgb(184,184,184)"/>
<ellipse cx="127.5" cy="199.5" rx="15.5" ry="2" fill="rgb(204,204,204)"/>
<ellipse cx="162.5" cy="196" rx="25.5" ry="2.5" fill="rgb(204,204,204)"/>
<ellipse cx="165" cy="196" rx="8" ry="1.5" fill="rgb(214,214,214)"/>
<ellipse cx="215" cy="198.5" rx="28" ry="2.5" fill="rgb(209,209,209)"/>
<ellipse cx="222.5" cy="198.5" rx="15.5" ry="2" fill="rgb(214,214,214)"/>
<ellipse cx="220" cy="191" rx="23" ry="2" fill="rgb(184,184,184)"/>
<ellipse cx="263" cy="191" rx="30" ry="2" fill="rgb(209,209,209)"/>
<ellipse cx="317.5" cy="190.5" rx="20.5" ry="1.5" fill="rgb(204,204,204)"/>
<ellipse cx="258" cy="199" rx="25" ry="2" fill="rgb(204,204,204)"/>
<ellipse cx="310" cy="195" rx="13" ry="1.5" fill="rgb(184,184,184)"/>
<ellipse cx="212.5" cy="203" rx="30.5" ry="2" fill="rgb(173,173,173)"/>
</g></g>
<polygon points="66.4,188.8 67.2,187.5 68.2,186.7 71.7,186.7 74.3,185.2 78.4,184.6 90,184.4 105,183.8 120,182.8 140,181 155,180 170,178.8 180,178.2 200,177.4 220,176.7 235,176.3 250,175.7 270,175 284.5,174.5 296,173.9 311,172.8 326,171.8 339.3,171 339.4,188.9 66.4,188.9" fill="#fff6db"/>
<polygon points="37.6,188.6 66.4,188.6 66.8,189.6 66.7,189.8 62,190.6 55,191.1 37.6,191.1" fill="#0d1117"/>
<polyline points="66.4,189.1 67.2,187.8 68.2,187 71.7,187 74.3,185.5 78.4,184.9 90,184.7 105,184.1 120,183.1 140,181.3 155,180.3 170,179.1 180,178.5 200,177.7 220,177 235,176.6 250,176 270,175.3 284.5,174.8 296,174.2 311,173.1 326,172.1 339.3,171.3" fill="none" stroke="#111" stroke-width="1.4"/>
<line x1="66.4" y1="188.5" x2="339.4" y2="188.5" stroke="#111" stroke-width="1.1"/>
<line x1="85.3" y1="184.1" x2="85.3" y2="190.8" stroke="#111" stroke-width="1.35"/>
<line x1="130.4" y1="181.8" x2="130.4" y2="198.3" stroke="#111" stroke-width="1.35"/>
<line x1="182" y1="178.5" x2="182" y2="199.8" stroke="#111" stroke-width="1.35"/>
<line x1="284.6" y1="173.5" x2="284.6" y2="207.2" stroke="#111" stroke-width="1.35"/>
</g>
<text transform="translate(85.3,182) scale(0.92,1)" text-anchor="middle" style="font-size:10.8px;">SIM 2</text>
<text transform="translate(130.4,179.3) scale(0.92,1)" text-anchor="middle" style="font-size:10.8px;">SIM 1</text>
<text transform="translate(182,176.2) scale(0.92,1)" text-anchor="middle" style="font-size:10.8px;">SIM 3</text>
<text transform="translate(284.6,172.1) scale(0.92,1)" text-anchor="middle" style="font-size:10.8px;">SIM 6</text>
<text transform="translate(43.6,172.2) scale(0.9,1)" style="font-size:10.4px;">C</text>
<rect x="37.6" y="159.2" width="301.8" height="48" fill="none" stroke="#777" stroke-width="1"/>
<line x1="43.34" y1="207.2" x2="43.34" y2="205.6" stroke="#333" stroke-width="0.8"/>
<line x1="55.42" y1="207.2" x2="55.42" y2="205.6" stroke="#333" stroke-width="0.8"/>
<line x1="67.5" y1="207.2" x2="67.5" y2="204.2" stroke="#333" stroke-width="0.8"/>
<line x1="79.58" y1="207.2" x2="79.58" y2="205.6" stroke="#333" stroke-width="0.8"/>
<line x1="91.66" y1="207.2" x2="91.66" y2="205.6" stroke="#333" stroke-width="0.8"/>
<line x1="103.74" y1="207.2" x2="103.74" y2="205.6" stroke="#333" stroke-width="0.8"/>
<line x1="115.82" y1="207.2" x2="115.82" y2="205.6" stroke="#333" stroke-width="0.8"/>
<line x1="127.9" y1="207.2" x2="127.9" y2="204.2" stroke="#333" stroke-width="0.8"/>
<line x1="139.98" y1="207.2" x2="139.98" y2="205.6" stroke="#333" stroke-width="0.8"/>
<line x1="152.06" y1="207.2" x2="152.06" y2="205.6" stroke="#333" stroke-width="0.8"/>
<line x1="164.14" y1="207.2" x2="164.14" y2="205.6" stroke="#333" stroke-width="0.8"/>
<line x1="176.22" y1="207.2" x2="176.22" y2="205.6" stroke="#333" stroke-width="0.8"/>
<line x1="188.3" y1="207.2" x2="188.3" y2="204.2" stroke="#333" stroke-width="0.8"/>
<line x1="200.38" y1="207.2" x2="200.38" y2="205.6" stroke="#333" stroke-width="0.8"/>
<line x1="212.46" y1="207.2" x2="212.46" y2="205.6" stroke="#333" stroke-width="0.8"/>
<line x1="224.54" y1="207.2" x2="224.54" y2="205.6" stroke="#333" stroke-width="0.8"/>
<line x1="236.62" y1="207.2" x2="236.62" y2="205.6" stroke="#333" stroke-width="0.8"/>
<line x1="248.7" y1="207.2" x2="248.7" y2="204.2" stroke="#333" stroke-width="0.8"/>
<line x1="260.78" y1="207.2" x2="260.78" y2="205.6" stroke="#333" stroke-width="0.8"/>
<line x1="272.86" y1="207.2" x2="272.86" y2="205.6" stroke="#333" stroke-width="0.8"/>
<line x1="284.94" y1="207.2" x2="284.94" y2="205.6" stroke="#333" stroke-width="0.8"/>
<line x1="297.02" y1="207.2" x2="297.02" y2="205.6" stroke="#333" stroke-width="0.8"/>
<line x1="309.1" y1="207.2" x2="309.1" y2="204.2" stroke="#333" stroke-width="0.8"/>
<line x1="321.18" y1="207.2" x2="321.18" y2="205.6" stroke="#333" stroke-width="0.8"/>
<line x1="333.26" y1="207.2" x2="333.26" y2="205.6" stroke="#333" stroke-width="0.8"/>
<line x1="37.6" y1="174.2" x2="39.2" y2="174.2" stroke="#333" stroke-width="0.8"/>
<line x1="37.6" y1="204.2" x2="39.2" y2="204.2" stroke="#333" stroke-width="0.8"/>
<text transform="translate(34.7,163) scale(0.9,1)" text-anchor="end" style="font-size:10.8px;">50</text>
<text transform="translate(34.7,192.7) scale(0.9,1)" text-anchor="end" style="font-size:10.8px;">0</text>
<clipPath id="cI"><rect x="370.6" y="158.7" width="300.9" height="48"/></clipPath>
<g clip-path="url(#cI)">
<rect x="370.6" y="158.7" width="300.9" height="48" fill="#fff"/>
<rect x="370.6" y="188.8" width="300.9" height="17.9" fill="#fd3d3d"/>
<g filter="url(#soft)">
<polygon points="398.5,188.8 398.5,188.8 399,188.8 399.2,191.6 400.5,193.46 401,194.17 401.3,194.6 402.5,195.22 404.8,196.4 406.5,197.07 409.1,198.1 410.5,198.51 413.5,199.4 414.5,199.56 418.5,200.2 419.6,200.37 422.3,200.8 422.5,200.83 424.9,201.19 426.5,201.43 430.5,202.03 431,202.1 434.5,202.46 438.5,202.87 439.8,203 442.5,203.34 446.5,203.85 448.5,204.11 450,204.3 450.5,204.5 452,205.09 454.5,206.08 455.8,206.6 456,206.63 457,206.8 458.5,207.05 460,207.3 462.5,207.7 465.2,207.7 466.5,207.7 470.5,207.7 473.4,207.7 474.5,207.7 478.5,207.7 482.5,207.7 485,207.7 486.5,207.7 490.5,207.7 494.5,207.7 496.7,207.7 498.5,207.7 500.2,207.7 502.5,207.7 506.5,207.7 508.4,207.7 510.5,207.7 514.5,207.7 518.5,207.7 520.1,207.7 522.5,207.7 525,207.7 526.5,207.7 530,207.7 530.5,207.7 534.5,207.7 538.5,207.7 540,207.7 542.5,207.7 545,207.7 546.5,207.7 550.5,207.7 554.5,207.7 558.5,207.7 560,207.7 562,207.7 562.5,207.7 566.5,207.7 570.5,207.7 574.5,207.7 578.5,207.7 582.5,207.7 586.5,207.7 590.5,207.7 594.5,207.7 598.5,207.7 602.5,207.7 606.5,207.7 610.5,207.7 614.5,207.7 618.5,207.7 622.5,207.7 626.5,207.7 630.5,207.7 634.5,207.7 638.5,207.7 642.5,207.7 646.5,207.7 650.5,207.7 654.5,207.7 658.5,207.7 662.5,207.7 666.5,207.7 670.5,207.7 674.5,207.7 674.5,188.8" fill="#fe3f3c"/>
<polygon points="398.5,188.8 398.5,188.8 399,188.8 399.2,190.82 400.5,192.22 401,192.89 401.3,193.3 402.5,193.91 404.8,195.07 406.5,196.08 409.1,197.22 410.5,197.62 413.5,198.47 414.5,198.63 418.5,199.23 419.6,199.39 422.3,199.8 422.5,199.83 424.9,200.16 426.5,200.38 430.5,200.93 431,201 434.5,201.36 438.5,201.77 439.8,201.9 442.5,202.24 446.5,202.75 448.5,203.01 450,203.19 450.5,203.35 452,203.84 454.5,204.65 455.8,205.07 456,205.1 457,205.24 458.5,205.44 460,205.65 462.5,206 465.2,206.37 466.5,206.55 470.5,207.1 473.4,207.5 474.5,207.66 478.5,207.7 482.5,207.7 485,207.7 486.5,207.7 490.5,207.7 494.5,207.7 496.7,207.7 498.5,207.7 500.2,207.7 502.5,207.7 506.5,207.7 508.4,207.7 510.5,207.7 514.5,207.7 518.5,207.7 520.1,207.7 522.5,207.7 525,207.7 526.5,207.7 530,207.7 530.5,207.7 534.5,207.7 538.5,207.7 540,207.7 542.5,207.7 545,207.7 546.5,207.7 550.5,207.7 554.5,207.7 558.5,207.7 560,207.7 562,207.7 562.5,207.7 566.5,207.7 570.5,207.7 574.5,207.7 578.5,207.7 582.5,207.7 586.5,207.7 590.5,207.7 594.5,207.7 598.5,207.7 602.5,207.7 606.5,207.7 610.5,207.7 614.5,207.7 618.5,207.7 622.5,207.7 626.5,207.7 630.5,207.7 634.5,207.7 638.5,207.7 642.5,207.7 646.5,207.7 650.5,207.7 654.5,207.7 658.5,207.7 662.5,207.7 666.5,207.7 670.5,207.7 674.5,207.7 674.5,188.8" fill="#fc533c"/>
<polygon points="398.5,188.8 398.5,188.8 399,188.8 399.2,190.05 400.5,190.98 401,191.62 401.3,192 402.5,192.6 404.8,193.75 406.5,195.09 409.1,196.35 410.5,196.73 413.5,197.55 414.5,197.69 418.5,198.26 419.6,198.42 422.3,198.8 422.5,198.83 424.9,199.13 426.5,199.33 430.5,199.84 431,199.9 434.5,200.26 438.5,200.67 439.8,200.8 442.5,201.14 446.5,201.65 448.5,201.9 450,202.08 450.5,202.21 452,202.58 454.5,203.21 455.8,203.54 456,203.57 457,203.68 458.5,203.84 460,204 462.5,204.28 465.2,204.57 466.5,204.71 470.5,205.15 473.4,205.47 474.5,205.6 478.5,206.08 482.5,206.56 485,206.86 486.5,207.04 490.5,207.52 494.5,207.7 496.7,207.7 498.5,207.7 500.2,207.7 502.5,207.7 506.5,207.7 508.4,207.7 510.5,207.7 514.5,207.7 518.5,207.7 520.1,207.7 522.5,207.7 525,207.7 526.5,207.7 530,207.7 530.5,207.7 534.5,207.7 538.5,207.7 540,207.7 542.5,207.7 545,207.7 546.5,207.7 550.5,207.7 554.5,207.7 558.5,207.7 560,207.7 562,207.7 562.5,207.7 566.5,207.7 570.5,207.7 574.5,207.7 578.5,207.7 582.5,207.7 586.5,207.7 590.5,207.7 594.5,207.7 598.5,207.7 602.5,207.7 606.5,207.7 610.5,207.7 614.5,207.7 618.5,207.7 622.5,207.7 626.5,207.7 630.5,207.7 634.5,207.7 638.5,207.7 642.5,207.7 646.5,207.7 650.5,207.7 654.5,207.7 658.5,207.7 662.5,207.7 666.5,207.7 670.5,207.7 674.5,207.7 674.5,188.8" fill="#fa6d3b"/>
<polygon points="398.5,188.8 398.5,188.8 399,188.8 399.2,189.28 400.5,189.74 401,190.34 401.3,190.7 402.5,191.29 404.8,192.42 406.5,194.09 409.1,195.47 410.5,195.84 413.5,196.62 414.5,196.76 418.5,197.29 419.6,197.44 422.3,197.8 422.5,197.82 424.9,198.1 426.5,198.28 430.5,198.74 431,198.8 434.5,199.16 438.5,199.57 439.8,199.7 442.5,200.04 446.5,200.55 448.5,200.8 450,200.97 450.5,201.06 452,201.33 454.5,201.78 455.8,202.01 456,202.03 457,202.11 458.5,202.23 460,202.36 462.5,202.56 465.2,202.77 466.5,202.88 470.5,203.2 473.4,203.43 474.5,203.54 478.5,203.92 482.5,204.31 485,204.55 486.5,204.7 490.5,205.08 494.5,205.47 496.7,205.68 498.5,205.86 500.2,206.03 502.5,206.26 506.5,206.65 508.4,206.84 510.5,207.05 514.5,207.45 518.5,207.7 520.1,207.7 522.5,207.7 525,207.7 526.5,207.7 530,207.7 530.5,207.7 534.5,207.7 538.5,207.7 540,207.7 542.5,207.7 545,207.7 546.5,207.7 550.5,207.7 554.5,207.7 558.5,207.7 560,207.7 562,207.7 562.5,207.7 566.5,207.7 570.5,207.7 574.5,207.7 578.5,207.7 582.5,207.7 586.5,207.7 590.5,207.7 594.5,207.7 598.5,207.7 602.5,207.7 606.5,207.7 610.5,207.7 614.5,207.7 618.5,207.7 622.5,207.7 626.5,207.7 630.5,207.7 634.5,207.7 638.5,207.7 642.5,207.7 646.5,207.7 650.5,207.7 654.5,207.7 658.5,207.7 662.5,207.7 666.5,207.7 670.5,207.7 674.5,207.7 674.5,188.8" fill="#fa8839"/>
<polygon points="398.5,188.8 398.5,188.8 399,188.8 399.2,188.8 400.5,188.8 401,189.06 401.3,189.4 402.5,189.98 404.8,191.1 406.5,193.1 409.1,194.6 410.5,194.95 413.5,195.7 414.5,195.82 418.5,196.32 419.6,196.46 422.3,196.8 422.5,196.82 424.9,197.07 426.5,197.23 430.5,197.65 431,197.7 434.5,198.06 438.5,198.47 439.8,198.6 442.5,198.94 446.5,199.45 448.5,199.7 450,199.86 450.5,199.91 452,200.07 454.5,200.34 455.8,200.48 456,200.5 457,200.55 458.5,200.63 460,200.71 462.5,200.84 465.2,200.98 466.5,201.04 470.5,201.25 473.4,201.4 474.5,201.48 478.5,201.77 482.5,202.06 485,202.25 486.5,202.36 490.5,202.65 494.5,202.94 496.7,203.1 498.5,203.24 500.2,203.37 502.5,203.55 506.5,203.85 508.4,204 510.5,204.16 514.5,204.47 518.5,204.78 520.1,204.9 522.5,205.17 525,205.44 526.5,205.61 530,206 530.5,206.06 534.5,206.58 538.5,207.1 540,207.3 542.5,207.62 545,207.7 546.5,207.7 550.5,207.7 554.5,207.7 558.5,207.7 560,207.7 562,207.7 562.5,207.7 566.5,207.7 570.5,207.7 574.5,207.7 578.5,207.7 582.5,207.7 586.5,207.7 590.5,207.7 594.5,207.7 598.5,207.7 602.5,207.7 606.5,207.7 610.5,207.7 614.5,207.7 618.5,207.7 622.5,207.7 626.5,207.7 630.5,207.7 634.5,207.7 638.5,207.7 642.5,207.7 646.5,207.7 650.5,207.7 654.5,207.7 658.5,207.7 662.5,207.7 666.5,207.7 670.5,207.7 674.5,207.7 674.5,188.8" fill="#fc9e38"/>
<polygon points="398.5,188.8 398.5,188.8 399,188.8 399.2,188.8 400.5,188.8 401,189.06 401.3,189.4 402.5,189.98 404.8,191.1 406.5,193.1 409.1,194.6 410.5,194.95 413.5,195.7 414.5,195.82 418.5,196.32 419.6,196.46 422.3,196.8 422.5,196.82 424.9,197.07 426.5,197.23 430.5,197.65 431,197.7 434.5,198.06 438.5,198.47 439.8,198.6 442.5,198.94 446.5,199.45 448.5,199.7 450,199.86 450.5,199.91 452,200.07 454.5,200.34 455.8,200.48 456,200.5 457,200.55 458.5,200.63 460,200.71 462.5,200.84 465.2,200.98 466.5,201.04 470.5,201.25 473.4,201.4 474.5,201.48 478.5,201.77 482.5,202.06 485,202.25 486.5,202.36 490.5,202.65 494.5,202.94 496.7,203.1 498.5,203.24 500.2,203.37 502.5,203.55 506.5,203.85 508.4,204 510.5,204.16 514.5,204.47 518.5,204.78 520.1,204.9 522.5,205.17 525,205.44 526.5,205.61 530,206 530.5,206.06 534.5,206.58 538.5,207.1 540,207.3 542.5,207.62 545,207.7 546.5,207.7 550.5,207.7 554.5,207.7 558.5,207.7 560,207.7 562,207.7 562.5,207.7 566.5,207.7 570.5,207.7 574.5,207.7 578.5,207.7 582.5,207.7 586.5,207.7 590.5,207.7 594.5,207.7 598.5,207.7 602.5,207.7 606.5,207.7 610.5,207.7 614.5,207.7 618.5,207.7 622.5,207.7 626.5,207.7 630.5,207.7 634.5,207.7 638.5,207.7 642.5,207.7 646.5,207.7 650.5,207.7 654.5,207.7 658.5,207.7 662.5,207.7 666.5,207.7 670.5,207.7 674.5,207.7 674.5,188.8" fill="#fc9e38"/>
<polygon points="398.5,188.8 398.5,188.8 399,188.8 399.2,188.8 400.5,188.8 401,188.92 401.3,189.22 402.5,189.75 404.8,190.77 406.5,192.58 409.1,193.94 410.5,194.26 413.5,194.95 414.5,195.07 418.5,195.54 419.6,195.67 422.3,196.04 422.5,196.06 424.9,196.34 426.5,196.51 430.5,196.95 431,197 434.5,197.35 438.5,197.74 439.8,197.87 442.5,198.19 446.5,198.67 448.5,198.91 450,199.1 450.5,199.16 452,199.36 454.5,199.67 455.8,199.83 456,199.85 457,199.93 458.5,200.04 460,200.15 462.5,200.34 465.2,200.55 466.5,200.62 470.5,200.83 473.4,200.99 474.5,201.07 478.5,201.34 482.5,201.61 485,201.78 486.5,201.87 490.5,202.11 494.5,202.35 496.7,202.48 498.5,202.59 500.2,202.7 502.5,202.91 506.5,203.27 508.4,203.44 510.5,203.63 514.5,203.99 518.5,204.35 520.1,204.49 522.5,204.78 525,205.09 526.5,205.25 530,205.64 530.5,205.7 534.5,206.21 538.5,206.72 540,206.91 542.5,207.23 545,207.54 546.5,207.7 550.5,207.7 554.5,207.7 558.5,207.7 560,207.7 562,207.7 562.5,207.7 566.5,207.7 570.5,207.7 574.5,207.7 578.5,207.7 582.5,207.7 586.5,207.7 590.5,207.7 594.5,207.7 598.5,207.7 602.5,207.7 606.5,207.7 610.5,207.7 614.5,207.7 618.5,207.7 622.5,207.7 626.5,207.7 630.5,207.7 634.5,207.7 638.5,207.7 642.5,207.7 646.5,207.7 650.5,207.7 654.5,207.7 658.5,207.7 662.5,207.7 666.5,207.7 670.5,207.7 674.5,207.7 674.5,188.8" fill="#f5c43e"/>
<polygon points="398.5,188.8 398.5,188.8 399,188.8 399.2,188.8 400.5,188.8 401,188.8 401.3,189.04 402.5,189.52 404.8,190.44 406.5,192.05 409.1,193.28 410.5,193.57 413.5,194.2 414.5,194.31 418.5,194.75 419.6,194.87 422.3,195.27 422.5,195.3 424.9,195.62 426.5,195.79 430.5,196.24 431,196.3 434.5,196.63 438.5,197.02 439.8,197.14 442.5,197.44 446.5,197.89 448.5,198.12 450,198.34 450.5,198.42 452,198.64 454.5,198.99 455.8,199.18 456,199.2 457,199.3 458.5,199.45 460,199.6 462.5,199.85 465.2,200.12 466.5,200.19 470.5,200.42 473.4,200.58 474.5,200.65 478.5,200.9 482.5,201.16 485,201.32 486.5,201.39 490.5,201.57 494.5,201.76 496.7,201.86 498.5,201.95 500.2,202.04 502.5,202.27 506.5,202.68 508.4,202.88 510.5,203.1 514.5,203.51 518.5,203.92 520.1,204.08 522.5,204.4 525,204.74 526.5,204.9 530,205.28 530.5,205.34 534.5,205.84 538.5,206.33 540,206.52 542.5,206.83 545,207.14 546.5,207.34 550.5,207.7 554.5,207.7 558.5,207.7 560,207.7 562,207.7 562.5,207.7 566.5,207.7 570.5,207.7 574.5,207.7 578.5,207.7 582.5,207.7 586.5,207.7 590.5,207.7 594.5,207.7 598.5,207.7 602.5,207.7 606.5,207.7 610.5,207.7 614.5,207.7 618.5,207.7 622.5,207.7 626.5,207.7 630.5,207.7 634.5,207.7 638.5,207.7 642.5,207.7 646.5,207.7 650.5,207.7 654.5,207.7 658.5,207.7 662.5,207.7 666.5,207.7 670.5,207.7 674.5,207.7 674.5,188.8" fill="#cac659"/>
<polygon points="398.5,188.8 398.5,188.8 399,188.8 399.2,188.8 400.5,188.8 401,188.8 401.3,188.86 402.5,189.29 404.8,190.11 406.5,191.53 409.1,192.62 410.5,192.88 413.5,193.45 414.5,193.55 418.5,193.96 419.6,194.07 422.3,194.51 422.5,194.54 424.9,194.89 426.5,195.07 430.5,195.54 431,195.6 434.5,195.92 438.5,196.29 439.8,196.41 442.5,196.7 446.5,197.12 448.5,197.33 450,197.58 450.5,197.67 452,197.92 454.5,198.32 455.8,198.52 456,198.56 457,198.68 458.5,198.86 460,199.05 462.5,199.36 465.2,199.69 466.5,199.77 470.5,200 473.4,200.17 474.5,200.23 478.5,200.47 482.5,200.71 485,200.85 486.5,200.9 490.5,201.04 494.5,201.17 496.7,201.24 498.5,201.31 500.2,201.37 502.5,201.64 506.5,202.1 508.4,202.32 510.5,202.56 514.5,203.02 518.5,203.49 520.1,203.67 522.5,204.02 525,204.38 526.5,204.54 530,204.92 530.5,204.98 534.5,205.46 538.5,205.95 540,206.13 542.5,206.43 545,206.73 546.5,206.93 550.5,207.47 554.5,207.7 558.5,207.7 560,207.7 562,207.7 562.5,207.7 566.5,207.7 570.5,207.7 574.5,207.7 578.5,207.7 582.5,207.7 586.5,207.7 590.5,207.7 594.5,207.7 598.5,207.7 602.5,207.7 606.5,207.7 610.5,207.7 614.5,207.7 618.5,207.7 622.5,207.7 626.5,207.7 630.5,207.7 634.5,207.7 638.5,207.7 642.5,207.7 646.5,207.7 650.5,207.7 654.5,207.7 658.5,207.7 662.5,207.7 666.5,207.7 670.5,207.7 674.5,207.7 674.5,188.8" fill="#a2c86b"/>
<polygon points="398.5,188.8 398.5,188.8 399,188.8 399.2,188.8 400.5,188.8 401,188.8 401.3,188.8 402.5,189.06 404.8,189.77 406.5,191.01 409.1,191.96 410.5,192.19 413.5,192.7 414.5,192.8 418.5,193.17 419.6,193.28 422.3,193.74 422.5,193.78 424.9,194.16 426.5,194.36 430.5,194.84 431,194.9 434.5,195.21 438.5,195.56 439.8,195.68 442.5,195.95 446.5,196.34 448.5,196.54 450,196.82 450.5,196.92 452,197.2 454.5,197.64 455.8,197.87 456,197.91 457,198.05 458.5,198.27 460,198.5 462.5,198.87 465.2,199.27 466.5,199.34 470.5,199.59 473.4,199.76 474.5,199.82 478.5,200.04 482.5,200.25 485,200.39 486.5,200.42 490.5,200.5 494.5,200.58 496.7,200.62 498.5,200.66 500.2,200.7 502.5,201 506.5,201.51 508.4,201.76 510.5,202.03 514.5,202.54 518.5,203.05 520.1,203.26 522.5,203.64 525,204.03 526.5,204.19 530,204.56 530.5,204.62 534.5,205.09 538.5,205.56 540,205.74 542.5,206.03 545,206.33 546.5,206.53 550.5,207.07 554.5,207.6 558.5,207.7 560,207.7 562,207.7 562.5,207.7 566.5,207.7 570.5,207.7 574.5,207.7 578.5,207.7 582.5,207.7 586.5,207.7 590.5,207.7 594.5,207.7 598.5,207.7 602.5,207.7 606.5,207.7 610.5,207.7 614.5,207.7 618.5,207.7 622.5,207.7 626.5,207.7 630.5,207.7 634.5,207.7 638.5,207.7 642.5,207.7 646.5,207.7 650.5,207.7 654.5,207.7 658.5,207.7 662.5,207.7 666.5,207.7 670.5,207.7 674.5,207.7 674.5,188.8" fill="#82c87f"/>
<polygon points="398.5,188.8 398.5,188.8 399,188.8 399.2,188.8 400.5,188.8 401,188.8 401.3,188.8 402.5,188.83 404.8,189.44 406.5,190.48 409.1,191.3 410.5,191.5 413.5,191.95 414.5,192.04 418.5,192.39 419.6,192.48 422.3,192.98 422.5,193.02 424.9,193.43 426.5,193.64 430.5,194.14 431,194.2 434.5,194.5 438.5,194.84 439.8,194.95 442.5,195.2 446.5,195.57 448.5,195.75 450,196.07 450.5,196.17 452,196.49 454.5,196.97 455.8,197.22 456,197.26 457,197.43 458.5,197.68 460,197.94 462.5,198.37 465.2,198.84 466.5,198.92 470.5,199.17 473.4,199.35 474.5,199.4 478.5,199.6 482.5,199.8 485,199.92 486.5,199.93 490.5,199.96 494.5,199.99 496.7,200 498.5,200.02 500.2,200.03 502.5,200.36 506.5,200.93 508.4,201.2 510.5,201.5 514.5,202.06 518.5,202.62 520.1,202.85 522.5,203.25 525,203.67 526.5,203.83 530,204.2 530.5,204.26 534.5,204.72 538.5,205.18 540,205.35 542.5,205.64 545,205.92 546.5,206.13 550.5,206.67 554.5,207.21 558.5,207.7 560,207.7 562,207.7 562.5,207.7 566.5,207.7 570.5,207.7 574.5,207.7 578.5,207.7 582.5,207.7 586.5,207.7 590.5,207.7 594.5,207.7 598.5,207.7 602.5,207.7 606.5,207.7 610.5,207.7 614.5,207.7 618.5,207.7 622.5,207.7 626.5,207.7 630.5,207.7 634.5,207.7 638.5,207.7 642.5,207.7 646.5,207.7 650.5,207.7 654.5,207.7 658.5,207.7 662.5,207.7 666.5,207.7 670.5,207.7 674.5,207.7 674.5,188.8" fill="#81c49a"/>
<polygon points="398.5,188.8 398.5,188.8 399,188.8 399.2,188.8 400.5,188.8 401,188.8 401.3,188.8 402.5,188.8 404.8,189.11 406.5,189.96 409.1,190.64 410.5,190.82 413.5,191.2 414.5,191.28 418.5,191.6 419.6,191.69 422.3,192.22 422.5,192.26 424.9,192.71 426.5,192.92 430.5,193.44 431,193.5 434.5,193.79 438.5,194.11 439.8,194.22 442.5,194.45 446.5,194.79 448.5,194.96 450,195.31 450.5,195.42 452,195.77 454.5,196.3 455.8,196.57 456,196.61 457,196.8 458.5,197.1 460,197.39 462.5,197.88 465.2,198.41 466.5,198.49 470.5,198.75 473.4,198.94 474.5,198.99 478.5,199.17 482.5,199.35 485,199.46 486.5,199.45 490.5,199.42 494.5,199.4 496.7,199.38 498.5,199.38 500.2,199.37 502.5,199.72 506.5,200.35 508.4,200.64 510.5,200.96 514.5,201.58 518.5,202.19 520.1,202.44 522.5,202.87 525,203.32 526.5,203.47 530,203.84 530.5,203.9 534.5,204.34 538.5,204.79 540,204.96 542.5,205.24 545,205.52 546.5,205.72 550.5,206.27 554.5,206.81 558.5,207.36 560,207.56 562,207.7 562.5,207.7 566.5,207.7 570.5,207.7 574.5,207.7 578.5,207.7 582.5,207.7 586.5,207.7 590.5,207.7 594.5,207.7 598.5,207.7 602.5,207.7 606.5,207.7 610.5,207.7 614.5,207.7 618.5,207.7 622.5,207.7 626.5,207.7 630.5,207.7 634.5,207.7 638.5,207.7 642.5,207.7 646.5,207.7 650.5,207.7 654.5,207.7 658.5,207.7 662.5,207.7 666.5,207.7 670.5,207.7 674.5,207.7 674.5,188.8" fill="#80bfaa"/>
<polygon points="398.5,188.8 398.5,188.8 399,188.8 399.2,188.8 400.5,188.8 401,188.8 401.3,188.8 402.5,188.8 404.8,188.8 406.5,189.44 409.1,189.97 410.5,190.13 413.5,190.45 414.5,190.52 418.5,190.81 419.6,190.89 422.3,191.45 422.5,191.49 424.9,191.98 426.5,192.2 430.5,192.73 431,192.8 434.5,193.07 438.5,193.39 439.8,193.49 442.5,193.7 446.5,194.01 448.5,194.17 450,194.55 450.5,194.67 452,195.05 454.5,195.62 455.8,195.92 456,195.96 457,196.18 458.5,196.51 460,196.84 462.5,197.39 465.2,197.98 466.5,198.07 470.5,198.34 473.4,198.53 474.5,198.57 478.5,198.73 482.5,198.89 485,198.99 486.5,198.96 490.5,198.89 494.5,198.81 496.7,198.77 498.5,198.73 500.2,198.7 502.5,199.09 506.5,199.76 508.4,200.08 510.5,200.43 514.5,201.1 518.5,201.76 520.1,202.03 522.5,202.49 525,202.96 526.5,203.12 530,203.48 530.5,203.53 534.5,203.97 538.5,204.41 540,204.57 542.5,204.84 545,205.11 546.5,205.32 550.5,205.87 554.5,206.42 558.5,206.96 560,207.17 562,207.7 562.5,207.7 566.5,207.7 570.5,207.7 574.5,207.7 578.5,207.7 582.5,207.7 586.5,207.7 590.5,207.7 594.5,207.7 598.5,207.7 602.5,207.7 606.5,207.7 610.5,207.7 614.5,207.7 618.5,207.7 622.5,207.7 626.5,207.7 630.5,207.7 634.5,207.7 638.5,207.7 642.5,207.7 646.5,207.7 650.5,207.7 654.5,207.7 658.5,207.7 662.5,207.7 666.5,207.7 670.5,207.7 674.5,207.7 674.5,188.8" fill="#80b9be"/>
<polygon points="398.5,188.8 398.5,188.8 399,188.8 399.2,188.8 400.5,188.8 401,188.8 401.3,188.8 402.5,188.8 404.8,188.8 406.5,188.91 409.1,189.31 410.5,189.44 413.5,189.7 414.5,189.77 418.5,190.02 419.6,190.09 422.3,190.69 422.5,190.73 424.9,191.25 426.5,191.48 430.5,192.03 431,192.1 434.5,192.36 438.5,192.66 439.8,192.76 442.5,192.95 446.5,193.24 448.5,193.38 450,193.79 450.5,193.93 452,194.33 454.5,194.95 455.8,195.27 456,195.32 457,195.55 458.5,195.92 460,196.28 462.5,196.9 465.2,197.56 466.5,197.64 470.5,197.92 473.4,198.12 474.5,198.16 478.5,198.3 482.5,198.44 485,198.53 486.5,198.48 490.5,198.35 494.5,198.22 496.7,198.15 498.5,198.09 500.2,198.03 502.5,198.45 506.5,199.18 508.4,199.52 510.5,199.9 514.5,200.61 518.5,201.33 520.1,201.62 522.5,202.1 525,202.61 526.5,202.76 530,203.12 530.5,203.17 534.5,203.6 538.5,204.02 540,204.18 542.5,204.44 545,204.71 546.5,204.92 550.5,205.47 554.5,206.02 558.5,206.57 560,206.78 562,207.7 562.5,207.7 566.5,207.7 570.5,207.7 574.5,207.7 578.5,207.7 582.5,207.7 586.5,207.7 590.5,207.7 594.5,207.7 598.5,207.7 602.5,207.7 606.5,207.7 610.5,207.7 614.5,207.7 618.5,207.7 622.5,207.7 626.5,207.7 630.5,207.7 634.5,207.7 638.5,207.7 642.5,207.7 646.5,207.7 650.5,207.7 654.5,207.7 658.5,207.7 662.5,207.7 666.5,207.7 670.5,207.7 674.5,207.7 674.5,188.8" fill="#82b6cf"/>
<polygon points="398.5,188.8 398.5,188.8 399,188.8 399.2,188.8 400.5,188.8 401,188.8 401.3,188.8 402.5,188.8 404.8,188.8 406.5,188.8 409.1,188.8 410.5,188.8 413.5,188.95 414.5,189.01 418.5,189.23 419.6,189.3 422.3,189.93 422.5,189.97 424.9,190.53 426.5,190.76 430.5,191.33 431,191.4 434.5,191.65 438.5,191.94 439.8,192.03 442.5,192.2 446.5,192.46 448.5,192.59 450,193.03 450.5,193.18 452,193.62 454.5,194.27 455.8,194.62 456,194.67 457,194.93 458.5,195.33 460,195.73 462.5,196.4 465.2,197.13 466.5,197.22 470.5,197.5 473.4,197.71 474.5,197.74 478.5,197.87 482.5,197.99 485,198.06 486.5,198 490.5,197.81 494.5,197.63 496.7,197.53 498.5,197.44 500.2,197.37 502.5,197.81 506.5,198.59 508.4,198.96 510.5,199.36 514.5,200.13 518.5,200.9 520.1,201.21 522.5,201.72 525,202.25 526.5,202.41 530,202.76 530.5,202.81 534.5,203.22 538.5,203.64 540,203.79 542.5,204.05 545,204.3 546.5,204.51 550.5,205.07 554.5,205.63 558.5,206.18 560,206.39 562,207.59 562.5,207.7 566.5,207.7 570.5,207.7 574.5,207.7 578.5,207.7 582.5,207.7 586.5,207.7 590.5,207.7 594.5,207.7 598.5,207.7 602.5,207.7 606.5,207.7 610.5,207.7 614.5,207.7 618.5,207.7 622.5,207.7 626.5,207.7 630.5,207.7 634.5,207.7 638.5,207.7 642.5,207.7 646.5,207.7 650.5,207.7 654.5,207.7 658.5,207.7 662.5,207.7 666.5,207.7 670.5,207.7 674.5,207.7 674.5,188.8" fill="#88b7d9"/>
<polygon points="398.5,188.8 398.5,188.8 399,188.8 399.2,188.8 400.5,188.8 401,188.8 401.3,188.8 402.5,188.8 404.8,188.8 406.5,188.8 409.1,188.8 410.5,188.8 413.5,188.8 414.5,188.8 418.5,188.8 419.6,188.8 422.3,189.16 422.5,189.21 424.9,189.8 426.5,190.04 430.5,190.63 431,190.7 434.5,190.94 438.5,191.21 439.8,191.3 442.5,191.46 446.5,191.69 448.5,191.8 450,192.27 450.5,192.43 452,192.9 454.5,193.6 455.8,193.96 456,194.02 457,194.3 458.5,194.74 460,195.18 462.5,195.91 465.2,196.7 466.5,196.8 470.5,197.09 473.4,197.3 474.5,197.33 478.5,197.43 482.5,197.54 485,197.6 486.5,197.51 490.5,197.27 494.5,197.04 496.7,196.91 498.5,196.8 500.2,196.7 502.5,197.18 506.5,198.01 508.4,198.4 510.5,198.83 514.5,199.65 518.5,200.47 520.1,200.8 522.5,201.34 525,201.9 526.5,202.05 530,202.4 530.5,202.45 534.5,202.85 538.5,203.25 540,203.4 542.5,203.65 545,203.9 546.5,204.11 550.5,204.67 554.5,205.23 558.5,205.79 560,206 562,207.3 562.5,207.62 566.5,207.7 570.5,207.7 574.5,207.7 578.5,207.7 582.5,207.7 586.5,207.7 590.5,207.7 594.5,207.7 598.5,207.7 602.5,207.7 606.5,207.7 610.5,207.7 614.5,207.7 618.5,207.7 622.5,207.7 626.5,207.7 630.5,207.7 634.5,207.7 638.5,207.7 642.5,207.7 646.5,207.7 650.5,207.7 654.5,207.7 658.5,207.7 662.5,207.7 666.5,207.7 670.5,207.7 674.5,207.7 674.5,188.8" fill="#90bddc"/>
<polygon points="398.5,188.8 398.5,188.8 399,188.8 399.2,188.8 400.5,188.8 401,188.8 401.3,188.8 402.5,188.8 404.8,188.8 406.5,188.8 409.1,188.8 410.5,188.8 413.5,188.8 414.5,188.8 418.5,188.8 419.6,188.8 422.3,188.8 422.5,188.8 424.9,188.8 426.5,189.04 430.5,189.63 431,189.7 434.5,189.94 438.5,190.21 439.8,190.3 442.5,190.46 446.5,190.69 448.5,190.8 450,191.27 450.5,191.43 452,191.9 454.5,192.6 455.8,192.96 456,193.02 457,193.3 458.5,193.74 460,194.18 462.5,194.91 465.2,195.7 466.5,195.8 470.5,196.09 473.4,196.3 474.5,196.33 478.5,196.43 482.5,196.54 485,196.6 486.5,196.51 490.5,196.27 494.5,196.04 496.7,195.91 498.5,195.8 500.2,195.7 502.5,196.18 506.5,197.01 508.4,197.4 510.5,197.83 514.5,198.65 518.5,199.47 520.1,199.8 522.5,200.34 525,200.9 526.5,201.05 530,201.4 530.5,201.45 534.5,201.85 538.5,202.25 540,202.4 542.5,202.65 545,202.9 546.5,203.11 550.5,203.67 554.5,204.23 558.5,204.79 560,205 562,206.3 562.5,206.62 566.5,207.7 570.5,207.7 574.5,207.7 578.5,207.7 582.5,207.7 586.5,207.7 590.5,207.7 594.5,207.7 598.5,207.7 602.5,207.7 606.5,207.7 610.5,207.7 614.5,207.7 618.5,207.7 622.5,207.7 626.5,207.7 630.5,207.7 634.5,207.7 638.5,207.7 642.5,207.7 646.5,207.7 650.5,207.7 654.5,207.7 658.5,207.7 662.5,207.7 666.5,207.7 670.5,207.7 674.5,207.7 674.5,188.8" fill="#d9e6f2"/>
<polygon points="398.5,188.8 398.5,188.8 399,188.8 399.2,188.8 400.5,188.8 401,188.8 401.3,188.8 402.5,188.8 404.8,188.8 406.5,188.8 409.1,188.8 410.5,188.8 413.5,188.8 414.5,188.8 418.5,188.8 419.6,188.8 422.3,188.8 422.5,188.8 424.9,188.8 426.5,188.8 430.5,188.8 431,188.8 434.5,188.8 438.5,189.01 439.8,189.1 442.5,189.26 446.5,189.49 448.5,189.6 450,190.07 450.5,190.23 452,190.7 454.5,191.4 455.8,191.76 456,191.82 457,192.1 458.5,192.54 460,192.98 462.5,193.71 465.2,194.5 466.5,194.6 470.5,194.89 473.4,195.1 474.5,195.13 478.5,195.23 482.5,195.34 485,195.4 486.5,195.31 490.5,195.07 494.5,194.84 496.7,194.71 498.5,194.6 500.2,194.5 502.5,194.98 506.5,195.81 508.4,196.2 510.5,196.63 514.5,197.45 518.5,198.27 520.1,198.6 522.5,199.14 525,199.7 526.5,199.85 530,200.2 530.5,200.25 534.5,200.65 538.5,201.05 540,201.2 542.5,201.45 545,201.7 546.5,201.91 550.5,202.47 554.5,203.03 558.5,203.59 560,203.8 562,205.1 562.5,205.43 566.5,207.7 570.5,207.7 574.5,207.7 578.5,207.7 582.5,207.7 586.5,207.7 590.5,207.7 594.5,207.7 598.5,207.7 602.5,207.7 606.5,207.7 610.5,207.7 614.5,207.7 618.5,207.7 622.5,207.7 626.5,207.7 630.5,207.7 634.5,207.7 638.5,207.7 642.5,207.7 646.5,207.7 650.5,207.7 654.5,207.7 658.5,207.7 662.5,207.7 666.5,207.7 670.5,207.7 674.5,207.7 674.5,188.8" fill="#eef3f8"/>
<polygon points="398.5,188.8 398.5,188.8 399,188.8 399.2,188.8 400.5,188.8 401,188.8 401.3,188.8 402.5,188.8 404.8,188.8 406.5,188.8 409.1,188.8 410.5,188.8 413.5,188.8 414.5,188.8 418.5,188.8 419.6,188.8 422.3,188.8 422.5,188.8 424.9,188.8 426.5,188.8 430.5,188.8 431,188.8 434.5,188.8 438.5,188.8 439.8,188.8 442.5,188.8 446.5,188.8 448.5,188.8 450,188.87 450.5,189.03 452,189.5 454.5,190.2 455.8,190.56 456,190.62 457,190.9 458.5,191.34 460,191.78 462.5,192.51 465.2,193.3 466.5,193.4 470.5,193.69 473.4,193.9 474.5,193.93 478.5,194.03 482.5,194.14 485,194.2 486.5,194.11 490.5,193.87 494.5,193.64 496.7,193.51 498.5,193.4 500.2,193.3 502.5,193.78 506.5,194.61 508.4,195 510.5,195.43 514.5,196.25 518.5,197.07 520.1,197.4 522.5,197.94 525,198.5 526.5,198.65 530,199 530.5,199.05 534.5,199.45 538.5,199.85 540,200 542.5,200.25 545,200.5 546.5,200.71 550.5,201.27 554.5,201.83 558.5,202.39 560,202.6 562,203.9 562.5,204.22 566.5,206.82 570.5,207.7 574.5,207.7 578.5,207.7 582.5,207.7 586.5,207.7 590.5,207.7 594.5,207.7 598.5,207.7 602.5,207.7 606.5,207.7 610.5,207.7 614.5,207.7 618.5,207.7 622.5,207.7 626.5,207.7 630.5,207.7 634.5,207.7 638.5,207.7 642.5,207.7 646.5,207.7 650.5,207.7 654.5,207.7 658.5,207.7 662.5,207.7 666.5,207.7 670.5,207.7 674.5,207.7 674.5,188.8" fill="#f9f9f9"/>
</g>
<polyline points="422.5,189.21 424.9,189.8 426.5,190.04 430.5,190.63 431,190.7 434.5,190.94 438.5,191.21 439.8,191.3 442.5,191.46 446.5,191.69 448.5,191.8 450,192.27 450.5,192.43 452,192.9 454.5,193.6 455.8,193.96 456,194.02 457,194.3 458.5,194.74 460,195.18 462.5,195.91 465.2,196.7 466.5,196.8 470.5,197.09 473.4,197.3 474.5,197.33 478.5,197.43 482.5,197.54 485,197.6 486.5,197.51 490.5,197.27 494.5,197.04 496.7,196.91 498.5,196.8 500.2,196.7 502.5,197.18 506.5,198.01 508.4,198.4 510.5,198.83 514.5,199.65 518.5,200.47 520.1,200.8 522.5,201.34 525,201.9 526.5,202.05 530,202.4 530.5,202.45 534.5,202.85 538.5,203.25 540,203.4 542.5,203.65 545,203.9 546.5,204.11 550.5,204.67 554.5,205.23 558.5,205.79 560,206 562,207.3 562.5,207.62" fill="none" stroke="#1a1a1a" stroke-width="0.9"/>
<polyline points="401.3,189.4 402.5,189.98 404.8,191.1 406.5,193.1 409.1,194.6 410.5,194.95 413.5,195.7 414.5,195.82 418.5,196.32 419.6,196.46 422.3,196.8 422.5,196.82 424.9,197.07 426.5,197.23 430.5,197.65 431,197.7 434.5,198.06 438.5,198.47 439.8,198.6 442.5,198.94 446.5,199.45 448.5,199.7 450,199.86 450.5,199.91 452,200.07 454.5,200.34 455.8,200.48 456,200.5 457,200.55 458.5,200.63 460,200.71 462.5,200.84 465.2,200.98 466.5,201.04 470.5,201.25 473.4,201.4 474.5,201.48 478.5,201.77 482.5,202.06 485,202.25 486.5,202.36 490.5,202.65 494.5,202.94 496.7,203.1 498.5,203.24 500.2,203.37 502.5,203.55 506.5,203.85 508.4,204 510.5,204.16 514.5,204.47 518.5,204.78 520.1,204.9 522.5,205.17 525,205.44 526.5,205.61 530,206 530.5,206.06 534.5,206.58 538.5,207.1 540,207.3 542.5,207.62 545,207.95 546.5,208.14 550.5,208.66 554.5,209.19" fill="none" stroke="#1a1a1a" stroke-width="0.9"/>
<polyline points="399.2,191.6 400.5,193.46 401,194.17 401.3,194.6 402.5,195.22 404.8,196.4 406.5,197.07 409.1,198.1 410.5,198.51 413.5,199.4 414.5,199.56 418.5,200.2 419.6,200.37 422.3,200.8 422.5,200.83 424.9,201.19 426.5,201.43 430.5,202.03 431,202.1 434.5,202.46 438.5,202.87 439.8,203 442.5,203.34 446.5,203.85 448.5,204.11 450,204.3 450.5,204.5 452,205.09 454.5,206.08 455.8,206.6 456,206.63 457,206.8 458.5,207.05 460,207.3 462.5,207.72 465.2,208.17 466.5,208.38 470.5,209.05 473.4,209.53" fill="none" stroke="#1a1a1a" stroke-width="0.9"/>
<polygon points="400.8,188.7 401.3,187 405,186.6 407.3,185.1 411.4,184.5 417.2,183.9 428,183.5 438.34,183.3 453.27,182.3 473.19,180.5 488.12,179.5 503.06,178.3 513.02,177.7 532.93,176.9 552.84,176.2 567.78,175.8 582.72,175.2 602.63,174.5 617.07,174 628.52,173.4 643.45,172.3 658.39,171.3 671.63,170.5 671.5,188.8 400.8,188.8" fill="#fff6db"/>
<polygon points="370.6,188.2 400.8,188.2 401.1,189.2 400.3,190.4 370.6,190.4" fill="#0d1117"/>
<polyline points="400.8,189 401.3,187.3 405,186.9 407.3,185.4 411.4,184.8 417.2,184.2 428,183.8 438.34,183.6 453.27,182.6 473.19,180.8 488.12,179.8 503.06,178.6 513.02,178 532.93,177.2 552.84,176.5 567.78,176.1 582.72,175.5 602.63,174.8 617.07,174.3 628.52,173.7 643.45,172.6 658.39,171.6 671.63,170.8" fill="none" stroke="#111" stroke-width="1.4"/>
<line x1="400.8" y1="188.5" x2="671.5" y2="188.5" stroke="#111" stroke-width="1.1"/>
<line x1="418.72" y1="183.6" x2="418.72" y2="190.3" stroke="#111" stroke-width="1.35"/>
<line x1="463.63" y1="181.3" x2="463.63" y2="197.8" stroke="#111" stroke-width="1.35"/>
<line x1="515.01" y1="178" x2="515.01" y2="199.3" stroke="#111" stroke-width="1.35"/>
<line x1="617.17" y1="173" x2="617.17" y2="206.7" stroke="#111" stroke-width="1.35"/>
<polygon points="642.5,197.3 652.9,192.3 652.9,195.2 672,195.2 672,199.3 652.9,199.3 652.9,202.5" fill="#0a6cc4"/>
</g>
<text transform="translate(418.72,181.5) scale(0.92,1)" text-anchor="middle" style="font-size:10.8px;">SIM 2</text>
<text transform="translate(463.63,178.8) scale(0.92,1)" text-anchor="middle" style="font-size:10.8px;">SIM 1</text>
<text transform="translate(515.01,175.7) scale(0.92,1)" text-anchor="middle" style="font-size:10.8px;">SIM 3</text>
<text transform="translate(617.17,171.6) scale(0.92,1)" text-anchor="middle" style="font-size:10.8px;">SIM 6</text>
<text transform="translate(666,186.3) scale(0.92,1)" text-anchor="end" style="font-size:10.8px;fill:#1b5a9c;stroke:#1b5a9c;stroke-width:0.15px">1 ML/yr</text>
<text transform="translate(376.1,171.4) scale(0.9,1)" style="font-size:10.4px;">I</text>
<rect x="370.6" y="158.7" width="300.9" height="48" fill="none" stroke="#777" stroke-width="1"/>
<line x1="376.94" y1="206.7" x2="376.94" y2="205.1" stroke="#333" stroke-width="0.8"/>
<line x1="388.97" y1="206.7" x2="388.97" y2="205.1" stroke="#333" stroke-width="0.8"/>
<line x1="401" y1="206.7" x2="401" y2="203.7" stroke="#333" stroke-width="0.8"/>
<line x1="413.03" y1="206.7" x2="413.03" y2="205.1" stroke="#333" stroke-width="0.8"/>
<line x1="425.06" y1="206.7" x2="425.06" y2="205.1" stroke="#333" stroke-width="0.8"/>
<line x1="437.08" y1="206.7" x2="437.08" y2="205.1" stroke="#333" stroke-width="0.8"/>
<line x1="449.11" y1="206.7" x2="449.11" y2="205.1" stroke="#333" stroke-width="0.8"/>
<line x1="461.14" y1="206.7" x2="461.14" y2="203.7" stroke="#333" stroke-width="0.8"/>
<line x1="473.17" y1="206.7" x2="473.17" y2="205.1" stroke="#333" stroke-width="0.8"/>
<line x1="485.2" y1="206.7" x2="485.2" y2="205.1" stroke="#333" stroke-width="0.8"/>
<line x1="497.22" y1="206.7" x2="497.22" y2="205.1" stroke="#333" stroke-width="0.8"/>
<line x1="509.25" y1="206.7" x2="509.25" y2="205.1" stroke="#333" stroke-width="0.8"/>
<line x1="521.28" y1="206.7" x2="521.28" y2="203.7" stroke="#333" stroke-width="0.8"/>
<line x1="533.31" y1="206.7" x2="533.31" y2="205.1" stroke="#333" stroke-width="0.8"/>
<line x1="545.34" y1="206.7" x2="545.34" y2="205.1" stroke="#333" stroke-width="0.8"/>
<line x1="557.36" y1="206.7" x2="557.36" y2="205.1" stroke="#333" stroke-width="0.8"/>
<line x1="569.39" y1="206.7" x2="569.39" y2="205.1" stroke="#333" stroke-width="0.8"/>
<line x1="581.42" y1="206.7" x2="581.42" y2="203.7" stroke="#333" stroke-width="0.8"/>
<line x1="593.45" y1="206.7" x2="593.45" y2="205.1" stroke="#333" stroke-width="0.8"/>
<line x1="605.48" y1="206.7" x2="605.48" y2="205.1" stroke="#333" stroke-width="0.8"/>
<line x1="617.51" y1="206.7" x2="617.51" y2="205.1" stroke="#333" stroke-width="0.8"/>
<line x1="629.53" y1="206.7" x2="629.53" y2="205.1" stroke="#333" stroke-width="0.8"/>
<line x1="641.56" y1="206.7" x2="641.56" y2="203.7" stroke="#333" stroke-width="0.8"/>
<line x1="653.59" y1="206.7" x2="653.59" y2="205.1" stroke="#333" stroke-width="0.8"/>
<line x1="665.62" y1="206.7" x2="665.62" y2="205.1" stroke="#333" stroke-width="0.8"/>
<line x1="370.6" y1="173.7" x2="372.2" y2="173.7" stroke="#333" stroke-width="0.8"/>
<line x1="370.6" y1="203.7" x2="372.2" y2="203.7" stroke="#333" stroke-width="0.8"/>
<text transform="translate(367.7,162.5) scale(0.9,1)" text-anchor="end" style="font-size:10.8px;">50</text>
<text transform="translate(367.7,192.6) scale(0.9,1)" text-anchor="end" style="font-size:10.8px;">0</text>
<clipPath id="cD"><rect x="37.6" y="220.1" width="301.8" height="48"/></clipPath>
<g clip-path="url(#cD)">
<rect x="37.6" y="220.1" width="301.8" height="48" fill="#fff"/>
<clipPath id="fc3"><rect x="30" y="249.8" width="320" height="18.3"/></clipPath>
<g clip-path="url(#fc3)"><g filter="url(#ff3)">
<rect x="26.8" y="246.8" width="322.6" height="24.3" fill="rgb(148,148,148)"/>
<ellipse cx="68" cy="251.5" rx="35" ry="2" fill="rgb(122,122,122)"/>
<ellipse cx="125" cy="260" rx="13" ry="2" fill="rgb(105,105,105)"/>
<ellipse cx="127.5" cy="260" rx="5.5" ry="1.5" fill="rgb(84,84,84)"/>
<ellipse cx="157.5" cy="261" rx="20.5" ry="2" fill="rgb(110,110,110)"/>
<ellipse cx="288" cy="251" rx="55" ry="1.5" fill="rgb(122,122,122)"/>
<ellipse cx="50" cy="259" rx="13" ry="2" fill="rgb(184,184,184)"/>
<ellipse cx="65" cy="253.5" rx="8" ry="1.5" fill="rgb(184,184,184)"/>
<ellipse cx="75" cy="257" rx="8" ry="1.5" fill="rgb(184,184,184)"/>
<ellipse cx="72.5" cy="263.5" rx="10.5" ry="1.5" fill="rgb(184,184,184)"/>
<ellipse cx="100" cy="266" rx="13" ry="1.5" fill="rgb(184,184,184)"/>
<ellipse cx="172.5" cy="256" rx="10.5" ry="1.5" fill="rgb(209,209,209)"/>
<ellipse cx="207.5" cy="261" rx="15.5" ry="2" fill="rgb(204,204,204)"/>
<ellipse cx="207.5" cy="266" rx="10.5" ry="1.5" fill="rgb(184,184,184)"/>
<ellipse cx="252.5" cy="251" rx="10.5" ry="1.5" fill="rgb(184,184,184)"/>
<ellipse cx="272.5" cy="264" rx="15.5" ry="2" fill="rgb(204,204,204)"/>
<ellipse cx="317.5" cy="262" rx="25.5" ry="3.5" fill="rgb(204,204,204)"/>
<ellipse cx="330" cy="262" rx="13" ry="2.5" fill="rgb(214,214,214)"/>
</g></g>
<polygon points="66.4,249.7 67.2,248.4 68.2,247.6 71.7,247.6 74.3,246.1 78.4,245.5 90,245.3 105,244.7 120,243.7 140,241.9 155,240.9 170,239.7 180,239.1 200,238.3 220,237.6 235,237.2 250,236.6 270,235.9 284.5,235.4 296,234.8 311,233.7 326,232.7 339.3,231.9 339.4,249.8 66.4,249.8" fill="#fff6db"/>
<polygon points="37.6,249.5 66.4,249.5 66.8,250.5 66.7,250.7 62,251.5 55,252 37.6,252" fill="#0d1117"/>
<polyline points="66.4,250 67.2,248.7 68.2,247.9 71.7,247.9 74.3,246.4 78.4,245.8 90,245.6 105,245 120,244 140,242.2 155,241.2 170,240 180,239.4 200,238.6 220,237.9 235,237.5 250,236.9 270,236.2 284.5,235.7 296,235.1 311,234 326,233 339.3,232.2" fill="none" stroke="#111" stroke-width="1.4"/>
<line x1="66.4" y1="249.5" x2="339.4" y2="249.5" stroke="#111" stroke-width="1.1"/>
<line x1="85.3" y1="245" x2="85.3" y2="251.7" stroke="#111" stroke-width="1.35"/>
<line x1="130.4" y1="242.7" x2="130.4" y2="259.2" stroke="#111" stroke-width="1.35"/>
<line x1="182" y1="239.4" x2="182" y2="260.7" stroke="#111" stroke-width="1.35"/>
<line x1="284.6" y1="234.4" x2="284.6" y2="268.1" stroke="#111" stroke-width="1.35"/>
</g>
<text transform="translate(85.3,242.9) scale(0.92,1)" text-anchor="middle" style="font-size:10.8px;">SIM 2</text>
<text transform="translate(130.4,240.2) scale(0.92,1)" text-anchor="middle" style="font-size:10.8px;">SIM 1</text>
<text transform="translate(182,237.1) scale(0.92,1)" text-anchor="middle" style="font-size:10.8px;">SIM 3</text>
<text transform="translate(284.6,233) scale(0.92,1)" text-anchor="middle" style="font-size:10.8px;">SIM 6</text>
<text transform="translate(43.6,233.1) scale(0.9,1)" style="font-size:10.4px;">D</text>
<rect x="37.6" y="220.1" width="301.8" height="48" fill="none" stroke="#777" stroke-width="1"/>
<line x1="43.34" y1="268.1" x2="43.34" y2="266.5" stroke="#333" stroke-width="0.8"/>
<line x1="55.42" y1="268.1" x2="55.42" y2="266.5" stroke="#333" stroke-width="0.8"/>
<line x1="67.5" y1="268.1" x2="67.5" y2="265.1" stroke="#333" stroke-width="0.8"/>
<line x1="79.58" y1="268.1" x2="79.58" y2="266.5" stroke="#333" stroke-width="0.8"/>
<line x1="91.66" y1="268.1" x2="91.66" y2="266.5" stroke="#333" stroke-width="0.8"/>
<line x1="103.74" y1="268.1" x2="103.74" y2="266.5" stroke="#333" stroke-width="0.8"/>
<line x1="115.82" y1="268.1" x2="115.82" y2="266.5" stroke="#333" stroke-width="0.8"/>
<line x1="127.9" y1="268.1" x2="127.9" y2="265.1" stroke="#333" stroke-width="0.8"/>
<line x1="139.98" y1="268.1" x2="139.98" y2="266.5" stroke="#333" stroke-width="0.8"/>
<line x1="152.06" y1="268.1" x2="152.06" y2="266.5" stroke="#333" stroke-width="0.8"/>
<line x1="164.14" y1="268.1" x2="164.14" y2="266.5" stroke="#333" stroke-width="0.8"/>
<line x1="176.22" y1="268.1" x2="176.22" y2="266.5" stroke="#333" stroke-width="0.8"/>
<line x1="188.3" y1="268.1" x2="188.3" y2="265.1" stroke="#333" stroke-width="0.8"/>
<line x1="200.38" y1="268.1" x2="200.38" y2="266.5" stroke="#333" stroke-width="0.8"/>
<line x1="212.46" y1="268.1" x2="212.46" y2="266.5" stroke="#333" stroke-width="0.8"/>
<line x1="224.54" y1="268.1" x2="224.54" y2="266.5" stroke="#333" stroke-width="0.8"/>
<line x1="236.62" y1="268.1" x2="236.62" y2="266.5" stroke="#333" stroke-width="0.8"/>
<line x1="248.7" y1="268.1" x2="248.7" y2="265.1" stroke="#333" stroke-width="0.8"/>
<line x1="260.78" y1="268.1" x2="260.78" y2="266.5" stroke="#333" stroke-width="0.8"/>
<line x1="272.86" y1="268.1" x2="272.86" y2="266.5" stroke="#333" stroke-width="0.8"/>
<line x1="284.94" y1="268.1" x2="284.94" y2="266.5" stroke="#333" stroke-width="0.8"/>
<line x1="297.02" y1="268.1" x2="297.02" y2="266.5" stroke="#333" stroke-width="0.8"/>
<line x1="309.1" y1="268.1" x2="309.1" y2="265.1" stroke="#333" stroke-width="0.8"/>
<line x1="321.18" y1="268.1" x2="321.18" y2="266.5" stroke="#333" stroke-width="0.8"/>
<line x1="333.26" y1="268.1" x2="333.26" y2="266.5" stroke="#333" stroke-width="0.8"/>
<line x1="37.6" y1="235.1" x2="39.2" y2="235.1" stroke="#333" stroke-width="0.8"/>
<line x1="37.6" y1="265.1" x2="39.2" y2="265.1" stroke="#333" stroke-width="0.8"/>
<text transform="translate(34.7,223.9) scale(0.9,1)" text-anchor="end" style="font-size:10.8px;">50</text>
<text transform="translate(34.7,253.6) scale(0.9,1)" text-anchor="end" style="font-size:10.8px;">0</text>
<clipPath id="cJ"><rect x="370.6" y="220" width="300.9" height="48"/></clipPath>
<g clip-path="url(#cJ)">
<rect x="370.6" y="220" width="300.9" height="48" fill="#fff"/>
<rect x="370.6" y="250.1" width="300.9" height="17.9" fill="#fd3d3d"/>
<g filter="url(#soft)">
<polygon points="398.5,250.1 398.5,250.1 398.8,250.1 398.9,251.3 399.5,253.4 400.5,253.91 401.3,254.33 402.5,254.94 403,255.2 404.8,255.52 406.5,255.83 409.1,256.3 410.5,256.62 413.5,257.3 414.5,257.53 417.9,258.3 418.5,258.48 422.3,259.6 422.5,259.61 426.5,259.89 430.5,260.17 431,260.2 434.5,260.4 438.5,260.63 439.8,260.7 442.5,260.83 446.5,261.03 450,261.2 450.5,261.24 454.5,261.53 458.5,261.82 462.5,262.11 466.5,262.4 467.5,262.47 470.5,262.69 473.4,262.9 474.5,263.04 478.5,263.56 482.5,264.07 486.5,264.59 490.5,265.1 490.9,265.15 494.5,265.62 496.7,265.9 498.5,266.16 502.5,266.74 506,267.25 506.5,267.32 508.4,267.6 510.5,268.18 512,268.6 514.5,269 518.5,269 520.1,269 522.5,269 525,269 526.5,269 530,269 530.5,269 534.5,269 536.7,269 538.5,269 542.5,269 546.5,269 548.4,269 550.5,269 554.5,269 558.5,269 560,269 562.5,269 566.5,269 569.4,269 570.5,269 572,269 574,269 574.5,269 577,269 578.5,269 582.5,269 586.5,269 590.5,269 594.5,269 598.5,269 602.5,269 606.5,269 610.5,269 614.5,269 618.5,269 622.5,269 626.5,269 630.5,269 634.5,269 638.5,269 642.5,269 646.5,269 650.5,269 654.5,269 658.5,269 662.5,269 666.5,269 670.5,269 674.5,269 674.5,250.1" fill="#fe3f3c"/>
<polygon points="398.5,250.1 398.5,250.1 398.8,250.1 398.9,250.96 399.5,252.55 400.5,252.96 401.3,253.44 402.5,254.02 403,254.26 404.8,254.67 406.5,254.98 409.1,255.45 410.5,255.75 413.5,256.4 414.5,256.6 417.9,257.29 418.5,257.44 422.3,258.4 422.5,258.42 426.5,258.77 430.5,259.13 431,259.18 434.5,259.43 438.5,259.73 439.8,259.82 442.5,259.96 446.5,260.17 450,260.35 450.5,260.39 454.5,260.67 458.5,260.96 462.5,261.24 466.5,261.53 467.5,261.6 470.5,261.82 473.4,262.02 474.5,262.15 478.5,262.62 482.5,263.08 486.5,263.54 490.5,264.01 490.9,264.05 494.5,264.47 496.7,264.72 498.5,264.96 502.5,265.49 506,265.95 506.5,266.01 508.4,266.26 510.5,266.75 512,267.09 514.5,267.67 518.5,268.59 520.1,268.96 522.5,269 525,269 526.5,269 530,269 530.5,269 534.5,269 536.7,269 538.5,269 542.5,269 546.5,269 548.4,269 550.5,269 554.5,269 558.5,269 560,269 562.5,269 566.5,269 569.4,269 570.5,269 572,269 574,269 574.5,269 577,269 578.5,269 582.5,269 586.5,269 590.5,269 594.5,269 598.5,269 602.5,269 606.5,269 610.5,269 614.5,269 618.5,269 622.5,269 626.5,269 630.5,269 634.5,269 638.5,269 642.5,269 646.5,269 650.5,269 654.5,269 658.5,269 662.5,269 666.5,269 670.5,269 674.5,269 674.5,250.1" fill="#fc533c"/>
<polygon points="398.5,250.1 398.5,250.1 398.8,250.1 398.9,250.62 399.5,251.7 400.5,252.01 401.3,252.56 402.5,253.09 403,253.32 404.8,253.81 406.5,254.12 409.1,254.6 410.5,254.88 413.5,255.5 414.5,255.68 417.9,256.27 418.5,256.4 422.3,257.2 422.5,257.22 426.5,257.66 430.5,258.1 431,258.15 434.5,258.47 438.5,258.83 439.8,258.95 442.5,259.1 446.5,259.31 450,259.5 450.5,259.54 454.5,259.82 458.5,260.1 462.5,260.38 466.5,260.66 467.5,260.73 470.5,260.95 473.4,261.15 474.5,261.26 478.5,261.68 482.5,262.09 486.5,262.5 490.5,262.91 490.9,262.95 494.5,263.32 496.7,263.55 498.5,263.76 502.5,264.23 506,264.64 506.5,264.7 508.4,264.93 510.5,265.31 512,265.59 514.5,266.05 518.5,266.78 520.1,267.08 522.5,267.49 525,267.93 526.5,268.19 530,268.8 530.5,268.89 534.5,269 536.7,269 538.5,269 542.5,269 546.5,269 548.4,269 550.5,269 554.5,269 558.5,269 560,269 562.5,269 566.5,269 569.4,269 570.5,269 572,269 574,269 574.5,269 577,269 578.5,269 582.5,269 586.5,269 590.5,269 594.5,269 598.5,269 602.5,269 606.5,269 610.5,269 614.5,269 618.5,269 622.5,269 626.5,269 630.5,269 634.5,269 638.5,269 642.5,269 646.5,269 650.5,269 654.5,269 658.5,269 662.5,269 666.5,269 670.5,269 674.5,269 674.5,250.1" fill="#fa6d3b"/>
<polygon points="398.5,250.1 398.5,250.1 398.8,250.1 398.9,250.28 399.5,250.85 400.5,251.05 401.3,251.68 402.5,252.17 403,252.37 404.8,252.96 406.5,253.27 409.1,253.74 410.5,254.02 413.5,254.6 414.5,254.75 417.9,255.26 418.5,255.36 422.3,256 422.5,256.03 426.5,256.54 430.5,257.06 431,257.12 434.5,257.5 438.5,257.93 439.8,258.07 442.5,258.23 446.5,258.45 450,258.65 450.5,258.68 454.5,258.96 458.5,259.24 462.5,259.52 466.5,259.8 467.5,259.87 470.5,260.07 473.4,260.27 474.5,260.37 478.5,260.73 482.5,261.1 486.5,261.46 490.5,261.82 490.9,261.85 494.5,262.18 496.7,262.38 498.5,262.56 502.5,262.98 506,263.34 506.5,263.39 508.4,263.59 510.5,263.87 512,264.08 514.5,264.42 518.5,264.97 520.1,265.19 522.5,265.48 525,265.79 526.5,265.97 530,266.4 530.5,266.47 534.5,267.05 536.7,267.37 538.5,267.63 542.5,268.21 546.5,268.78 548.4,269 550.5,269 554.5,269 558.5,269 560,269 562.5,269 566.5,269 569.4,269 570.5,269 572,269 574,269 574.5,269 577,269 578.5,269 582.5,269 586.5,269 590.5,269 594.5,269 598.5,269 602.5,269 606.5,269 610.5,269 614.5,269 618.5,269 622.5,269 626.5,269 630.5,269 634.5,269 638.5,269 642.5,269 646.5,269 650.5,269 654.5,269 658.5,269 662.5,269 666.5,269 670.5,269 674.5,269 674.5,250.1" fill="#fa8839"/>
<polygon points="398.5,250.1 398.5,250.1 398.8,250.1 398.9,250.1 399.5,250.1 400.5,250.1 401.3,250.8 402.5,251.25 403,251.43 404.8,252.1 406.5,252.41 409.1,252.89 410.5,253.15 413.5,253.7 414.5,253.82 417.9,254.25 418.5,254.32 422.3,254.8 422.5,254.83 426.5,255.43 430.5,256.03 431,256.1 434.5,256.54 438.5,257.04 439.8,257.2 442.5,257.36 446.5,257.59 450,257.8 450.5,257.83 454.5,258.11 458.5,258.38 462.5,258.65 466.5,258.93 467.5,259 470.5,259.2 473.4,259.4 474.5,259.48 478.5,259.79 482.5,260.1 486.5,260.41 490.5,260.72 490.9,260.75 494.5,261.03 496.7,261.2 498.5,261.36 502.5,261.72 506,262.03 506.5,262.08 508.4,262.25 510.5,262.44 512,262.57 514.5,262.8 518.5,263.16 520.1,263.3 522.5,263.47 525,263.65 526.5,263.75 530,264 530.5,264.05 534.5,264.45 536.7,264.67 538.5,264.85 542.5,265.25 546.5,265.65 548.4,265.84 550.5,266.05 554.5,266.45 558.5,266.85 560,267 562.5,267.33 566.5,267.87 569.4,268.25 570.5,268.4 572,268.6 574,268.87 574.5,268.93 577,269 578.5,269 582.5,269 586.5,269 590.5,269 594.5,269 598.5,269 602.5,269 606.5,269 610.5,269 614.5,269 618.5,269 622.5,269 626.5,269 630.5,269 634.5,269 638.5,269 642.5,269 646.5,269 650.5,269 654.5,269 658.5,269 662.5,269 666.5,269 670.5,269 674.5,269 674.5,250.1" fill="#fc9e38"/>
<polygon points="398.5,250.1 398.5,250.1 398.8,250.1 398.9,250.1 399.5,250.1 400.5,250.1 401.3,250.8 402.5,251.25 403,251.43 404.8,252.1 406.5,252.41 409.1,252.89 410.5,253.15 413.5,253.7 414.5,253.82 417.9,254.25 418.5,254.32 422.3,254.8 422.5,254.83 426.5,255.43 430.5,256.03 431,256.1 434.5,256.54 438.5,257.04 439.8,257.2 442.5,257.36 446.5,257.59 450,257.8 450.5,257.83 454.5,258.11 458.5,258.38 462.5,258.65 466.5,258.93 467.5,259 470.5,259.2 473.4,259.4 474.5,259.48 478.5,259.79 482.5,260.1 486.5,260.41 490.5,260.72 490.9,260.75 494.5,261.03 496.7,261.2 498.5,261.36 502.5,261.72 506,262.03 506.5,262.08 508.4,262.25 510.5,262.44 512,262.57 514.5,262.8 518.5,263.16 520.1,263.3 522.5,263.47 525,263.65 526.5,263.75 530,264 530.5,264.05 534.5,264.45 536.7,264.67 538.5,264.85 542.5,265.25 546.5,265.65 548.4,265.84 550.5,266.05 554.5,266.45 558.5,266.85 560,267 562.5,267.33 566.5,267.87 569.4,268.25 570.5,268.4 572,268.6 574,268.87 574.5,268.93 577,269 578.5,269 582.5,269 586.5,269 590.5,269 594.5,269 598.5,269 602.5,269 606.5,269 610.5,269 614.5,269 618.5,269 622.5,269 626.5,269 630.5,269 634.5,269 638.5,269 642.5,269 646.5,269 650.5,269 654.5,269 658.5,269 662.5,269 666.5,269 670.5,269 674.5,269 674.5,250.1" fill="#fc9e38"/>
<polygon points="398.5,250.1 398.5,250.1 398.8,250.1 398.9,250.1 399.5,250.1 400.5,250.1 401.3,250.53 402.5,250.93 403,251.1 404.8,251.7 406.5,251.99 409.1,252.42 410.5,252.66 413.5,253.16 414.5,253.27 417.9,253.66 418.5,253.73 422.3,254.17 422.5,254.19 426.5,254.74 430.5,255.28 431,255.35 434.5,255.75 438.5,256.21 439.8,256.36 442.5,256.51 446.5,256.73 450,256.92 450.5,256.95 454.5,257.22 458.5,257.48 462.5,257.75 466.5,258.01 467.5,258.08 470.5,258.27 473.4,258.46 474.5,258.54 478.5,258.83 482.5,259.12 486.5,259.42 490.5,259.71 490.9,259.74 494.5,260.04 496.7,260.22 498.5,260.43 502.5,260.9 506,261.31 506.5,261.36 508.4,261.52 510.5,261.71 512,261.84 514.5,262.06 518.5,262.42 520.1,262.56 522.5,262.75 525,262.95 526.5,263.07 530,263.35 530.5,263.4 534.5,263.83 536.7,264.06 538.5,264.26 542.5,264.68 546.5,265.11 548.4,265.32 550.5,265.55 554.5,266.01 558.5,266.46 560,266.63 562.5,266.99 566.5,267.57 569.4,267.99 570.5,268.16 572,268.4 574,268.71 574.5,268.79 577,269 578.5,269 582.5,269 586.5,269 590.5,269 594.5,269 598.5,269 602.5,269 606.5,269 610.5,269 614.5,269 618.5,269 622.5,269 626.5,269 630.5,269 634.5,269 638.5,269 642.5,269 646.5,269 650.5,269 654.5,269 658.5,269 662.5,269 666.5,269 670.5,269 674.5,269 674.5,250.1" fill="#f5c43e"/>
<polygon points="398.5,250.1 398.5,250.1 398.8,250.1 398.9,250.1 399.5,250.1 400.5,250.1 401.3,250.25 402.5,250.61 403,250.76 404.8,251.3 406.5,251.56 409.1,251.95 410.5,252.17 413.5,252.62 414.5,252.72 417.9,253.08 418.5,253.14 422.3,253.53 422.5,253.56 426.5,254.05 430.5,254.54 431,254.61 434.5,254.97 438.5,255.39 439.8,255.52 442.5,255.66 446.5,255.86 450,256.04 450.5,256.07 454.5,256.33 458.5,256.58 462.5,256.84 466.5,257.09 467.5,257.16 470.5,257.34 473.4,257.52 474.5,257.6 478.5,257.87 482.5,258.14 486.5,258.42 490.5,258.69 490.9,258.72 494.5,259.04 496.7,259.24 498.5,259.5 502.5,260.08 506,260.59 506.5,260.63 508.4,260.8 510.5,260.98 512,261.11 514.5,261.33 518.5,261.68 520.1,261.82 522.5,262.03 525,262.26 526.5,262.39 530,262.7 530.5,262.76 534.5,263.21 536.7,263.46 538.5,263.66 542.5,264.12 546.5,264.58 548.4,264.79 550.5,265.06 554.5,265.56 558.5,266.07 560,266.26 562.5,266.65 566.5,267.27 569.4,267.72 570.5,267.92 572,268.19 574,268.55 574.5,268.65 577,269 578.5,269 582.5,269 586.5,269 590.5,269 594.5,269 598.5,269 602.5,269 606.5,269 610.5,269 614.5,269 618.5,269 622.5,269 626.5,269 630.5,269 634.5,269 638.5,269 642.5,269 646.5,269 650.5,269 654.5,269 658.5,269 662.5,269 666.5,269 670.5,269 674.5,269 674.5,250.1" fill="#cac659"/>
<polygon points="398.5,250.1 398.5,250.1 398.8,250.1 398.9,250.1 399.5,250.1 400.5,250.1 401.3,250.1 402.5,250.3 403,250.43 404.8,250.91 406.5,251.14 409.1,251.49 410.5,251.67 413.5,252.08 414.5,252.17 417.9,252.49 418.5,252.54 422.3,252.9 422.5,252.92 426.5,253.36 430.5,253.8 431,253.86 434.5,254.19 438.5,254.56 439.8,254.68 442.5,254.81 446.5,255 450,255.16 450.5,255.19 454.5,255.44 458.5,255.68 462.5,255.93 466.5,256.18 467.5,256.24 470.5,256.41 473.4,256.58 474.5,256.65 478.5,256.91 482.5,257.17 486.5,257.42 490.5,257.68 490.9,257.71 494.5,258.05 496.7,258.26 498.5,258.57 502.5,259.26 506,259.86 506.5,259.91 508.4,260.07 510.5,260.25 512,260.38 514.5,260.6 518.5,260.94 520.1,261.08 522.5,261.32 525,261.56 526.5,261.71 530,262.05 530.5,262.11 534.5,262.59 536.7,262.85 538.5,263.07 542.5,263.55 546.5,264.04 548.4,264.27 550.5,264.56 554.5,265.12 558.5,265.68 560,265.89 562.5,266.31 566.5,266.97 569.4,267.46 570.5,267.68 572,267.99 574,268.4 574.5,268.51 577,269 578.5,269 582.5,269 586.5,269 590.5,269 594.5,269 598.5,269 602.5,269 606.5,269 610.5,269 614.5,269 618.5,269 622.5,269 626.5,269 630.5,269 634.5,269 638.5,269 642.5,269 646.5,269 650.5,269 654.5,269 658.5,269 662.5,269 666.5,269 670.5,269 674.5,269 674.5,250.1" fill="#a2c86b"/>
<polygon points="398.5,250.1 398.5,250.1 398.8,250.1 398.9,250.1 399.5,250.1 400.5,250.1 401.3,250.1 402.5,250.1 403,250.1 404.8,250.51 406.5,250.71 409.1,251.02 410.5,251.18 413.5,251.54 414.5,251.62 417.9,251.9 418.5,251.95 422.3,252.26 422.5,252.28 426.5,252.67 430.5,253.06 431,253.11 434.5,253.4 438.5,253.73 439.8,253.84 442.5,253.96 446.5,254.13 450,254.28 450.5,254.31 454.5,254.55 458.5,254.78 462.5,255.02 466.5,255.26 467.5,255.32 470.5,255.48 473.4,255.64 474.5,255.71 478.5,255.95 482.5,256.19 486.5,256.43 490.5,256.67 490.9,256.69 494.5,257.06 496.7,257.28 498.5,257.64 502.5,258.44 506,259.14 506.5,259.18 508.4,259.34 510.5,259.52 512,259.65 514.5,259.86 518.5,260.2 520.1,260.34 522.5,260.6 525,260.87 526.5,261.03 530,261.4 530.5,261.47 534.5,261.97 536.7,262.24 538.5,262.47 542.5,262.99 546.5,263.5 548.4,263.74 550.5,264.07 554.5,264.68 558.5,265.29 560,265.52 562.5,265.96 566.5,266.68 569.4,267.19 570.5,267.44 572,267.78 574,268.24 574.5,268.37 577,269 578.5,269 582.5,269 586.5,269 590.5,269 594.5,269 598.5,269 602.5,269 606.5,269 610.5,269 614.5,269 618.5,269 622.5,269 626.5,269 630.5,269 634.5,269 638.5,269 642.5,269 646.5,269 650.5,269 654.5,269 658.5,269 662.5,269 666.5,269 670.5,269 674.5,269 674.5,250.1" fill="#82c87f"/>
<polygon points="398.5,250.1 398.5,250.1 398.8,250.1 398.9,250.1 399.5,250.1 400.5,250.1 401.3,250.1 402.5,250.1 403,250.1 404.8,250.11 406.5,250.28 409.1,250.55 410.5,250.69 413.5,251 414.5,251.07 417.9,251.31 418.5,251.36 422.3,251.63 422.5,251.65 426.5,251.99 430.5,252.32 431,252.37 434.5,252.62 438.5,252.91 439.8,253 442.5,253.11 446.5,253.26 450,253.4 450.5,253.43 454.5,253.66 458.5,253.88 462.5,254.11 466.5,254.34 467.5,254.4 470.5,254.55 473.4,254.7 474.5,254.76 478.5,254.99 482.5,255.21 486.5,255.43 490.5,255.65 490.9,255.68 494.5,256.06 496.7,256.3 498.5,256.71 502.5,257.62 506,258.42 506.5,258.46 508.4,258.62 510.5,258.79 512,258.92 514.5,259.13 518.5,259.47 520.1,259.6 522.5,259.88 525,260.17 526.5,260.35 530,260.76 530.5,260.82 534.5,261.35 536.7,261.63 538.5,261.88 542.5,262.42 546.5,262.96 548.4,263.22 550.5,263.57 554.5,264.23 558.5,264.9 560,265.15 562.5,265.62 566.5,266.38 569.4,266.93 570.5,267.2 572,267.58 574,268.08 574.5,268.23 577,268.93 578.5,269 582.5,269 586.5,269 590.5,269 594.5,269 598.5,269 602.5,269 606.5,269 610.5,269 614.5,269 618.5,269 622.5,269 626.5,269 630.5,269 634.5,269 638.5,269 642.5,269 646.5,269 650.5,269 654.5,269 658.5,269 662.5,269 666.5,269 670.5,269 674.5,269 674.5,250.1" fill="#81c49a"/>
<polygon points="398.5,250.1 398.5,250.1 398.8,250.1 398.9,250.1 399.5,250.1 400.5,250.1 401.3,250.1 402.5,250.1 403,250.1 404.8,250.1 406.5,250.1 409.1,250.1 410.5,250.2 413.5,250.45 414.5,250.52 417.9,250.73 418.5,250.76 422.3,251 422.5,251.01 426.5,251.3 430.5,251.58 431,251.62 434.5,251.83 438.5,252.08 439.8,252.16 442.5,252.26 446.5,252.4 450,252.52 450.5,252.55 454.5,252.77 458.5,252.99 462.5,253.2 466.5,253.42 467.5,253.48 470.5,253.62 473.4,253.76 474.5,253.82 478.5,254.02 482.5,254.23 486.5,254.43 490.5,254.64 490.9,254.66 494.5,255.07 496.7,255.32 498.5,255.78 502.5,256.8 506,257.69 506.5,257.74 508.4,257.89 510.5,258.07 512,258.19 514.5,258.4 518.5,258.73 520.1,258.86 522.5,259.16 525,259.48 526.5,259.67 530,260.11 530.5,260.18 534.5,260.73 536.7,261.03 538.5,261.28 542.5,261.85 546.5,262.43 548.4,262.7 550.5,263.07 554.5,263.79 558.5,264.51 560,264.78 562.5,265.28 566.5,266.08 569.4,266.66 570.5,266.96 572,267.38 574,267.93 574.5,268.08 577,268.87 578.5,269 582.5,269 586.5,269 590.5,269 594.5,269 598.5,269 602.5,269 606.5,269 610.5,269 614.5,269 618.5,269 622.5,269 626.5,269 630.5,269 634.5,269 638.5,269 642.5,269 646.5,269 650.5,269 654.5,269 658.5,269 662.5,269 666.5,269 670.5,269 674.5,269 674.5,250.1" fill="#80bfaa"/>
<polygon points="398.5,250.1 398.5,250.1 398.8,250.1 398.9,250.1 399.5,250.1 400.5,250.1 401.3,250.1 402.5,250.1 403,250.1 404.8,250.1 406.5,250.1 409.1,250.1 410.5,250.1 413.5,250.1 414.5,250.1 417.9,250.14 418.5,250.17 422.3,250.36 422.5,250.38 426.5,250.61 430.5,250.84 431,250.87 434.5,251.05 438.5,251.25 439.8,251.32 442.5,251.41 446.5,251.53 450,251.64 450.5,251.67 454.5,251.88 458.5,252.09 462.5,252.3 466.5,252.51 467.5,252.56 470.5,252.69 473.4,252.82 474.5,252.87 478.5,253.06 482.5,253.25 486.5,253.44 490.5,253.63 490.9,253.65 494.5,254.08 496.7,254.34 498.5,254.85 502.5,255.98 506,256.97 506.5,257.01 508.4,257.17 510.5,257.34 512,257.46 514.5,257.66 518.5,257.99 520.1,258.12 522.5,258.45 525,258.78 526.5,258.99 530,259.46 530.5,259.53 534.5,260.1 536.7,260.42 538.5,260.69 542.5,261.29 546.5,261.89 548.4,262.17 550.5,262.58 554.5,263.35 558.5,264.12 560,264.41 562.5,264.94 566.5,265.78 569.4,266.4 570.5,266.72 572,267.17 574,267.77 574.5,267.94 577,268.8 578.5,269 582.5,269 586.5,269 590.5,269 594.5,269 598.5,269 602.5,269 606.5,269 610.5,269 614.5,269 618.5,269 622.5,269 626.5,269 630.5,269 634.5,269 638.5,269 642.5,269 646.5,269 650.5,269 654.5,269 658.5,269 662.5,269 666.5,269 670.5,269 674.5,269 674.5,250.1" fill="#80b9be"/>
<polygon points="398.5,250.1 398.5,250.1 398.8,250.1 398.9,250.1 399.5,250.1 400.5,250.1 401.3,250.1 402.5,250.1 403,250.1 404.8,250.1 406.5,250.1 409.1,250.1 410.5,250.1 413.5,250.1 414.5,250.1 417.9,250.1 418.5,250.1 422.3,250.1 422.5,250.1 426.5,250.1 430.5,250.1 431,250.12 434.5,250.27 438.5,250.43 439.8,250.48 442.5,250.56 446.5,250.66 450,250.76 450.5,250.79 454.5,250.99 458.5,251.19 462.5,251.39 466.5,251.59 467.5,251.64 470.5,251.76 473.4,251.88 474.5,251.93 478.5,252.1 482.5,252.27 486.5,252.44 490.5,252.61 490.9,252.63 494.5,253.08 496.7,253.36 498.5,253.92 502.5,255.16 506,256.25 506.5,256.29 508.4,256.44 510.5,256.61 512,256.73 514.5,256.93 518.5,257.25 520.1,257.38 522.5,257.73 525,258.09 526.5,258.31 530,258.81 530.5,258.88 534.5,259.48 536.7,259.81 538.5,260.1 542.5,260.72 546.5,261.35 548.4,261.65 550.5,262.08 554.5,262.91 558.5,263.73 560,264.04 562.5,264.6 566.5,265.49 569.4,266.13 570.5,266.49 572,266.97 574,267.61 574.5,267.8 577,268.73 578.5,269 582.5,269 586.5,269 590.5,269 594.5,269 598.5,269 602.5,269 606.5,269 610.5,269 614.5,269 618.5,269 622.5,269 626.5,269 630.5,269 634.5,269 638.5,269 642.5,269 646.5,269 650.5,269 654.5,269 658.5,269 662.5,269 666.5,269 670.5,269 674.5,269 674.5,250.1" fill="#82b6cf"/>
<polygon points="398.5,250.1 398.5,250.1 398.8,250.1 398.9,250.1 399.5,250.1 400.5,250.1 401.3,250.1 402.5,250.1 403,250.1 404.8,250.1 406.5,250.1 409.1,250.1 410.5,250.1 413.5,250.1 414.5,250.1 417.9,250.1 418.5,250.1 422.3,250.1 422.5,250.1 426.5,250.1 430.5,250.1 431,250.1 434.5,250.1 438.5,250.1 439.8,250.1 442.5,250.1 446.5,250.1 450,250.1 450.5,250.1 454.5,250.1 458.5,250.29 462.5,250.48 466.5,250.67 467.5,250.72 470.5,250.83 473.4,250.94 474.5,250.98 478.5,251.14 482.5,251.29 486.5,251.45 490.5,251.6 490.9,251.62 494.5,252.09 496.7,252.38 498.5,252.99 502.5,254.34 506,255.52 506.5,255.56 508.4,255.71 510.5,255.88 512,256 514.5,256.2 518.5,256.51 520.1,256.64 522.5,257.01 525,257.39 526.5,257.62 530,258.16 530.5,258.24 534.5,258.86 536.7,259.21 538.5,259.5 542.5,260.16 546.5,260.81 548.4,261.12 550.5,261.58 554.5,262.46 558.5,263.34 560,263.67 562.5,264.25 566.5,265.19 569.4,265.87 570.5,266.25 572,266.76 574,267.46 574.5,267.66 577,268.67 578.5,269 582.5,269 586.5,269 590.5,269 594.5,269 598.5,269 602.5,269 606.5,269 610.5,269 614.5,269 618.5,269 622.5,269 626.5,269 630.5,269 634.5,269 638.5,269 642.5,269 646.5,269 650.5,269 654.5,269 658.5,269 662.5,269 666.5,269 670.5,269 674.5,269 674.5,250.1" fill="#88b7d9"/>
<polygon points="398.5,250.1 398.5,250.1 398.8,250.1 398.9,250.1 399.5,250.1 400.5,250.1 401.3,250.1 402.5,250.1 403,250.1 404.8,250.1 406.5,250.1 409.1,250.1 410.5,250.1 413.5,250.1 414.5,250.1 417.9,250.1 418.5,250.1 422.3,250.1 422.5,250.1 426.5,250.1 430.5,250.1 431,250.1 434.5,250.1 438.5,250.1 439.8,250.1 442.5,250.1 446.5,250.1 450,250.1 450.5,250.1 454.5,250.1 458.5,250.1 462.5,250.1 466.5,250.1 467.5,250.1 470.5,250.1 473.4,250.1 474.5,250.1 478.5,250.18 482.5,250.31 486.5,250.45 490.5,250.59 490.9,250.6 494.5,251.1 496.7,251.4 498.5,252.06 502.5,253.52 506,254.8 506.5,254.84 508.4,254.99 510.5,255.15 512,255.27 514.5,255.46 518.5,255.78 520.1,255.9 522.5,256.29 525,256.7 526.5,256.94 530,257.51 530.5,257.59 534.5,258.24 536.7,258.6 538.5,258.91 542.5,259.59 546.5,260.28 548.4,260.6 550.5,261.09 554.5,262.02 558.5,262.95 560,263.3 562.5,263.91 566.5,264.89 569.4,265.6 570.5,266.01 572,266.56 574,267.3 574.5,267.52 577,268.6 578.5,269 582.5,269 586.5,269 590.5,269 594.5,269 598.5,269 602.5,269 606.5,269 610.5,269 614.5,269 618.5,269 622.5,269 626.5,269 630.5,269 634.5,269 638.5,269 642.5,269 646.5,269 650.5,269 654.5,269 658.5,269 662.5,269 666.5,269 670.5,269 674.5,269 674.5,250.1" fill="#90bddc"/>
<polygon points="398.5,250.1 398.5,250.1 398.8,250.1 398.9,250.1 399.5,250.1 400.5,250.1 401.3,250.1 402.5,250.1 403,250.1 404.8,250.1 406.5,250.1 409.1,250.1 410.5,250.1 413.5,250.1 414.5,250.1 417.9,250.1 418.5,250.1 422.3,250.1 422.5,250.1 426.5,250.1 430.5,250.1 431,250.1 434.5,250.1 438.5,250.1 439.8,250.1 442.5,250.1 446.5,250.1 450,250.1 450.5,250.1 454.5,250.1 458.5,250.1 462.5,250.1 466.5,250.1 467.5,250.1 470.5,250.1 473.4,250.1 474.5,250.1 478.5,250.1 482.5,250.1 486.5,250.1 490.5,250.1 490.9,250.1 494.5,250.1 496.7,250.4 498.5,251.06 502.5,252.52 506,253.8 506.5,253.84 508.4,253.99 510.5,254.15 512,254.27 514.5,254.46 518.5,254.78 520.1,254.9 522.5,255.29 525,255.7 526.5,255.94 530,256.51 530.5,256.59 534.5,257.24 536.7,257.6 538.5,257.91 542.5,258.59 546.5,259.28 548.4,259.6 550.5,260.09 554.5,261.02 558.5,261.95 560,262.3 562.5,262.91 566.5,263.89 569.4,264.6 570.5,265.01 572,265.56 574,266.3 574.5,266.52 577,267.6 578.5,268.25 582.5,269 586.5,269 590.5,269 594.5,269 598.5,269 602.5,269 606.5,269 610.5,269 614.5,269 618.5,269 622.5,269 626.5,269 630.5,269 634.5,269 638.5,269 642.5,269 646.5,269 650.5,269 654.5,269 658.5,269 662.5,269 666.5,269 670.5,269 674.5,269 674.5,250.1" fill="#d9e6f2"/>
<polygon points="398.5,250.1 398.5,250.1 398.8,250.1 398.9,250.1 399.5,250.1 400.5,250.1 401.3,250.1 402.5,250.1 403,250.1 404.8,250.1 406.5,250.1 409.1,250.1 410.5,250.1 413.5,250.1 414.5,250.1 417.9,250.1 418.5,250.1 422.3,250.1 422.5,250.1 426.5,250.1 430.5,250.1 431,250.1 434.5,250.1 438.5,250.1 439.8,250.1 442.5,250.1 446.5,250.1 450,250.1 450.5,250.1 454.5,250.1 458.5,250.1 462.5,250.1 466.5,250.1 467.5,250.1 470.5,250.1 473.4,250.1 474.5,250.1 478.5,250.1 482.5,250.1 486.5,250.1 490.5,250.1 490.9,250.1 494.5,250.1 496.7,250.1 498.5,250.1 502.5,251.32 506,252.6 506.5,252.64 508.4,252.79 510.5,252.95 512,253.07 514.5,253.26 518.5,253.58 520.1,253.7 522.5,254.09 525,254.5 526.5,254.74 530,255.31 530.5,255.39 534.5,256.04 536.7,256.4 538.5,256.71 542.5,257.39 546.5,258.08 548.4,258.4 550.5,258.89 554.5,259.82 558.5,260.75 560,261.1 562.5,261.71 566.5,262.69 569.4,263.4 570.5,263.81 572,264.36 574,265.1 574.5,265.32 577,266.4 578.5,267.05 582.5,268.78 586.5,269 590.5,269 594.5,269 598.5,269 602.5,269 606.5,269 610.5,269 614.5,269 618.5,269 622.5,269 626.5,269 630.5,269 634.5,269 638.5,269 642.5,269 646.5,269 650.5,269 654.5,269 658.5,269 662.5,269 666.5,269 670.5,269 674.5,269 674.5,250.1" fill="#eef3f8"/>
<polygon points="398.5,250.1 398.5,250.1 398.8,250.1 398.9,250.1 399.5,250.1 400.5,250.1 401.3,250.1 402.5,250.1 403,250.1 404.8,250.1 406.5,250.1 409.1,250.1 410.5,250.1 413.5,250.1 414.5,250.1 417.9,250.1 418.5,250.1 422.3,250.1 422.5,250.1 426.5,250.1 430.5,250.1 431,250.1 434.5,250.1 438.5,250.1 439.8,250.1 442.5,250.1 446.5,250.1 450,250.1 450.5,250.1 454.5,250.1 458.5,250.1 462.5,250.1 466.5,250.1 467.5,250.1 470.5,250.1 473.4,250.1 474.5,250.1 478.5,250.1 482.5,250.1 486.5,250.1 490.5,250.1 490.9,250.1 494.5,250.1 496.7,250.1 498.5,250.1 502.5,250.12 506,251.4 506.5,251.44 508.4,251.59 510.5,251.75 512,251.87 514.5,252.06 518.5,252.38 520.1,252.5 522.5,252.89 525,253.3 526.5,253.54 530,254.11 530.5,254.19 534.5,254.84 536.7,255.2 538.5,255.51 542.5,256.19 546.5,256.88 548.4,257.2 550.5,257.69 554.5,258.62 558.5,259.55 560,259.9 562.5,260.51 566.5,261.49 569.4,262.2 570.5,262.61 572,263.16 574,263.9 574.5,264.12 577,265.2 578.5,265.85 582.5,267.58 586.5,269 590.5,269 594.5,269 598.5,269 602.5,269 606.5,269 610.5,269 614.5,269 618.5,269 622.5,269 626.5,269 630.5,269 634.5,269 638.5,269 642.5,269 646.5,269 650.5,269 654.5,269 658.5,269 662.5,269 666.5,269 670.5,269 674.5,269 674.5,250.1" fill="#f9f9f9"/>
</g>
<polyline points="490.5,250.59 490.9,250.6 494.5,251.1 496.7,251.4 498.5,252.06 502.5,253.52 506,254.8 506.5,254.84 508.4,254.99 510.5,255.15 512,255.27 514.5,255.46 518.5,255.78 520.1,255.9 522.5,256.29 525,256.7 526.5,256.94 530,257.51 530.5,257.59 534.5,258.24 536.7,258.6 538.5,258.91 542.5,259.59 546.5,260.28 548.4,260.6 550.5,261.09 554.5,262.02 558.5,262.95 560,263.3 562.5,263.91 566.5,264.89 569.4,265.6 570.5,266.01 572,266.56 574,267.3 574.5,267.52 577,268.6 578.5,269.25 582.5,270.98" fill="none" stroke="#1a1a1a" stroke-width="0.9"/>
<polyline points="401.3,250.8 402.5,251.25 403,251.43 404.8,252.1 406.5,252.41 409.1,252.89 410.5,253.15 413.5,253.7 414.5,253.82 417.9,254.25 418.5,254.32 422.3,254.8 422.5,254.83 426.5,255.43 430.5,256.03 431,256.1 434.5,256.54 438.5,257.04 439.8,257.2 442.5,257.36 446.5,257.59 450,257.8 450.5,257.83 454.5,258.11 458.5,258.38 462.5,258.65 466.5,258.93 467.5,259 470.5,259.2 473.4,259.4 474.5,259.48 478.5,259.79 482.5,260.1 486.5,260.41 490.5,260.72 490.9,260.75 494.5,261.03 496.7,261.2 498.5,261.36 502.5,261.72 506,262.03 506.5,262.08 508.4,262.25 510.5,262.44 512,262.57 514.5,262.8 518.5,263.16 520.1,263.3 522.5,263.47 525,263.65 526.5,263.75 530,264 530.5,264.05 534.5,264.45 536.7,264.67 538.5,264.85 542.5,265.25 546.5,265.65 548.4,265.84 550.5,266.05 554.5,266.45 558.5,266.85 560,267 562.5,267.33 566.5,267.87 569.4,268.25 570.5,268.4 572,268.6 574,268.87 574.5,268.93 577,269.27 578.5,269.47 582.5,270 586.5,270.53" fill="none" stroke="#1a1a1a" stroke-width="0.9"/>
<polyline points="398.9,251.3 399.5,253.4 400.5,253.91 401.3,254.33 402.5,254.94 403,255.2 404.8,255.52 406.5,255.83 409.1,256.3 410.5,256.62 413.5,257.3 414.5,257.53 417.9,258.3 418.5,258.48 422.3,259.6 422.5,259.61 426.5,259.89 430.5,260.17 431,260.2 434.5,260.4 438.5,260.63 439.8,260.7 442.5,260.83 446.5,261.03 450,261.2 450.5,261.24 454.5,261.53 458.5,261.82 462.5,262.11 466.5,262.4 467.5,262.47 470.5,262.69 473.4,262.9 474.5,263.04 478.5,263.56 482.5,264.07 486.5,264.59 490.5,265.1 490.9,265.15 494.5,265.62 496.7,265.9 498.5,266.16 502.5,266.74 506,267.25 506.5,267.32 508.4,267.6 510.5,268.18 512,268.6 514.5,269.29 518.5,270.41 520.1,270.85" fill="none" stroke="#1a1a1a" stroke-width="0.9"/>
<polygon points="400.8,250 401.3,248.3 405,247.9 407.3,246.4 411.4,245.8 417.2,245.2 428,244.8 438.34,244.6 453.27,243.6 473.19,241.8 488.12,240.8 503.06,239.6 513.02,239 532.93,238.2 552.84,237.5 567.78,237.1 582.72,236.5 602.63,235.8 617.07,235.3 628.52,234.7 643.45,233.6 658.39,232.6 671.63,231.8 671.5,250.1 400.8,250.1" fill="#fff6db"/>
<polygon points="370.6,249.5 400.8,249.5 401.1,250.5 400.3,251.7 370.6,251.7" fill="#0d1117"/>
<polyline points="400.8,250.3 401.3,248.6 405,248.2 407.3,246.7 411.4,246.1 417.2,245.5 428,245.1 438.34,244.9 453.27,243.9 473.19,242.1 488.12,241.1 503.06,239.9 513.02,239.3 532.93,238.5 552.84,237.8 567.78,237.4 582.72,236.8 602.63,236.1 617.07,235.6 628.52,235 643.45,233.9 658.39,232.9 671.63,232.1" fill="none" stroke="#111" stroke-width="1.4"/>
<line x1="400.8" y1="250.5" x2="671.5" y2="250.5" stroke="#111" stroke-width="1.1"/>
<line x1="418.72" y1="244.9" x2="418.72" y2="251.6" stroke="#111" stroke-width="1.35"/>
<line x1="463.63" y1="242.6" x2="463.63" y2="259.1" stroke="#111" stroke-width="1.35"/>
<line x1="515.01" y1="239.3" x2="515.01" y2="260.6" stroke="#111" stroke-width="1.35"/>
<line x1="617.17" y1="234.3" x2="617.17" y2="268" stroke="#111" stroke-width="1.35"/>
<polygon points="642.5,258.6 652.9,253.6 652.9,256.5 672,256.5 672,260.6 652.9,260.6 652.9,263.8" fill="#0a6cc4"/>
</g>
<text transform="translate(418.72,242.8) scale(0.92,1)" text-anchor="middle" style="font-size:10.8px;">SIM 2</text>
<text transform="translate(463.63,240.1) scale(0.92,1)" text-anchor="middle" style="font-size:10.8px;">SIM 1</text>
<text transform="translate(515.01,237) scale(0.92,1)" text-anchor="middle" style="font-size:10.8px;">SIM 3</text>
<text transform="translate(617.17,232.9) scale(0.92,1)" text-anchor="middle" style="font-size:10.8px;">SIM 6</text>
<text transform="translate(666,247.6) scale(0.92,1)" text-anchor="end" style="font-size:10.8px;fill:#1b5a9c;stroke:#1b5a9c;stroke-width:0.15px">1 ML/yr</text>
<text transform="translate(376.1,232.7) scale(0.9,1)" style="font-size:10.4px;">J</text>
<rect x="370.6" y="220" width="300.9" height="48" fill="none" stroke="#777" stroke-width="1"/>
<line x1="376.94" y1="268" x2="376.94" y2="266.4" stroke="#333" stroke-width="0.8"/>
<line x1="388.97" y1="268" x2="388.97" y2="266.4" stroke="#333" stroke-width="0.8"/>
<line x1="401" y1="268" x2="401" y2="265" stroke="#333" stroke-width="0.8"/>
<line x1="413.03" y1="268" x2="413.03" y2="266.4" stroke="#333" stroke-width="0.8"/>
<line x1="425.06" y1="268" x2="425.06" y2="266.4" stroke="#333" stroke-width="0.8"/>
<line x1="437.08" y1="268" x2="437.08" y2="266.4" stroke="#333" stroke-width="0.8"/>
<line x1="449.11" y1="268" x2="449.11" y2="266.4" stroke="#333" stroke-width="0.8"/>
<line x1="461.14" y1="268" x2="461.14" y2="265" stroke="#333" stroke-width="0.8"/>
<line x1="473.17" y1="268" x2="473.17" y2="266.4" stroke="#333" stroke-width="0.8"/>
<line x1="485.2" y1="268" x2="485.2" y2="266.4" stroke="#333" stroke-width="0.8"/>
<line x1="497.22" y1="268" x2="497.22" y2="266.4" stroke="#333" stroke-width="0.8"/>
<line x1="509.25" y1="268" x2="509.25" y2="266.4" stroke="#333" stroke-width="0.8"/>
<line x1="521.28" y1="268" x2="521.28" y2="265" stroke="#333" stroke-width="0.8"/>
<line x1="533.31" y1="268" x2="533.31" y2="266.4" stroke="#333" stroke-width="0.8"/>
<line x1="545.34" y1="268" x2="545.34" y2="266.4" stroke="#333" stroke-width="0.8"/>
<line x1="557.36" y1="268" x2="557.36" y2="266.4" stroke="#333" stroke-width="0.8"/>
<line x1="569.39" y1="268" x2="569.39" y2="266.4" stroke="#333" stroke-width="0.8"/>
<line x1="581.42" y1="268" x2="581.42" y2="265" stroke="#333" stroke-width="0.8"/>
<line x1="593.45" y1="268" x2="593.45" y2="266.4" stroke="#333" stroke-width="0.8"/>
<line x1="605.48" y1="268" x2="605.48" y2="266.4" stroke="#333" stroke-width="0.8"/>
<line x1="617.51" y1="268" x2="617.51" y2="266.4" stroke="#333" stroke-width="0.8"/>
<line x1="629.53" y1="268" x2="629.53" y2="266.4" stroke="#333" stroke-width="0.8"/>
<line x1="641.56" y1="268" x2="641.56" y2="265" stroke="#333" stroke-width="0.8"/>
<line x1="653.59" y1="268" x2="653.59" y2="266.4" stroke="#333" stroke-width="0.8"/>
<line x1="665.62" y1="268" x2="665.62" y2="266.4" stroke="#333" stroke-width="0.8"/>
<line x1="370.6" y1="235" x2="372.2" y2="235" stroke="#333" stroke-width="0.8"/>
<line x1="370.6" y1="265" x2="372.2" y2="265" stroke="#333" stroke-width="0.8"/>
<text transform="translate(367.7,223.8) scale(0.9,1)" text-anchor="end" style="font-size:10.8px;">50</text>
<text transform="translate(367.7,253.9) scale(0.9,1)" text-anchor="end" style="font-size:10.8px;">0</text>
<clipPath id="cE"><rect x="37.7" y="280.2" width="301.7" height="48"/></clipPath>
<g clip-path="url(#cE)">
<rect x="37.7" y="280.2" width="301.7" height="48" fill="#fff"/>
<clipPath id="fc4"><rect x="30" y="309.9" width="320" height="18.3"/></clipPath>
<g clip-path="url(#fc4)"><g filter="url(#ff4)">
<rect x="26.8" y="306.9" width="322.6" height="24.3" fill="rgb(148,148,148)"/>
<ellipse cx="75" cy="321" rx="38" ry="1.5" fill="rgb(110,110,110)"/>
<ellipse cx="182.5" cy="312" rx="10.5" ry="1.5" fill="rgb(110,110,110)"/>
<ellipse cx="248" cy="312" rx="15" ry="1.5" fill="rgb(115,115,115)"/>
<ellipse cx="310" cy="313" rx="33" ry="1.5" fill="rgb(115,115,115)"/>
<ellipse cx="267.5" cy="326" rx="20.5" ry="2" fill="rgb(110,110,110)"/>
<ellipse cx="49" cy="313.5" rx="16" ry="2" fill="rgb(196,196,196)"/>
<ellipse cx="82.5" cy="315" rx="25.5" ry="2.5" fill="rgb(204,204,204)"/>
<ellipse cx="90" cy="315" rx="13" ry="2" fill="rgb(214,214,214)"/>
<ellipse cx="120" cy="320" rx="13" ry="1.5" fill="rgb(184,184,184)"/>
<ellipse cx="100" cy="324" rx="8" ry="1.5" fill="rgb(184,184,184)"/>
<ellipse cx="205" cy="313" rx="13" ry="1.5" fill="rgb(184,184,184)"/>
<ellipse cx="162.5" cy="317" rx="25.5" ry="2" fill="rgb(204,204,204)"/>
<ellipse cx="170" cy="323" rx="13" ry="2" fill="rgb(214,214,214)"/>
<ellipse cx="232.5" cy="316" rx="10.5" ry="1.5" fill="rgb(184,184,184)"/>
<ellipse cx="207.5" cy="326" rx="10.5" ry="1.5" fill="rgb(184,184,184)"/>
<ellipse cx="267.5" cy="315" rx="20.5" ry="2" fill="rgb(204,204,204)"/>
<ellipse cx="297.5" cy="318.5" rx="15.5" ry="2" fill="rgb(214,214,214)"/>
<ellipse cx="315" cy="321" rx="8" ry="1.5" fill="rgb(184,184,184)"/>
<ellipse cx="335" cy="314" rx="8" ry="1.5" fill="rgb(184,184,184)"/>
</g></g>
<polygon points="66.4,309.8 67.2,308.5 68.2,307.7 71.7,307.7 74.3,306.2 78.4,305.6 90,305.4 105,304.8 120,303.8 140,302 155,301 170,299.8 180,299.2 200,298.4 220,297.7 235,297.3 250,296.7 270,296 284.5,295.5 296,294.9 311,293.8 326,292.8 339.3,292 339.4,309.9 66.4,309.9" fill="#fff6db"/>
<polygon points="37.7,309.6 66.4,309.6 66.8,310.6 66.7,310.8 62,311.6 55,312.1 37.7,312.1" fill="#0d1117"/>
<polyline points="66.4,310.1 67.2,308.8 68.2,308 71.7,308 74.3,306.5 78.4,305.9 90,305.7 105,305.1 120,304.1 140,302.3 155,301.3 170,300.1 180,299.5 200,298.7 220,298 235,297.6 250,297 270,296.3 284.5,295.8 296,295.2 311,294.1 326,293.1 339.3,292.3" fill="none" stroke="#111" stroke-width="1.4"/>
<line x1="66.4" y1="309.5" x2="339.4" y2="309.5" stroke="#111" stroke-width="1.1"/>
<line x1="85.3" y1="305.1" x2="85.3" y2="311.8" stroke="#111" stroke-width="1.35"/>
<line x1="130.4" y1="302.8" x2="130.4" y2="319.3" stroke="#111" stroke-width="1.35"/>
<line x1="182" y1="299.5" x2="182" y2="320.8" stroke="#111" stroke-width="1.35"/>
<line x1="284.6" y1="294.5" x2="284.6" y2="328.2" stroke="#111" stroke-width="1.35"/>
</g>
<text transform="translate(85.3,303) scale(0.92,1)" text-anchor="middle" style="font-size:10.8px;">SIM 2</text>
<text transform="translate(130.4,300.3) scale(0.92,1)" text-anchor="middle" style="font-size:10.8px;">SIM 1</text>
<text transform="translate(182,297.2) scale(0.92,1)" text-anchor="middle" style="font-size:10.8px;">SIM 3</text>
<text transform="translate(284.6,293.1) scale(0.92,1)" text-anchor="middle" style="font-size:10.8px;">SIM 6</text>
<text transform="translate(43.7,293.2) scale(0.9,1)" style="font-size:10.4px;">E</text>
<rect x="37.7" y="280.2" width="301.7" height="48" fill="none" stroke="#777" stroke-width="1"/>
<line x1="43.34" y1="328.2" x2="43.34" y2="326.6" stroke="#333" stroke-width="0.8"/>
<line x1="55.42" y1="328.2" x2="55.42" y2="326.6" stroke="#333" stroke-width="0.8"/>
<line x1="67.5" y1="328.2" x2="67.5" y2="325.2" stroke="#333" stroke-width="0.8"/>
<line x1="79.58" y1="328.2" x2="79.58" y2="326.6" stroke="#333" stroke-width="0.8"/>
<line x1="91.66" y1="328.2" x2="91.66" y2="326.6" stroke="#333" stroke-width="0.8"/>
<line x1="103.74" y1="328.2" x2="103.74" y2="326.6" stroke="#333" stroke-width="0.8"/>
<line x1="115.82" y1="328.2" x2="115.82" y2="326.6" stroke="#333" stroke-width="0.8"/>
<line x1="127.9" y1="328.2" x2="127.9" y2="325.2" stroke="#333" stroke-width="0.8"/>
<line x1="139.98" y1="328.2" x2="139.98" y2="326.6" stroke="#333" stroke-width="0.8"/>
<line x1="152.06" y1="328.2" x2="152.06" y2="326.6" stroke="#333" stroke-width="0.8"/>
<line x1="164.14" y1="328.2" x2="164.14" y2="326.6" stroke="#333" stroke-width="0.8"/>
<line x1="176.22" y1="328.2" x2="176.22" y2="326.6" stroke="#333" stroke-width="0.8"/>
<line x1="188.3" y1="328.2" x2="188.3" y2="325.2" stroke="#333" stroke-width="0.8"/>
<line x1="200.38" y1="328.2" x2="200.38" y2="326.6" stroke="#333" stroke-width="0.8"/>
<line x1="212.46" y1="328.2" x2="212.46" y2="326.6" stroke="#333" stroke-width="0.8"/>
<line x1="224.54" y1="328.2" x2="224.54" y2="326.6" stroke="#333" stroke-width="0.8"/>
<line x1="236.62" y1="328.2" x2="236.62" y2="326.6" stroke="#333" stroke-width="0.8"/>
<line x1="248.7" y1="328.2" x2="248.7" y2="325.2" stroke="#333" stroke-width="0.8"/>
<line x1="260.78" y1="328.2" x2="260.78" y2="326.6" stroke="#333" stroke-width="0.8"/>
<line x1="272.86" y1="328.2" x2="272.86" y2="326.6" stroke="#333" stroke-width="0.8"/>
<line x1="284.94" y1="328.2" x2="284.94" y2="326.6" stroke="#333" stroke-width="0.8"/>
<line x1="297.02" y1="328.2" x2="297.02" y2="326.6" stroke="#333" stroke-width="0.8"/>
<line x1="309.1" y1="328.2" x2="309.1" y2="325.2" stroke="#333" stroke-width="0.8"/>
<line x1="321.18" y1="328.2" x2="321.18" y2="326.6" stroke="#333" stroke-width="0.8"/>
<line x1="333.26" y1="328.2" x2="333.26" y2="326.6" stroke="#333" stroke-width="0.8"/>
<line x1="37.7" y1="295.2" x2="39.3" y2="295.2" stroke="#333" stroke-width="0.8"/>
<line x1="37.7" y1="325.2" x2="39.3" y2="325.2" stroke="#333" stroke-width="0.8"/>
<text transform="translate(34.8,284) scale(0.9,1)" text-anchor="end" style="font-size:10.8px;">50</text>
<text transform="translate(34.8,313.7) scale(0.9,1)" text-anchor="end" style="font-size:10.8px;">0</text>
<clipPath id="cK"><rect x="370.6" y="280" width="300.9" height="48"/></clipPath>
<g clip-path="url(#cK)">
<rect x="370.6" y="280" width="300.9" height="48" fill="#fff"/>
<rect x="370.6" y="310.1" width="300.9" height="17.9" fill="#fd3d3d"/>
<g filter="url(#soft)">
<polygon points="398.5,310.1 398.5,310.1 398.8,310.1 399.1,311.3 399.5,313.4 400.5,313.8 401.3,314.12 402.5,314.6 403,314.8 404.8,315.45 406.5,316.06 409.1,317 410.5,317.67 413.5,319.1 414.5,319.3 417.9,320 418.5,320.01 422.3,320.1 422.5,320.11 426.5,320.2 426.6,320.2 430.5,320.29 431,320.3 434.5,320.38 435.4,320.4 438.5,320.72 439.8,320.85 442.5,321.13 444.2,321.3 446.5,321.7 450,322.3 450.5,322.35 454.5,322.76 458.5,323.17 461.7,323.5 462.5,323.62 465.2,324.04 466.5,324.24 470.5,324.85 473.4,325.3 474.5,325.46 478.5,326.05 482.5,326.63 485,327 486.5,327.18 490.5,327.65 490.9,327.7 494,328.6 494.5,328.75 496.7,329 498.5,329 502.5,329 506.5,329 508.4,329 510.5,329 514.5,329 517.8,329 518.5,329 520.1,329 522.5,329 525,329 526.5,329 530,329 530.5,329 534.5,329 538.1,329 538.5,329 542.5,329 544.7,329 546.5,329 550.5,329 551.3,329 554.5,329 558.5,329 562.5,329 564.4,329 566.5,329 570.5,329 574.5,329 577.6,329 578.5,329 582.5,329 584,329 586.5,329 588.1,329 590.5,329 594.5,329 596,329 598.5,329 599.2,329 600,329 601,329 602.5,329 606.5,329 610.5,329 614.5,329 618.5,329 622.5,329 626.5,329 630.5,329 634.5,329 638.5,329 642.5,329 646.5,329 650.5,329 654.5,329 658.5,329 662.5,329 666.5,329 670.5,329 674.5,329 674.5,310.1" fill="#fe3f3c"/>
<polygon points="398.5,310.1 398.5,310.1 398.8,310.1 399.1,310.96 399.5,312.54 400.5,312.85 401.3,313.29 402.5,313.7 403,313.87 404.8,314.44 406.5,314.94 409.1,315.71 410.5,316.25 413.5,317.4 414.5,317.58 417.9,318.21 418.5,318.24 422.3,318.43 422.5,318.44 426.5,318.72 426.6,318.72 430.5,318.99 431,319.02 434.5,319.21 435.4,319.26 438.5,319.61 439.8,319.76 442.5,320.07 444.2,320.26 446.5,320.64 450,321.23 450.5,321.27 454.5,321.66 458.5,322.04 461.7,322.35 462.5,322.46 465.2,322.82 466.5,323 470.5,323.53 473.4,323.93 474.5,324.06 478.5,324.57 482.5,325.08 485,325.4 486.5,325.56 490.5,325.98 490.9,326.03 494,326.75 494.5,326.87 496.7,327.39 498.5,327.82 502.5,328.77 506.5,329 508.4,329 510.5,329 514.5,329 517.8,329 518.5,329 520.1,329 522.5,329 525,329 526.5,329 530,329 530.5,329 534.5,329 538.1,329 538.5,329 542.5,329 544.7,329 546.5,329 550.5,329 551.3,329 554.5,329 558.5,329 562.5,329 564.4,329 566.5,329 570.5,329 574.5,329 577.6,329 578.5,329 582.5,329 584,329 586.5,329 588.1,329 590.5,329 594.5,329 596,329 598.5,329 599.2,329 600,329 601,329 602.5,329 606.5,329 610.5,329 614.5,329 618.5,329 622.5,329 626.5,329 630.5,329 634.5,329 638.5,329 642.5,329 646.5,329 650.5,329 654.5,329 658.5,329 662.5,329 666.5,329 670.5,329 674.5,329 674.5,310.1" fill="#fc533c"/>
<polygon points="398.5,310.1 398.5,310.1 398.8,310.1 399.1,310.62 399.5,311.67 400.5,311.9 401.3,312.46 402.5,312.8 403,312.95 404.8,313.42 406.5,313.82 409.1,314.42 410.5,314.83 413.5,315.7 414.5,315.86 417.9,316.43 418.5,316.47 422.3,316.75 422.5,316.77 426.5,317.23 426.6,317.24 430.5,317.69 431,317.75 434.5,318.05 435.4,318.12 438.5,318.51 439.8,318.68 442.5,319.01 444.2,319.22 446.5,319.59 450,320.15 450.5,320.19 454.5,320.55 458.5,320.91 461.7,321.2 462.5,321.29 465.2,321.6 466.5,321.75 470.5,322.22 473.4,322.55 474.5,322.67 478.5,323.1 482.5,323.53 485,323.8 486.5,323.94 490.5,324.31 490.9,324.35 494,324.91 494.5,325 496.7,325.39 498.5,325.73 502.5,326.47 506.5,327.21 508.4,327.57 510.5,327.96 514.5,328.7 517.8,329 518.5,329 520.1,329 522.5,329 525,329 526.5,329 530,329 530.5,329 534.5,329 538.1,329 538.5,329 542.5,329 544.7,329 546.5,329 550.5,329 551.3,329 554.5,329 558.5,329 562.5,329 564.4,329 566.5,329 570.5,329 574.5,329 577.6,329 578.5,329 582.5,329 584,329 586.5,329 588.1,329 590.5,329 594.5,329 596,329 598.5,329 599.2,329 600,329 601,329 602.5,329 606.5,329 610.5,329 614.5,329 618.5,329 622.5,329 626.5,329 630.5,329 634.5,329 638.5,329 642.5,329 646.5,329 650.5,329 654.5,329 658.5,329 662.5,329 666.5,329 670.5,329 674.5,329 674.5,310.1" fill="#fa6d3b"/>
<polygon points="398.5,310.1 398.5,310.1 398.8,310.1 399.1,310.27 399.5,310.81 400.5,310.95 401.3,311.63 402.5,311.9 403,312.02 404.8,312.41 406.5,312.7 409.1,313.13 410.5,313.41 413.5,314 414.5,314.14 417.9,314.64 418.5,314.7 422.3,315.08 422.5,315.11 426.5,315.75 426.6,315.77 430.5,316.39 431,316.48 434.5,316.88 435.4,316.99 438.5,317.41 439.8,317.59 442.5,317.95 444.2,318.19 446.5,318.54 450,319.07 450.5,319.12 454.5,319.45 458.5,319.78 461.7,320.05 462.5,320.13 465.2,320.39 466.5,320.51 470.5,320.9 473.4,321.18 474.5,321.27 478.5,321.62 482.5,321.98 485,322.2 486.5,322.32 490.5,322.64 490.9,322.68 494,323.06 494.5,323.12 496.7,323.4 498.5,323.64 502.5,324.17 506.5,324.7 508.4,324.96 510.5,325.24 514.5,325.77 517.8,326.21 518.5,326.31 520.1,326.52 522.5,326.75 525,326.99 526.5,327.13 530,327.46 530.5,327.52 534.5,328 538.1,328.42 538.5,328.47 542.5,328.94 544.7,329 546.5,329 550.5,329 551.3,329 554.5,329 558.5,329 562.5,329 564.4,329 566.5,329 570.5,329 574.5,329 577.6,329 578.5,329 582.5,329 584,329 586.5,329 588.1,329 590.5,329 594.5,329 596,329 598.5,329 599.2,329 600,329 601,329 602.5,329 606.5,329 610.5,329 614.5,329 618.5,329 622.5,329 626.5,329 630.5,329 634.5,329 638.5,329 642.5,329 646.5,329 650.5,329 654.5,329 658.5,329 662.5,329 666.5,329 670.5,329 674.5,329 674.5,310.1" fill="#fa8839"/>
<polygon points="398.5,310.1 398.5,310.1 398.8,310.1 399.1,310.1 399.5,310.1 400.5,310.1 401.3,310.8 402.5,311.01 403,311.09 404.8,311.4 406.5,311.58 409.1,311.84 410.5,311.99 413.5,312.3 414.5,312.43 417.9,312.85 418.5,312.93 422.3,313.4 422.5,313.44 426.5,314.27 426.6,314.29 430.5,315.1 431,315.2 434.5,315.72 435.4,315.85 438.5,316.31 439.8,316.5 442.5,316.9 444.2,317.15 446.5,317.49 450,318 450.5,318.04 454.5,318.35 458.5,318.65 461.7,318.9 462.5,318.96 465.2,319.17 466.5,319.27 470.5,319.58 473.4,319.8 474.5,319.88 478.5,320.15 482.5,320.42 485,320.6 486.5,320.7 490.5,320.97 490.9,321 494,321.21 494.5,321.25 496.7,321.4 498.5,321.55 502.5,321.87 506.5,322.2 508.4,322.35 510.5,322.52 514.5,322.85 517.8,323.11 518.5,323.17 520.1,323.3 522.5,323.37 525,323.45 526.5,323.49 530,323.6 530.5,323.63 534.5,323.87 538.1,324.09 538.5,324.12 542.5,324.36 544.7,324.5 546.5,324.61 550.5,324.85 551.3,324.9 554.5,325.1 558.5,325.34 562.5,325.58 564.4,325.7 566.5,325.82 570.5,326.04 574.5,326.27 577.6,326.44 578.5,326.49 582.5,326.72 584,326.8 586.5,327.08 588.1,327.26 590.5,327.53 594.5,327.98 596,328.15 598.5,328.43 599.2,328.51 600,328.6 601,328.71 602.5,328.88 606.5,329 610.5,329 614.5,329 618.5,329 622.5,329 626.5,329 630.5,329 634.5,329 638.5,329 642.5,329 646.5,329 650.5,329 654.5,329 658.5,329 662.5,329 666.5,329 670.5,329 674.5,329 674.5,310.1" fill="#fc9e38"/>
<polygon points="398.5,310.1 398.5,310.1 398.8,310.1 399.1,310.1 399.5,310.1 400.5,310.1 401.3,310.8 402.5,311.01 403,311.09 404.8,311.4 406.5,311.58 409.1,311.84 410.5,311.99 413.5,312.3 414.5,312.43 417.9,312.85 418.5,312.93 422.3,313.4 422.5,313.44 426.5,314.27 426.6,314.29 430.5,315.1 431,315.2 434.5,315.72 435.4,315.85 438.5,316.31 439.8,316.5 442.5,316.9 444.2,317.15 446.5,317.49 450,318 450.5,318.04 454.5,318.35 458.5,318.65 461.7,318.9 462.5,318.96 465.2,319.17 466.5,319.27 470.5,319.58 473.4,319.8 474.5,319.88 478.5,320.15 482.5,320.42 485,320.6 486.5,320.7 490.5,320.97 490.9,321 494,321.21 494.5,321.25 496.7,321.4 498.5,321.55 502.5,321.87 506.5,322.2 508.4,322.35 510.5,322.52 514.5,322.85 517.8,323.11 518.5,323.17 520.1,323.3 522.5,323.37 525,323.45 526.5,323.49 530,323.6 530.5,323.63 534.5,323.87 538.1,324.09 538.5,324.12 542.5,324.36 544.7,324.5 546.5,324.61 550.5,324.85 551.3,324.9 554.5,325.1 558.5,325.34 562.5,325.58 564.4,325.7 566.5,325.82 570.5,326.04 574.5,326.27 577.6,326.44 578.5,326.49 582.5,326.72 584,326.8 586.5,327.08 588.1,327.26 590.5,327.53 594.5,327.98 596,328.15 598.5,328.43 599.2,328.51 600,328.6 601,328.71 602.5,328.88 606.5,329 610.5,329 614.5,329 618.5,329 622.5,329 626.5,329 630.5,329 634.5,329 638.5,329 642.5,329 646.5,329 650.5,329 654.5,329 658.5,329 662.5,329 666.5,329 670.5,329 674.5,329 674.5,310.1" fill="#fc9e38"/>
<polygon points="398.5,310.1 398.5,310.1 398.8,310.1 399.1,310.1 399.5,310.1 400.5,310.1 401.3,310.53 402.5,310.72 403,310.79 404.8,311.08 406.5,311.24 409.1,311.49 410.5,311.62 413.5,311.91 414.5,312.02 417.9,312.41 418.5,312.48 422.3,312.92 422.5,312.96 426.5,313.71 426.6,313.73 430.5,314.47 431,314.56 434.5,315.04 435.4,315.16 438.5,315.58 439.8,315.75 442.5,316.12 444.2,316.35 446.5,316.66 450,317.13 450.5,317.17 454.5,317.47 458.5,317.78 461.7,318.02 462.5,318.09 465.2,318.29 466.5,318.4 470.5,318.74 473.4,318.98 474.5,319.06 478.5,319.35 482.5,319.64 485,319.82 486.5,319.94 490.5,320.25 490.9,320.28 494,320.53 494.5,320.57 496.7,320.74 498.5,320.9 502.5,321.25 506.5,321.6 508.4,321.77 510.5,321.95 514.5,322.29 517.8,322.57 518.5,322.62 520.1,322.74 522.5,322.8 525,322.86 526.5,322.89 530,322.95 530.5,322.97 534.5,323.15 538.1,323.31 538.5,323.33 542.5,323.61 544.7,323.77 546.5,323.92 550.5,324.25 551.3,324.32 554.5,324.54 558.5,324.83 562.5,325.11 564.4,325.24 566.5,325.37 570.5,325.61 574.5,325.85 577.6,326.04 578.5,326.1 582.5,326.38 584,326.48 586.5,326.78 588.1,326.98 590.5,327.28 594.5,327.79 596,327.97 598.5,328.3 599.2,328.39 600,328.53 601,328.7 602.5,328.96 606.5,329 610.5,329 614.5,329 618.5,329 622.5,329 626.5,329 630.5,329 634.5,329 638.5,329 642.5,329 646.5,329 650.5,329 654.5,329 658.5,329 662.5,329 666.5,329 670.5,329 674.5,329 674.5,310.1" fill="#f5c43e"/>
<polygon points="398.5,310.1 398.5,310.1 398.8,310.1 399.1,310.1 399.5,310.1 400.5,310.1 401.3,310.25 402.5,310.42 403,310.5 404.8,310.75 406.5,310.9 409.1,311.13 410.5,311.25 413.5,311.52 414.5,311.62 417.9,311.98 418.5,312.04 422.3,312.44 422.5,312.47 426.5,313.16 426.6,313.17 430.5,313.84 431,313.92 434.5,314.36 435.4,314.47 438.5,314.85 439.8,315.01 442.5,315.34 444.2,315.55 446.5,315.83 450,316.26 450.5,316.3 454.5,316.6 458.5,316.91 461.7,317.15 462.5,317.21 465.2,317.42 466.5,317.53 470.5,317.9 473.4,318.16 474.5,318.24 478.5,318.55 482.5,318.85 485,319.04 486.5,319.17 490.5,319.53 490.9,319.56 494,319.84 494.5,319.88 496.7,320.08 498.5,320.25 502.5,320.63 506.5,321 508.4,321.18 510.5,321.37 514.5,321.73 517.8,322.03 518.5,322.07 520.1,322.17 522.5,322.23 525,322.28 526.5,322.28 530,322.29 530.5,322.31 534.5,322.42 538.1,322.52 538.5,322.55 542.5,322.86 544.7,323.04 546.5,323.23 550.5,323.66 551.3,323.74 554.5,323.99 558.5,324.31 562.5,324.63 564.4,324.78 566.5,324.92 570.5,325.17 574.5,325.43 577.6,325.63 578.5,325.71 582.5,326.04 584,326.16 586.5,326.48 588.1,326.69 590.5,327.03 594.5,327.59 596,327.8 598.5,328.17 599.2,328.27 600,328.46 601,328.69 602.5,329 606.5,329 610.5,329 614.5,329 618.5,329 622.5,329 626.5,329 630.5,329 634.5,329 638.5,329 642.5,329 646.5,329 650.5,329 654.5,329 658.5,329 662.5,329 666.5,329 670.5,329 674.5,329 674.5,310.1" fill="#cac659"/>
<polygon points="398.5,310.1 398.5,310.1 398.8,310.1 399.1,310.1 399.5,310.1 400.5,310.1 401.3,310.1 402.5,310.13 403,310.2 404.8,310.43 406.5,310.56 409.1,310.77 410.5,310.88 413.5,311.12 414.5,311.22 417.9,311.54 418.5,311.6 422.3,311.96 422.5,311.99 426.5,312.6 426.6,312.62 430.5,313.21 431,313.29 434.5,313.67 435.4,313.77 438.5,314.12 439.8,314.26 442.5,314.56 444.2,314.75 446.5,315 450,315.39 450.5,315.43 454.5,315.73 458.5,316.03 461.7,316.27 462.5,316.33 465.2,316.54 466.5,316.67 470.5,317.06 473.4,317.34 474.5,317.43 478.5,317.74 482.5,318.06 485,318.26 486.5,318.41 490.5,318.8 490.9,318.84 494,319.15 494.5,319.2 496.7,319.42 498.5,319.6 502.5,320 506.5,320.4 508.4,320.6 510.5,320.79 514.5,321.18 517.8,321.49 518.5,321.53 520.1,321.61 522.5,321.65 525,321.69 526.5,321.68 530,321.64 530.5,321.65 534.5,321.69 538.1,321.73 538.5,321.76 542.5,322.11 544.7,322.31 546.5,322.54 550.5,323.06 551.3,323.16 554.5,323.44 558.5,323.8 562.5,324.15 564.4,324.32 566.5,324.46 570.5,324.74 574.5,325.02 577.6,325.23 578.5,325.32 582.5,325.7 584,325.85 586.5,326.19 588.1,326.4 590.5,326.77 594.5,327.39 596,327.62 598.5,328.03 599.2,328.15 600,328.38 601,328.68 602.5,329 606.5,329 610.5,329 614.5,329 618.5,329 622.5,329 626.5,329 630.5,329 634.5,329 638.5,329 642.5,329 646.5,329 650.5,329 654.5,329 658.5,329 662.5,329 666.5,329 670.5,329 674.5,329 674.5,310.1" fill="#a2c86b"/>
<polygon points="398.5,310.1 398.5,310.1 398.8,310.1 399.1,310.1 399.5,310.1 400.5,310.1 401.3,310.1 402.5,310.1 403,310.1 404.8,310.1 406.5,310.23 409.1,310.41 410.5,310.51 413.5,310.73 414.5,310.82 417.9,311.11 418.5,311.16 422.3,311.48 422.5,311.51 426.5,312.04 426.6,312.06 430.5,312.58 431,312.65 434.5,312.99 435.4,313.08 438.5,313.39 439.8,313.52 442.5,313.78 444.2,313.95 446.5,314.18 450,314.52 450.5,314.56 454.5,314.86 458.5,315.16 461.7,315.4 462.5,315.46 465.2,315.66 466.5,315.8 470.5,316.22 473.4,316.52 474.5,316.61 478.5,316.94 482.5,317.27 485,317.48 486.5,317.64 490.5,318.08 490.9,318.12 494,318.46 494.5,318.52 496.7,318.76 498.5,318.95 502.5,319.38 506.5,319.81 508.4,320.01 510.5,320.22 514.5,320.62 517.8,320.95 518.5,320.98 520.1,321.05 522.5,321.08 525,321.11 526.5,321.07 530,320.99 530.5,320.98 534.5,320.96 538.1,320.94 538.5,320.98 542.5,321.36 544.7,321.58 546.5,321.85 550.5,322.46 551.3,322.58 554.5,322.89 558.5,323.28 562.5,323.67 564.4,323.86 566.5,324.01 570.5,324.31 574.5,324.6 577.6,324.82 578.5,324.92 582.5,325.36 584,325.53 586.5,325.89 588.1,326.12 590.5,326.52 594.5,327.2 596,327.45 598.5,327.9 599.2,328.03 600,328.31 601,328.67 602.5,329 606.5,329 610.5,329 614.5,329 618.5,329 622.5,329 626.5,329 630.5,329 634.5,329 638.5,329 642.5,329 646.5,329 650.5,329 654.5,329 658.5,329 662.5,329 666.5,329 670.5,329 674.5,329 674.5,310.1" fill="#82c87f"/>
<polygon points="398.5,310.1 398.5,310.1 398.8,310.1 399.1,310.1 399.5,310.1 400.5,310.1 401.3,310.1 402.5,310.1 403,310.1 404.8,310.1 406.5,310.1 409.1,310.1 410.5,310.15 413.5,310.34 414.5,310.41 417.9,310.67 418.5,310.71 422.3,311 422.5,311.02 426.5,311.49 426.6,311.5 430.5,311.95 431,312.01 434.5,312.31 435.4,312.39 438.5,312.66 439.8,312.77 442.5,313 444.2,313.15 446.5,313.35 450,313.65 450.5,313.69 454.5,313.99 458.5,314.28 461.7,314.52 462.5,314.58 465.2,314.78 466.5,314.93 470.5,315.38 473.4,315.7 474.5,315.79 478.5,316.14 482.5,316.48 485,316.7 486.5,316.88 490.5,317.36 490.9,317.41 494,317.78 494.5,317.84 496.7,318.1 498.5,318.3 502.5,318.76 506.5,319.21 508.4,319.43 510.5,319.64 514.5,320.06 517.8,320.41 518.5,320.43 520.1,320.48 522.5,320.5 525,320.52 526.5,320.47 530,320.33 530.5,320.32 534.5,320.23 538.1,320.15 538.5,320.19 542.5,320.61 544.7,320.85 546.5,321.16 550.5,321.86 551.3,322 554.5,322.34 558.5,322.77 562.5,323.2 564.4,323.4 566.5,323.56 570.5,323.87 574.5,324.18 577.6,324.42 578.5,324.53 582.5,325.02 584,325.21 586.5,325.59 588.1,325.83 590.5,326.27 594.5,327 596,327.27 598.5,327.77 599.2,327.9 600,328.24 601,328.66 602.5,329 606.5,329 610.5,329 614.5,329 618.5,329 622.5,329 626.5,329 630.5,329 634.5,329 638.5,329 642.5,329 646.5,329 650.5,329 654.5,329 658.5,329 662.5,329 666.5,329 670.5,329 674.5,329 674.5,310.1" fill="#81c49a"/>
<polygon points="398.5,310.1 398.5,310.1 398.8,310.1 399.1,310.1 399.5,310.1 400.5,310.1 401.3,310.1 402.5,310.1 403,310.1 404.8,310.1 406.5,310.1 409.1,310.1 410.5,310.1 413.5,310.1 414.5,310.1 417.9,310.23 418.5,310.27 422.3,310.52 422.5,310.54 426.5,310.93 426.6,310.94 430.5,311.32 431,311.37 434.5,311.63 435.4,311.7 438.5,311.93 439.8,312.03 442.5,312.23 444.2,312.35 446.5,312.52 450,312.78 450.5,312.82 454.5,313.11 458.5,313.41 461.7,313.65 462.5,313.71 465.2,313.91 466.5,314.06 470.5,314.54 473.4,314.88 474.5,314.98 478.5,315.34 482.5,315.69 485,315.92 486.5,316.11 490.5,316.63 490.9,316.69 494,317.09 494.5,317.15 496.7,317.44 498.5,317.66 502.5,318.13 506.5,318.61 508.4,318.84 510.5,319.07 514.5,319.51 517.8,319.87 518.5,319.88 520.1,319.92 522.5,319.93 525,319.94 526.5,319.86 530,319.68 530.5,319.66 534.5,319.5 538.1,319.36 538.5,319.4 542.5,319.87 544.7,320.12 546.5,320.47 550.5,321.26 551.3,321.42 554.5,321.79 558.5,322.26 562.5,322.72 564.4,322.94 566.5,323.11 570.5,323.44 574.5,323.76 577.6,324.02 578.5,324.14 582.5,324.69 584,324.89 586.5,325.29 588.1,325.54 590.5,326.02 594.5,326.8 596,327.1 598.5,327.63 599.2,327.78 600,328.17 601,328.64 602.5,329 606.5,329 610.5,329 614.5,329 618.5,329 622.5,329 626.5,329 630.5,329 634.5,329 638.5,329 642.5,329 646.5,329 650.5,329 654.5,329 658.5,329 662.5,329 666.5,329 670.5,329 674.5,329 674.5,310.1" fill="#80bfaa"/>
<polygon points="398.5,310.1 398.5,310.1 398.8,310.1 399.1,310.1 399.5,310.1 400.5,310.1 401.3,310.1 402.5,310.1 403,310.1 404.8,310.1 406.5,310.1 409.1,310.1 410.5,310.1 413.5,310.1 414.5,310.1 417.9,310.1 418.5,310.1 422.3,310.1 422.5,310.1 426.5,310.38 426.6,310.38 430.5,310.69 431,310.73 434.5,310.95 435.4,311.01 438.5,311.2 439.8,311.28 442.5,311.45 444.2,311.55 446.5,311.69 450,311.91 450.5,311.95 454.5,312.24 458.5,312.54 461.7,312.77 462.5,312.83 465.2,313.03 466.5,313.19 470.5,313.7 473.4,314.06 474.5,314.16 478.5,314.53 482.5,314.91 485,315.14 486.5,315.35 490.5,315.91 490.9,315.97 494,316.4 494.5,316.47 496.7,316.78 498.5,317.01 502.5,317.51 506.5,318.02 508.4,318.25 510.5,318.49 514.5,318.95 517.8,319.32 518.5,319.33 520.1,319.36 522.5,319.36 525,319.35 526.5,319.26 530,319.03 530.5,319 534.5,318.77 538.1,318.57 538.5,318.62 542.5,319.12 544.7,319.39 546.5,319.78 550.5,320.66 551.3,320.84 554.5,321.24 558.5,321.74 562.5,322.24 564.4,322.48 566.5,322.66 570.5,323 574.5,323.35 577.6,323.61 578.5,323.75 582.5,324.35 584,324.57 586.5,324.99 588.1,325.26 590.5,325.76 594.5,326.61 596,326.92 598.5,327.5 599.2,327.66 600,328.09 601,328.63 602.5,329 606.5,329 610.5,329 614.5,329 618.5,329 622.5,329 626.5,329 630.5,329 634.5,329 638.5,329 642.5,329 646.5,329 650.5,329 654.5,329 658.5,329 662.5,329 666.5,329 670.5,329 674.5,329 674.5,310.1" fill="#80b9be"/>
<polygon points="398.5,310.1 398.5,310.1 398.8,310.1 399.1,310.1 399.5,310.1 400.5,310.1 401.3,310.1 402.5,310.1 403,310.1 404.8,310.1 406.5,310.1 409.1,310.1 410.5,310.1 413.5,310.1 414.5,310.1 417.9,310.1 418.5,310.1 422.3,310.1 422.5,310.1 426.5,310.1 426.6,310.1 430.5,310.1 431,310.1 434.5,310.27 435.4,310.32 438.5,310.47 439.8,310.53 442.5,310.67 444.2,310.75 446.5,310.87 450,311.04 450.5,311.08 454.5,311.37 458.5,311.66 461.7,311.9 462.5,311.96 465.2,312.15 466.5,312.33 470.5,312.86 473.4,313.24 474.5,313.35 478.5,313.73 482.5,314.12 485,314.36 486.5,314.59 490.5,315.19 490.9,315.25 494,315.71 494.5,315.79 496.7,316.12 498.5,316.36 502.5,316.89 506.5,317.42 508.4,317.67 510.5,317.92 514.5,318.39 517.8,318.78 518.5,318.79 520.1,318.79 522.5,318.78 525,318.77 526.5,318.65 530,318.37 530.5,318.34 534.5,318.04 538.1,317.78 538.5,317.83 542.5,318.37 544.7,318.66 546.5,319.1 550.5,320.07 551.3,320.26 554.5,320.69 558.5,321.23 562.5,321.76 564.4,322.02 566.5,322.21 570.5,322.57 574.5,322.93 577.6,323.21 578.5,323.36 582.5,324.01 584,324.26 586.5,324.69 588.1,324.97 590.5,325.51 594.5,326.41 596,326.75 598.5,327.37 599.2,327.54 600,328.02 601,328.62 602.5,329 606.5,329 610.5,329 614.5,329 618.5,329 622.5,329 626.5,329 630.5,329 634.5,329 638.5,329 642.5,329 646.5,329 650.5,329 654.5,329 658.5,329 662.5,329 666.5,329 670.5,329 674.5,329 674.5,310.1" fill="#82b6cf"/>
<polygon points="398.5,310.1 398.5,310.1 398.8,310.1 399.1,310.1 399.5,310.1 400.5,310.1 401.3,310.1 402.5,310.1 403,310.1 404.8,310.1 406.5,310.1 409.1,310.1 410.5,310.1 413.5,310.1 414.5,310.1 417.9,310.1 418.5,310.1 422.3,310.1 422.5,310.1 426.5,310.1 426.6,310.1 430.5,310.1 431,310.1 434.5,310.1 435.4,310.1 438.5,310.1 439.8,310.1 442.5,310.1 444.2,310.1 446.5,310.1 450,310.17 450.5,310.21 454.5,310.5 458.5,310.79 461.7,311.02 462.5,311.08 465.2,311.28 466.5,311.46 470.5,312.02 473.4,312.42 474.5,312.53 478.5,312.93 482.5,313.33 485,313.58 486.5,313.82 490.5,314.46 490.9,314.53 494,315.03 494.5,315.11 496.7,315.46 498.5,315.71 502.5,316.27 506.5,316.82 508.4,317.08 510.5,317.34 514.5,317.84 517.8,318.24 518.5,318.24 520.1,318.23 522.5,318.21 525,318.18 526.5,318.05 530,317.72 530.5,317.67 534.5,317.31 538.1,316.99 538.5,317.05 542.5,317.62 544.7,317.93 546.5,318.41 550.5,319.47 551.3,319.68 554.5,320.14 558.5,320.71 562.5,321.29 564.4,321.56 566.5,321.76 570.5,322.13 574.5,322.51 577.6,322.8 578.5,322.96 582.5,323.67 584,323.94 586.5,324.39 588.1,324.69 590.5,325.26 594.5,326.22 596,326.57 598.5,327.24 599.2,327.42 600,327.95 601,328.61 602.5,329 606.5,329 610.5,329 614.5,329 618.5,329 622.5,329 626.5,329 630.5,329 634.5,329 638.5,329 642.5,329 646.5,329 650.5,329 654.5,329 658.5,329 662.5,329 666.5,329 670.5,329 674.5,329 674.5,310.1" fill="#88b7d9"/>
<polygon points="398.5,310.1 398.5,310.1 398.8,310.1 399.1,310.1 399.5,310.1 400.5,310.1 401.3,310.1 402.5,310.1 403,310.1 404.8,310.1 406.5,310.1 409.1,310.1 410.5,310.1 413.5,310.1 414.5,310.1 417.9,310.1 418.5,310.1 422.3,310.1 422.5,310.1 426.5,310.1 426.6,310.1 430.5,310.1 431,310.1 434.5,310.1 435.4,310.1 438.5,310.1 439.8,310.1 442.5,310.1 444.2,310.1 446.5,310.1 450,310.1 450.5,310.1 454.5,310.1 458.5,310.1 461.7,310.15 462.5,310.2 465.2,310.4 466.5,310.59 470.5,311.18 473.4,311.6 474.5,311.71 478.5,312.13 482.5,312.54 485,312.8 486.5,313.06 490.5,313.74 490.9,313.81 494,314.34 494.5,314.42 496.7,314.8 498.5,315.06 502.5,315.64 506.5,316.22 508.4,316.5 510.5,316.77 514.5,317.28 517.8,317.7 518.5,317.69 520.1,317.67 522.5,317.63 525,317.6 526.5,317.44 530,317.07 530.5,317.01 534.5,316.58 538.1,316.2 538.5,316.26 542.5,316.87 544.7,317.2 546.5,317.72 550.5,318.87 551.3,319.1 554.5,319.59 558.5,320.2 562.5,320.81 564.4,321.1 566.5,321.31 570.5,321.7 574.5,322.09 577.6,322.4 578.5,322.57 582.5,323.33 584,323.62 586.5,324.1 588.1,324.4 590.5,325.01 594.5,326.02 596,326.4 598.5,327.1 599.2,327.3 600,327.88 601,328.6 602.5,329 606.5,329 610.5,329 614.5,329 618.5,329 622.5,329 626.5,329 630.5,329 634.5,329 638.5,329 642.5,329 646.5,329 650.5,329 654.5,329 658.5,329 662.5,329 666.5,329 670.5,329 674.5,329 674.5,310.1" fill="#90bddc"/>
<polygon points="398.5,310.1 398.5,310.1 398.8,310.1 399.1,310.1 399.5,310.1 400.5,310.1 401.3,310.1 402.5,310.1 403,310.1 404.8,310.1 406.5,310.1 409.1,310.1 410.5,310.1 413.5,310.1 414.5,310.1 417.9,310.1 418.5,310.1 422.3,310.1 422.5,310.1 426.5,310.1 426.6,310.1 430.5,310.1 431,310.1 434.5,310.1 435.4,310.1 438.5,310.1 439.8,310.1 442.5,310.1 444.2,310.1 446.5,310.1 450,310.1 450.5,310.1 454.5,310.1 458.5,310.1 461.7,310.1 462.5,310.1 465.2,310.1 466.5,310.1 470.5,310.18 473.4,310.6 474.5,310.71 478.5,311.13 482.5,311.54 485,311.8 486.5,312.06 490.5,312.74 490.9,312.81 494,313.34 494.5,313.42 496.7,313.8 498.5,314.06 502.5,314.64 506.5,315.22 508.4,315.5 510.5,315.77 514.5,316.28 517.8,316.7 518.5,316.69 520.1,316.67 522.5,316.63 525,316.6 526.5,316.44 530,316.07 530.5,316.01 534.5,315.58 538.1,315.2 538.5,315.26 542.5,315.87 544.7,316.2 546.5,316.72 550.5,317.87 551.3,318.1 554.5,318.59 558.5,319.2 562.5,319.81 564.4,320.1 566.5,320.31 570.5,320.7 574.5,321.09 577.6,321.4 578.5,321.57 582.5,322.33 584,322.62 586.5,323.1 588.1,323.4 590.5,324.01 594.5,325.02 596,325.4 598.5,326.1 599.2,326.3 600,326.88 601,327.6 602.5,328.68 606.5,329 610.5,329 614.5,329 618.5,329 622.5,329 626.5,329 630.5,329 634.5,329 638.5,329 642.5,329 646.5,329 650.5,329 654.5,329 658.5,329 662.5,329 666.5,329 670.5,329 674.5,329 674.5,310.1" fill="#d9e6f2"/>
<polygon points="398.5,310.1 398.5,310.1 398.8,310.1 399.1,310.1 399.5,310.1 400.5,310.1 401.3,310.1 402.5,310.1 403,310.1 404.8,310.1 406.5,310.1 409.1,310.1 410.5,310.1 413.5,310.1 414.5,310.1 417.9,310.1 418.5,310.1 422.3,310.1 422.5,310.1 426.5,310.1 426.6,310.1 430.5,310.1 431,310.1 434.5,310.1 435.4,310.1 438.5,310.1 439.8,310.1 442.5,310.1 444.2,310.1 446.5,310.1 450,310.1 450.5,310.1 454.5,310.1 458.5,310.1 461.7,310.1 462.5,310.1 465.2,310.1 466.5,310.1 470.5,310.1 473.4,310.1 474.5,310.1 478.5,310.1 482.5,310.34 485,310.6 486.5,310.86 490.5,311.54 490.9,311.61 494,312.14 494.5,312.22 496.7,312.6 498.5,312.86 502.5,313.44 506.5,314.02 508.4,314.3 510.5,314.57 514.5,315.08 517.8,315.5 518.5,315.49 520.1,315.47 522.5,315.43 525,315.4 526.5,315.24 530,314.87 530.5,314.81 534.5,314.38 538.1,314 538.5,314.06 542.5,314.67 544.7,315 546.5,315.52 550.5,316.67 551.3,316.9 554.5,317.39 558.5,318 562.5,318.61 564.4,318.9 566.5,319.11 570.5,319.5 574.5,319.89 577.6,320.2 578.5,320.37 582.5,321.13 584,321.42 586.5,321.9 588.1,322.2 590.5,322.81 594.5,323.82 596,324.2 598.5,324.9 599.2,325.1 600,325.68 601,326.4 602.5,327.48 606.5,329 610.5,329 614.5,329 618.5,329 622.5,329 626.5,329 630.5,329 634.5,329 638.5,329 642.5,329 646.5,329 650.5,329 654.5,329 658.5,329 662.5,329 666.5,329 670.5,329 674.5,329 674.5,310.1" fill="#eef3f8"/>
<polygon points="398.5,310.1 398.5,310.1 398.8,310.1 399.1,310.1 399.5,310.1 400.5,310.1 401.3,310.1 402.5,310.1 403,310.1 404.8,310.1 406.5,310.1 409.1,310.1 410.5,310.1 413.5,310.1 414.5,310.1 417.9,310.1 418.5,310.1 422.3,310.1 422.5,310.1 426.5,310.1 426.6,310.1 430.5,310.1 431,310.1 434.5,310.1 435.4,310.1 438.5,310.1 439.8,310.1 442.5,310.1 444.2,310.1 446.5,310.1 450,310.1 450.5,310.1 454.5,310.1 458.5,310.1 461.7,310.1 462.5,310.1 465.2,310.1 466.5,310.1 470.5,310.1 473.4,310.1 474.5,310.1 478.5,310.1 482.5,310.1 485,310.1 486.5,310.1 490.5,310.34 490.9,310.41 494,310.94 494.5,311.02 496.7,311.4 498.5,311.66 502.5,312.24 506.5,312.82 508.4,313.1 510.5,313.37 514.5,313.88 517.8,314.3 518.5,314.29 520.1,314.27 522.5,314.23 525,314.2 526.5,314.04 530,313.67 530.5,313.61 534.5,313.18 538.1,312.8 538.5,312.86 542.5,313.47 544.7,313.8 546.5,314.32 550.5,315.47 551.3,315.7 554.5,316.19 558.5,316.8 562.5,317.41 564.4,317.7 566.5,317.91 570.5,318.3 574.5,318.69 577.6,319 578.5,319.17 582.5,319.93 584,320.22 586.5,320.7 588.1,321 590.5,321.61 594.5,322.62 596,323 598.5,323.7 599.2,323.9 600,324.48 601,325.2 602.5,326.28 606.5,329 610.5,329 614.5,329 618.5,329 622.5,329 626.5,329 630.5,329 634.5,329 638.5,329 642.5,329 646.5,329 650.5,329 654.5,329 658.5,329 662.5,329 666.5,329 670.5,329 674.5,329 674.5,310.1" fill="#f9f9f9"/>
</g>
<polyline points="466.5,310.59 470.5,311.18 473.4,311.6 474.5,311.71 478.5,312.13 482.5,312.54 485,312.8 486.5,313.06 490.5,313.74 490.9,313.81 494,314.34 494.5,314.42 496.7,314.8 498.5,315.06 502.5,315.64 506.5,316.22 508.4,316.5 510.5,316.77 514.5,317.28 517.8,317.7 518.5,317.69 520.1,317.67 522.5,317.63 525,317.6 526.5,317.44 530,317.07 530.5,317.01 534.5,316.58 538.1,316.2 538.5,316.26 542.5,316.87 544.7,317.2 546.5,317.72 550.5,318.87 551.3,319.1 554.5,319.59 558.5,320.2 562.5,320.81 564.4,321.1 566.5,321.31 570.5,321.7 574.5,322.09 577.6,322.4 578.5,322.57 582.5,323.33 584,323.62 586.5,324.1 588.1,324.4 590.5,325.01 594.5,326.02 596,326.4 598.5,327.1 599.2,327.3 600,327.88 601,328.6 602.5,329.68" fill="none" stroke="#1a1a1a" stroke-width="0.9"/>
<polyline points="401.3,310.8 402.5,311.01 403,311.09 404.8,311.4 406.5,311.58 409.1,311.84 410.5,311.99 413.5,312.3 414.5,312.43 417.9,312.85 418.5,312.93 422.3,313.4 422.5,313.44 426.5,314.27 426.6,314.29 430.5,315.1 431,315.2 434.5,315.72 435.4,315.85 438.5,316.31 439.8,316.5 442.5,316.9 444.2,317.15 446.5,317.49 450,318 450.5,318.04 454.5,318.35 458.5,318.65 461.7,318.9 462.5,318.96 465.2,319.17 466.5,319.27 470.5,319.58 473.4,319.8 474.5,319.88 478.5,320.15 482.5,320.42 485,320.6 486.5,320.7 490.5,320.97 490.9,321 494,321.21 494.5,321.25 496.7,321.4 498.5,321.55 502.5,321.87 506.5,322.2 508.4,322.35 510.5,322.52 514.5,322.85 517.8,323.11 518.5,323.17 520.1,323.3 522.5,323.37 525,323.45 526.5,323.49 530,323.6 530.5,323.63 534.5,323.87 538.1,324.09 538.5,324.12 542.5,324.36 544.7,324.5 546.5,324.61 550.5,324.85 551.3,324.9 554.5,325.1 558.5,325.34 562.5,325.58 564.4,325.7 566.5,325.82 570.5,326.04 574.5,326.27 577.6,326.44 578.5,326.49 582.5,326.72 584,326.8 586.5,327.08 588.1,327.26 590.5,327.53 594.5,327.98 596,328.15 598.5,328.43 599.2,328.51 600,328.6 601,328.71 602.5,328.88 606.5,329.33 610.5,329.78 614.5,330.23 618.5,330.68" fill="none" stroke="#1a1a1a" stroke-width="0.9"/>
<polyline points="399.1,311.3 399.5,313.4 400.5,313.8 401.3,314.12 402.5,314.6 403,314.8 404.8,315.45 406.5,316.06 409.1,317 410.5,317.67 413.5,319.1 414.5,319.3 417.9,320 418.5,320.01 422.3,320.1 422.5,320.11 426.5,320.2 426.6,320.2 430.5,320.29 431,320.3 434.5,320.38 435.4,320.4 438.5,320.72 439.8,320.85 442.5,321.13 444.2,321.3 446.5,321.7 450,322.3 450.5,322.35 454.5,322.76 458.5,323.17 461.7,323.5 462.5,323.62 465.2,324.04 466.5,324.24 470.5,324.85 473.4,325.3 474.5,325.46 478.5,326.05 482.5,326.63 485,327 486.5,327.18 490.5,327.65 490.9,327.7 494,328.6 494.5,328.75 496.7,329.38 498.5,329.91" fill="none" stroke="#1a1a1a" stroke-width="0.9"/>
<polygon points="400.8,310 401.3,308.3 405,307.9 407.3,306.4 411.4,305.8 417.2,305.2 428,304.8 438.34,304.6 453.27,303.6 473.19,301.8 488.12,300.8 503.06,299.6 513.02,299 532.93,298.2 552.84,297.5 567.78,297.1 582.72,296.5 602.63,295.8 617.07,295.3 628.52,294.7 643.45,293.6 658.39,292.6 671.63,291.8 671.5,310.1 400.8,310.1" fill="#fff6db"/>
<polygon points="370.6,309.5 400.8,309.5 401.1,310.5 400.3,311.7 370.6,311.7" fill="#0d1117"/>
<polyline points="400.8,310.3 401.3,308.6 405,308.2 407.3,306.7 411.4,306.1 417.2,305.5 428,305.1 438.34,304.9 453.27,303.9 473.19,302.1 488.12,301.1 503.06,299.9 513.02,299.3 532.93,298.5 552.84,297.8 567.78,297.4 582.72,296.8 602.63,296.1 617.07,295.6 628.52,295 643.45,293.9 658.39,292.9 671.63,292.1" fill="none" stroke="#111" stroke-width="1.4"/>
<line x1="400.8" y1="310.5" x2="671.5" y2="310.5" stroke="#111" stroke-width="1.1"/>
<line x1="418.72" y1="304.9" x2="418.72" y2="311.6" stroke="#111" stroke-width="1.35"/>
<line x1="463.63" y1="302.6" x2="463.63" y2="319.1" stroke="#111" stroke-width="1.35"/>
<line x1="515.01" y1="299.3" x2="515.01" y2="320.6" stroke="#111" stroke-width="1.35"/>
<line x1="617.17" y1="294.3" x2="617.17" y2="328" stroke="#111" stroke-width="1.35"/>
<polygon points="642.5,318.6 652.9,313.6 652.9,316.5 672,316.5 672,320.6 652.9,320.6 652.9,323.8" fill="#0a6cc4"/>
</g>
<text transform="translate(418.72,302.8) scale(0.92,1)" text-anchor="middle" style="font-size:10.8px;">SIM 2</text>
<text transform="translate(463.63,300.1) scale(0.92,1)" text-anchor="middle" style="font-size:10.8px;">SIM 1</text>
<text transform="translate(515.01,297) scale(0.92,1)" text-anchor="middle" style="font-size:10.8px;">SIM 3</text>
<text transform="translate(617.17,292.9) scale(0.92,1)" text-anchor="middle" style="font-size:10.8px;">SIM 6</text>
<text transform="translate(666,307.6) scale(0.92,1)" text-anchor="end" style="font-size:10.8px;fill:#1b5a9c;stroke:#1b5a9c;stroke-width:0.15px">1 ML/yr</text>
<text transform="translate(376.1,292.7) scale(0.9,1)" style="font-size:10.4px;">K</text>
<rect x="370.6" y="280" width="300.9" height="48" fill="none" stroke="#777" stroke-width="1"/>
<line x1="376.94" y1="328" x2="376.94" y2="326.4" stroke="#333" stroke-width="0.8"/>
<line x1="388.97" y1="328" x2="388.97" y2="326.4" stroke="#333" stroke-width="0.8"/>
<line x1="401" y1="328" x2="401" y2="325" stroke="#333" stroke-width="0.8"/>
<line x1="413.03" y1="328" x2="413.03" y2="326.4" stroke="#333" stroke-width="0.8"/>
<line x1="425.06" y1="328" x2="425.06" y2="326.4" stroke="#333" stroke-width="0.8"/>
<line x1="437.08" y1="328" x2="437.08" y2="326.4" stroke="#333" stroke-width="0.8"/>
<line x1="449.11" y1="328" x2="449.11" y2="326.4" stroke="#333" stroke-width="0.8"/>
<line x1="461.14" y1="328" x2="461.14" y2="325" stroke="#333" stroke-width="0.8"/>
<line x1="473.17" y1="328" x2="473.17" y2="326.4" stroke="#333" stroke-width="0.8"/>
<line x1="485.2" y1="328" x2="485.2" y2="326.4" stroke="#333" stroke-width="0.8"/>
<line x1="497.22" y1="328" x2="497.22" y2="326.4" stroke="#333" stroke-width="0.8"/>
<line x1="509.25" y1="328" x2="509.25" y2="326.4" stroke="#333" stroke-width="0.8"/>
<line x1="521.28" y1="328" x2="521.28" y2="325" stroke="#333" stroke-width="0.8"/>
<line x1="533.31" y1="328" x2="533.31" y2="326.4" stroke="#333" stroke-width="0.8"/>
<line x1="545.34" y1="328" x2="545.34" y2="326.4" stroke="#333" stroke-width="0.8"/>
<line x1="557.36" y1="328" x2="557.36" y2="326.4" stroke="#333" stroke-width="0.8"/>
<line x1="569.39" y1="328" x2="569.39" y2="326.4" stroke="#333" stroke-width="0.8"/>
<line x1="581.42" y1="328" x2="581.42" y2="325" stroke="#333" stroke-width="0.8"/>
<line x1="593.45" y1="328" x2="593.45" y2="326.4" stroke="#333" stroke-width="0.8"/>
<line x1="605.48" y1="328" x2="605.48" y2="326.4" stroke="#333" stroke-width="0.8"/>
<line x1="617.51" y1="328" x2="617.51" y2="326.4" stroke="#333" stroke-width="0.8"/>
<line x1="629.53" y1="328" x2="629.53" y2="326.4" stroke="#333" stroke-width="0.8"/>
<line x1="641.56" y1="328" x2="641.56" y2="325" stroke="#333" stroke-width="0.8"/>
<line x1="653.59" y1="328" x2="653.59" y2="326.4" stroke="#333" stroke-width="0.8"/>
<line x1="665.62" y1="328" x2="665.62" y2="326.4" stroke="#333" stroke-width="0.8"/>
<line x1="370.6" y1="295" x2="372.2" y2="295" stroke="#333" stroke-width="0.8"/>
<line x1="370.6" y1="325" x2="372.2" y2="325" stroke="#333" stroke-width="0.8"/>
<text transform="translate(367.7,283.8) scale(0.9,1)" text-anchor="end" style="font-size:10.8px;">50</text>
<text transform="translate(367.7,313.9) scale(0.9,1)" text-anchor="end" style="font-size:10.8px;">0</text>
<clipPath id="cF"><rect x="37.6" y="341.2" width="301.8" height="48"/></clipPath>
<g clip-path="url(#cF)">
<rect x="37.6" y="341.2" width="301.8" height="48" fill="#fff"/>
<clipPath id="fc5"><rect x="30" y="370.9" width="320" height="18.3"/></clipPath>
<g clip-path="url(#fc5)"><g filter="url(#ff5)">
<rect x="26.8" y="367.9" width="322.6" height="24.3" fill="rgb(148,148,148)"/>
<ellipse cx="48" cy="373" rx="15" ry="2" fill="rgb(115,115,115)"/>
<ellipse cx="105" cy="380" rx="28" ry="1.5" fill="rgb(110,110,110)"/>
<ellipse cx="162.5" cy="380" rx="15.5" ry="1.5" fill="rgb(110,110,110)"/>
<ellipse cx="180" cy="386" rx="23" ry="1.5" fill="rgb(110,110,110)"/>
<ellipse cx="248" cy="380" rx="15" ry="1.5" fill="rgb(115,115,115)"/>
<ellipse cx="320" cy="383" rx="23" ry="3" fill="rgb(115,115,115)"/>
<ellipse cx="335" cy="388" rx="8" ry="1.5" fill="rgb(89,89,89)"/>
<ellipse cx="75" cy="373.5" rx="18" ry="1.5" fill="rgb(184,184,184)"/>
<ellipse cx="55" cy="378" rx="8" ry="1.5" fill="rgb(184,184,184)"/>
<ellipse cx="63" cy="385" rx="30" ry="2" fill="rgb(204,204,204)"/>
<ellipse cx="77.5" cy="385" rx="10.5" ry="1.5" fill="rgb(214,214,214)"/>
<ellipse cx="115" cy="385" rx="28" ry="2" fill="rgb(173,173,173)"/>
<ellipse cx="175" cy="373" rx="13" ry="1.5" fill="rgb(204,204,204)"/>
<ellipse cx="230" cy="372" rx="13" ry="1.5" fill="rgb(214,214,214)"/>
<ellipse cx="155" cy="377" rx="8" ry="1.5" fill="rgb(184,184,184)"/>
<ellipse cx="212.5" cy="382.5" rx="30.5" ry="2" fill="rgb(204,204,204)"/>
<ellipse cx="212.5" cy="382.5" rx="15.5" ry="1.5" fill="rgb(214,214,214)"/>
<ellipse cx="268" cy="374" rx="35" ry="2.5" fill="rgb(204,204,204)"/>
<ellipse cx="250" cy="373" rx="13" ry="1.5" fill="rgb(214,214,214)"/>
<ellipse cx="263" cy="383" rx="30" ry="1.5" fill="rgb(204,204,204)"/>
<ellipse cx="262.5" cy="383" rx="15.5" ry="1.5" fill="rgb(214,214,214)"/>
<ellipse cx="320" cy="374.5" rx="23" ry="2" fill="rgb(184,184,184)"/>
</g></g>
<polygon points="66.4,370.8 67.2,369.5 68.2,368.7 71.7,368.7 74.3,367.2 78.4,366.6 90,366.4 105,365.8 120,364.8 140,363 155,362 170,360.8 180,360.2 200,359.4 220,358.7 235,358.3 250,357.7 270,357 284.5,356.5 296,355.9 311,354.8 326,353.8 339.3,353 339.4,370.9 66.4,370.9" fill="#fff6db"/>
<polygon points="37.6,370.6 66.4,370.6 66.8,371.6 66.7,371.8 62,372.6 55,373.1 37.6,373.1" fill="#0d1117"/>
<polyline points="66.4,371.1 67.2,369.8 68.2,369 71.7,369 74.3,367.5 78.4,366.9 90,366.7 105,366.1 120,365.1 140,363.3 155,362.3 170,361.1 180,360.5 200,359.7 220,359 235,358.6 250,358 270,357.3 284.5,356.8 296,356.2 311,355.1 326,354.1 339.3,353.3" fill="none" stroke="#111" stroke-width="1.4"/>
<line x1="66.4" y1="370.5" x2="339.4" y2="370.5" stroke="#111" stroke-width="1.1"/>
<line x1="85.3" y1="366.1" x2="85.3" y2="372.8" stroke="#111" stroke-width="1.35"/>
<line x1="130.4" y1="363.8" x2="130.4" y2="380.3" stroke="#111" stroke-width="1.35"/>
<line x1="182" y1="360.5" x2="182" y2="381.8" stroke="#111" stroke-width="1.35"/>
<line x1="284.6" y1="355.5" x2="284.6" y2="389.2" stroke="#111" stroke-width="1.35"/>
</g>
<text transform="translate(85.3,364) scale(0.92,1)" text-anchor="middle" style="font-size:10.8px;">SIM 2</text>
<text transform="translate(130.4,361.3) scale(0.92,1)" text-anchor="middle" style="font-size:10.8px;">SIM 1</text>
<text transform="translate(182,358.2) scale(0.92,1)" text-anchor="middle" style="font-size:10.8px;">SIM 3</text>
<text transform="translate(284.6,354.1) scale(0.92,1)" text-anchor="middle" style="font-size:10.8px;">SIM 6</text>
<text transform="translate(43.6,354.2) scale(0.9,1)" style="font-size:10.4px;">F</text>
<rect x="37.6" y="341.2" width="301.8" height="48" fill="none" stroke="#777" stroke-width="1"/>
<line x1="43.34" y1="389.2" x2="43.34" y2="387.6" stroke="#333" stroke-width="0.8"/>
<line x1="55.42" y1="389.2" x2="55.42" y2="387.6" stroke="#333" stroke-width="0.8"/>
<line x1="67.5" y1="389.2" x2="67.5" y2="386.2" stroke="#333" stroke-width="0.8"/>
<line x1="79.58" y1="389.2" x2="79.58" y2="387.6" stroke="#333" stroke-width="0.8"/>
<line x1="91.66" y1="389.2" x2="91.66" y2="387.6" stroke="#333" stroke-width="0.8"/>
<line x1="103.74" y1="389.2" x2="103.74" y2="387.6" stroke="#333" stroke-width="0.8"/>
<line x1="115.82" y1="389.2" x2="115.82" y2="387.6" stroke="#333" stroke-width="0.8"/>
<line x1="127.9" y1="389.2" x2="127.9" y2="386.2" stroke="#333" stroke-width="0.8"/>
<line x1="139.98" y1="389.2" x2="139.98" y2="387.6" stroke="#333" stroke-width="0.8"/>
<line x1="152.06" y1="389.2" x2="152.06" y2="387.6" stroke="#333" stroke-width="0.8"/>
<line x1="164.14" y1="389.2" x2="164.14" y2="387.6" stroke="#333" stroke-width="0.8"/>
<line x1="176.22" y1="389.2" x2="176.22" y2="387.6" stroke="#333" stroke-width="0.8"/>
<line x1="188.3" y1="389.2" x2="188.3" y2="386.2" stroke="#333" stroke-width="0.8"/>
<line x1="200.38" y1="389.2" x2="200.38" y2="387.6" stroke="#333" stroke-width="0.8"/>
<line x1="212.46" y1="389.2" x2="212.46" y2="387.6" stroke="#333" stroke-width="0.8"/>
<line x1="224.54" y1="389.2" x2="224.54" y2="387.6" stroke="#333" stroke-width="0.8"/>
<line x1="236.62" y1="389.2" x2="236.62" y2="387.6" stroke="#333" stroke-width="0.8"/>
<line x1="248.7" y1="389.2" x2="248.7" y2="386.2" stroke="#333" stroke-width="0.8"/>
<line x1="260.78" y1="389.2" x2="260.78" y2="387.6" stroke="#333" stroke-width="0.8"/>
<line x1="272.86" y1="389.2" x2="272.86" y2="387.6" stroke="#333" stroke-width="0.8"/>
<line x1="284.94" y1="389.2" x2="284.94" y2="387.6" stroke="#333" stroke-width="0.8"/>
<line x1="297.02" y1="389.2" x2="297.02" y2="387.6" stroke="#333" stroke-width="0.8"/>
<line x1="309.1" y1="389.2" x2="309.1" y2="386.2" stroke="#333" stroke-width="0.8"/>
<line x1="321.18" y1="389.2" x2="321.18" y2="387.6" stroke="#333" stroke-width="0.8"/>
<line x1="333.26" y1="389.2" x2="333.26" y2="387.6" stroke="#333" stroke-width="0.8"/>
<line x1="37.6" y1="356.2" x2="39.2" y2="356.2" stroke="#333" stroke-width="0.8"/>
<line x1="37.6" y1="386.2" x2="39.2" y2="386.2" stroke="#333" stroke-width="0.8"/>
<text transform="translate(34.7,345) scale(0.9,1)" text-anchor="end" style="font-size:10.8px;">50</text>
<text transform="translate(34.7,374.7) scale(0.9,1)" text-anchor="end" style="font-size:10.8px;">0</text>
<clipPath id="cL"><rect x="370.6" y="341.3" width="300.9" height="48"/></clipPath>
<g clip-path="url(#cL)">
<rect x="370.6" y="341.3" width="300.9" height="48" fill="#fff"/>
<rect x="370.6" y="371.4" width="300.9" height="17.9" fill="#fd3d3d"/>
<g filter="url(#soft)">
<polygon points="398.5,371.4 398.5,371.4 398.8,371.4 399.5,372.7 399.9,374.9 400.5,375.23 401.3,375.67 402.5,376.33 403,376.6 404.8,376.98 406.5,377.35 409.1,377.9 410.5,378.12 413.5,378.6 414.5,378.76 417.9,379.3 418.5,379.39 422.3,379.96 422.5,379.99 426.5,380.59 426.6,380.6 430.5,380.95 431,381 434.5,381.32 435.4,381.4 438.5,381.72 439.8,381.85 442.5,382.13 444.2,382.3 446.5,382.54 450,382.9 450.5,382.96 454.5,383.43 456,383.6 458.5,383.87 462.5,384.31 466.5,384.75 470,385.13 470.5,385.18 473.4,385.5 474.5,385.59 478.5,385.92 482.5,386.24 486.5,386.57 490.5,386.89 494.4,387.21 494.5,387.22 496.7,387.4 498.5,387.56 502.5,387.93 506.5,388.29 508.4,388.46 510.5,388.65 514.3,389 514.5,389.05 518,389.9 518.5,390.02 520.1,390.3 522.5,390.3 525,390.3 526.5,390.3 530,390.3 530.5,390.3 534.5,390.3 536.7,390.3 538.5,390.3 542.5,390.3 546.5,390.3 548.4,390.3 550.5,390.3 554.5,390.3 558.5,390.3 560,390.3 562.5,390.3 566.5,390.3 570.5,390.3 574.5,390.3 575.2,390.3 578.5,390.3 582.5,390.3 583.4,390.3 586.5,390.3 590.5,390.3 594.5,390.3 595.1,390.3 598.5,390.3 602.5,390.3 605,390.3 606.5,390.3 610.5,390.3 614.5,390.3 616.8,390.3 618.5,390.3 622.5,390.3 626.3,390.3 626.5,390.3 630.5,390.3 634.5,390.3 634.7,390.3 638.5,390.3 640,390.3 642.1,390.3 642.5,390.3 645.2,390.3 646.5,390.3 648,390.3 650.5,390.3 654.5,390.3 658.5,390.3 662.5,390.3 666.5,390.3 670.5,390.3 674.5,390.3 674.5,371.4" fill="#fe3f3c"/>
<polygon points="398.5,371.4 398.5,371.4 398.8,371.4 399.5,372.36 399.9,374.02 400.5,374.27 401.3,374.78 402.5,375.36 403,375.6 404.8,376.01 406.5,376.35 409.1,376.86 410.5,377.08 413.5,377.55 414.5,377.7 417.9,378.23 418.5,378.31 422.3,378.87 422.5,378.9 426.5,379.48 426.6,379.5 430.5,379.9 431,379.95 434.5,380.28 435.4,380.36 438.5,380.68 439.8,380.81 442.5,381.09 444.2,381.26 446.5,381.49 450,381.85 450.5,381.9 454.5,382.33 456,382.48 458.5,382.73 462.5,383.13 466.5,383.53 470,383.88 470.5,383.93 473.4,384.23 474.5,384.31 478.5,384.64 482.5,384.96 486.5,385.28 490.5,385.6 494.4,385.91 494.5,385.92 496.7,386.1 498.5,386.26 502.5,386.6 506.5,386.95 508.4,387.11 510.5,387.29 514.3,387.62 514.5,387.66 518,388.36 518.5,388.46 520.1,388.78 522.5,389.26 525,389.75 526.5,390.05 530,390.3 530.5,390.3 534.5,390.3 536.7,390.3 538.5,390.3 542.5,390.3 546.5,390.3 548.4,390.3 550.5,390.3 554.5,390.3 558.5,390.3 560,390.3 562.5,390.3 566.5,390.3 570.5,390.3 574.5,390.3 575.2,390.3 578.5,390.3 582.5,390.3 583.4,390.3 586.5,390.3 590.5,390.3 594.5,390.3 595.1,390.3 598.5,390.3 602.5,390.3 605,390.3 606.5,390.3 610.5,390.3 614.5,390.3 616.8,390.3 618.5,390.3 622.5,390.3 626.3,390.3 626.5,390.3 630.5,390.3 634.5,390.3 634.7,390.3 638.5,390.3 640,390.3 642.1,390.3 642.5,390.3 645.2,390.3 646.5,390.3 648,390.3 650.5,390.3 654.5,390.3 658.5,390.3 662.5,390.3 666.5,390.3 670.5,390.3 674.5,390.3 674.5,371.4" fill="#fc533c"/>
<polygon points="398.5,371.4 398.5,371.4 398.8,371.4 399.5,372.02 399.9,373.13 400.5,373.31 401.3,373.88 402.5,374.38 403,374.59 404.8,375.04 406.5,375.35 409.1,375.82 410.5,376.04 413.5,376.5 414.5,376.65 417.9,377.15 418.5,377.24 422.3,377.78 422.5,377.81 426.5,378.38 426.6,378.4 430.5,378.84 431,378.9 434.5,379.24 435.4,379.33 438.5,379.64 439.8,379.77 442.5,380.05 444.2,380.22 446.5,380.45 450,380.8 450.5,380.85 454.5,381.23 456,381.37 458.5,381.6 462.5,381.96 466.5,382.32 470,382.64 470.5,382.69 473.4,382.95 474.5,383.04 478.5,383.35 482.5,383.67 486.5,383.99 490.5,384.31 494.4,384.62 494.5,384.63 496.7,384.8 498.5,384.95 502.5,385.27 506.5,385.6 508.4,385.76 510.5,385.93 514.3,386.24 514.5,386.27 518,386.82 518.5,386.9 520.1,387.16 522.5,387.52 525,387.9 526.5,388.13 530,388.66 530.5,388.74 534.5,389.34 536.7,389.68 538.5,389.95 542.5,390.3 546.5,390.3 548.4,390.3 550.5,390.3 554.5,390.3 558.5,390.3 560,390.3 562.5,390.3 566.5,390.3 570.5,390.3 574.5,390.3 575.2,390.3 578.5,390.3 582.5,390.3 583.4,390.3 586.5,390.3 590.5,390.3 594.5,390.3 595.1,390.3 598.5,390.3 602.5,390.3 605,390.3 606.5,390.3 610.5,390.3 614.5,390.3 616.8,390.3 618.5,390.3 622.5,390.3 626.3,390.3 626.5,390.3 630.5,390.3 634.5,390.3 634.7,390.3 638.5,390.3 640,390.3 642.1,390.3 642.5,390.3 645.2,390.3 646.5,390.3 648,390.3 650.5,390.3 654.5,390.3 658.5,390.3 662.5,390.3 666.5,390.3 670.5,390.3 674.5,390.3 674.5,371.4" fill="#fa6d3b"/>
<polygon points="398.5,371.4 398.5,371.4 398.8,371.4 399.5,371.69 399.9,372.25 400.5,372.36 401.3,372.99 402.5,373.41 403,373.59 404.8,374.07 406.5,374.35 409.1,374.78 410.5,374.99 413.5,375.45 414.5,375.59 417.9,376.07 418.5,376.16 422.3,376.69 422.5,376.72 426.5,377.28 426.6,377.29 430.5,377.79 431,377.85 434.5,378.2 435.4,378.29 438.5,378.6 439.8,378.74 442.5,379.01 444.2,379.17 446.5,379.4 450,379.75 450.5,379.79 454.5,380.13 456,380.25 458.5,380.46 462.5,380.78 466.5,381.11 470,381.4 470.5,381.44 473.4,381.68 474.5,381.76 478.5,382.07 482.5,382.39 486.5,382.7 490.5,383.01 494.4,383.32 494.5,383.33 496.7,383.5 498.5,383.64 502.5,383.95 506.5,384.26 508.4,384.4 510.5,384.57 514.3,384.86 514.5,384.88 518,385.29 518.5,385.34 520.1,385.53 522.5,385.78 525,386.05 526.5,386.21 530,386.58 530.5,386.63 534.5,387.06 536.7,387.29 538.5,387.48 542.5,387.9 546.5,388.33 548.4,388.53 550.5,388.75 554.5,389.17 558.5,389.6 560,389.75 562.5,389.97 566.5,390.3 570.5,390.3 574.5,390.3 575.2,390.3 578.5,390.3 582.5,390.3 583.4,390.3 586.5,390.3 590.5,390.3 594.5,390.3 595.1,390.3 598.5,390.3 602.5,390.3 605,390.3 606.5,390.3 610.5,390.3 614.5,390.3 616.8,390.3 618.5,390.3 622.5,390.3 626.3,390.3 626.5,390.3 630.5,390.3 634.5,390.3 634.7,390.3 638.5,390.3 640,390.3 642.1,390.3 642.5,390.3 645.2,390.3 646.5,390.3 648,390.3 650.5,390.3 654.5,390.3 658.5,390.3 662.5,390.3 666.5,390.3 670.5,390.3 674.5,390.3 674.5,371.4" fill="#fa8839"/>
<polygon points="398.5,371.4 398.5,371.4 398.8,371.4 399.5,371.4 399.9,371.4 400.5,371.4 401.3,372.1 402.5,372.44 403,372.59 404.8,373.1 406.5,373.35 409.1,373.74 410.5,373.95 413.5,374.4 414.5,374.54 417.9,375 418.5,375.08 422.3,375.6 422.5,375.63 426.5,376.18 426.6,376.19 430.5,376.73 431,376.8 434.5,377.16 435.4,377.25 438.5,377.57 439.8,377.7 442.5,377.96 444.2,378.13 446.5,378.36 450,378.7 450.5,378.74 454.5,379.03 456,379.14 458.5,379.32 462.5,379.61 466.5,379.9 470,380.15 470.5,380.19 473.4,380.4 474.5,380.48 478.5,380.79 482.5,381.1 486.5,381.41 490.5,381.72 494.4,382.02 494.5,382.03 496.7,382.2 498.5,382.33 502.5,382.62 506.5,382.91 508.4,383.05 510.5,383.2 514.3,383.48 514.5,383.49 518,383.75 518.5,383.78 520.1,383.9 522.5,384.05 525,384.2 526.5,384.29 530,384.5 530.5,384.53 534.5,384.77 536.7,384.9 538.5,385.01 542.5,385.25 546.5,385.49 548.4,385.6 550.5,385.73 554.5,385.97 558.5,386.21 560,386.3 562.5,386.38 566.5,386.52 570.5,386.65 574.5,386.78 575.2,386.81 578.5,386.92 582.5,387.05 583.4,387.08 586.5,387.18 590.5,387.32 594.5,387.45 595.1,387.47 598.5,387.58 602.5,387.72 605,387.8 606.5,387.89 610.5,388.13 614.5,388.37 616.8,388.51 618.5,388.61 622.5,388.85 626.3,389.08 626.5,389.09 630.5,389.33 634.5,389.57 634.7,389.58 638.5,389.81 640,389.9 642.1,390.03 642.5,390.05 645.2,390.21 646.5,390.29 648,390.3 650.5,390.3 654.5,390.3 658.5,390.3 662.5,390.3 666.5,390.3 670.5,390.3 674.5,390.3 674.5,371.4" fill="#fc9e38"/>
<polygon points="398.5,371.4 398.5,371.4 398.8,371.4 399.5,371.4 399.9,371.4 400.5,371.4 401.3,372.1 402.5,372.44 403,372.59 404.8,373.1 406.5,373.35 409.1,373.74 410.5,373.95 413.5,374.4 414.5,374.54 417.9,375 418.5,375.08 422.3,375.6 422.5,375.63 426.5,376.18 426.6,376.19 430.5,376.73 431,376.8 434.5,377.16 435.4,377.25 438.5,377.57 439.8,377.7 442.5,377.96 444.2,378.13 446.5,378.36 450,378.7 450.5,378.74 454.5,379.03 456,379.14 458.5,379.32 462.5,379.61 466.5,379.9 470,380.15 470.5,380.19 473.4,380.4 474.5,380.48 478.5,380.79 482.5,381.1 486.5,381.41 490.5,381.72 494.4,382.02 494.5,382.03 496.7,382.2 498.5,382.33 502.5,382.62 506.5,382.91 508.4,383.05 510.5,383.2 514.3,383.48 514.5,383.49 518,383.75 518.5,383.78 520.1,383.9 522.5,384.05 525,384.2 526.5,384.29 530,384.5 530.5,384.53 534.5,384.77 536.7,384.9 538.5,385.01 542.5,385.25 546.5,385.49 548.4,385.6 550.5,385.73 554.5,385.97 558.5,386.21 560,386.3 562.5,386.38 566.5,386.52 570.5,386.65 574.5,386.78 575.2,386.81 578.5,386.92 582.5,387.05 583.4,387.08 586.5,387.18 590.5,387.32 594.5,387.45 595.1,387.47 598.5,387.58 602.5,387.72 605,387.8 606.5,387.89 610.5,388.13 614.5,388.37 616.8,388.51 618.5,388.61 622.5,388.85 626.3,389.08 626.5,389.09 630.5,389.33 634.5,389.57 634.7,389.58 638.5,389.81 640,389.9 642.1,390.03 642.5,390.05 645.2,390.21 646.5,390.29 648,390.3 650.5,390.3 654.5,390.3 658.5,390.3 662.5,390.3 666.5,390.3 670.5,390.3 674.5,390.3 674.5,371.4" fill="#fc9e38"/>
<polygon points="398.5,371.4 398.5,371.4 398.8,371.4 399.5,371.4 399.9,371.4 400.5,371.4 401.3,371.78 402.5,372.09 403,372.22 404.8,372.68 406.5,372.92 409.1,373.27 410.5,373.46 413.5,373.87 414.5,374 417.9,374.42 418.5,374.5 422.3,374.97 422.5,375 426.5,375.5 426.6,375.51 430.5,376.01 431,376.07 434.5,376.4 435.4,376.48 438.5,376.77 439.8,376.9 442.5,377.14 444.2,377.29 446.5,377.5 450,377.82 450.5,377.85 454.5,378.12 456,378.22 458.5,378.39 462.5,378.66 466.5,378.93 470,379.17 470.5,379.2 473.4,379.41 474.5,379.5 478.5,379.8 482.5,380.1 486.5,380.41 490.5,380.71 494.4,381.01 494.5,381.02 496.7,381.18 498.5,381.3 502.5,381.57 506.5,381.85 508.4,381.98 510.5,382.13 514.3,382.42 514.5,382.43 518,382.69 518.5,382.73 520.1,382.85 522.5,383.01 525,383.18 526.5,383.28 530,383.53 530.5,383.56 534.5,383.84 536.7,383.99 538.5,384.14 542.5,384.48 546.5,384.81 548.4,384.97 550.5,385.1 554.5,385.35 558.5,385.59 560,385.68 562.5,385.73 566.5,385.82 570.5,385.9 574.5,385.98 575.2,386 578.5,386.12 582.5,386.27 583.4,386.3 586.5,386.45 590.5,386.64 594.5,386.82 595.1,386.85 598.5,386.99 602.5,387.14 605,387.24 606.5,387.34 610.5,387.6 614.5,387.87 616.8,388.02 618.5,388.12 622.5,388.37 626.3,388.61 626.5,388.62 630.5,388.91 634.5,389.2 634.7,389.21 638.5,389.53 640,389.65 642.1,389.82 642.5,389.86 645.2,390.08 646.5,390.2 648,390.3 650.5,390.3 654.5,390.3 658.5,390.3 662.5,390.3 666.5,390.3 670.5,390.3 674.5,390.3 674.5,371.4" fill="#f5c43e"/>
<polygon points="398.5,371.4 398.5,371.4 398.8,371.4 399.5,371.4 399.9,371.4 400.5,371.4 401.3,371.45 402.5,371.73 403,371.85 404.8,372.27 406.5,372.48 409.1,372.8 410.5,372.97 413.5,373.34 414.5,373.46 417.9,373.84 418.5,373.91 422.3,374.34 422.5,374.36 426.5,374.82 426.6,374.83 430.5,375.28 431,375.34 434.5,375.64 435.4,375.71 438.5,375.98 439.8,376.09 442.5,376.32 444.2,376.46 446.5,376.65 450,376.94 450.5,376.97 454.5,377.22 456,377.31 458.5,377.47 462.5,377.72 466.5,377.96 470,378.18 470.5,378.22 473.4,378.42 474.5,378.51 478.5,378.81 482.5,379.11 486.5,379.41 490.5,379.71 494.4,380 494.5,380 496.7,380.15 498.5,380.27 502.5,380.52 506.5,380.78 508.4,380.9 510.5,381.06 514.3,381.35 514.5,381.37 518,381.64 518.5,381.68 520.1,381.8 522.5,381.98 525,382.16 526.5,382.28 530,382.55 530.5,382.59 534.5,382.91 536.7,383.08 538.5,383.28 542.5,383.71 546.5,384.14 548.4,384.34 550.5,384.47 554.5,384.72 558.5,384.97 560,385.06 562.5,385.08 566.5,385.11 570.5,385.15 574.5,385.18 575.2,385.19 578.5,385.32 582.5,385.49 583.4,385.52 586.5,385.71 590.5,385.96 594.5,386.2 595.1,386.24 598.5,386.39 602.5,386.57 605,386.68 606.5,386.79 610.5,387.07 614.5,387.36 616.8,387.53 618.5,387.64 622.5,387.9 626.3,388.14 626.5,388.16 630.5,388.49 634.5,388.83 634.7,388.85 638.5,389.24 640,389.4 642.1,389.62 642.5,389.66 645.2,389.95 646.5,390.1 648,390.28 650.5,390.3 654.5,390.3 658.5,390.3 662.5,390.3 666.5,390.3 670.5,390.3 674.5,390.3 674.5,371.4" fill="#cac659"/>
<polygon points="398.5,371.4 398.5,371.4 398.8,371.4 399.5,371.4 399.9,371.4 400.5,371.4 401.3,371.4 402.5,371.4 403,371.48 404.8,371.85 406.5,372.04 409.1,372.33 410.5,372.48 413.5,372.81 414.5,372.92 417.9,373.26 418.5,373.32 422.3,373.71 422.5,373.73 426.5,374.14 426.6,374.15 430.5,374.55 431,374.6 434.5,374.88 435.4,374.95 438.5,375.19 439.8,375.29 442.5,375.49 444.2,375.62 446.5,375.79 450,376.05 450.5,376.08 454.5,376.31 456,376.4 458.5,376.54 462.5,376.77 466.5,377 470,377.2 470.5,377.23 473.4,377.44 474.5,377.52 478.5,377.81 482.5,378.11 486.5,378.4 490.5,378.7 494.4,378.99 494.5,378.99 496.7,379.13 498.5,379.24 502.5,379.47 506.5,379.71 508.4,379.82 510.5,379.99 514.3,380.29 514.5,380.31 518,380.58 518.5,380.62 520.1,380.75 522.5,380.94 525,381.14 526.5,381.27 530,381.58 530.5,381.62 534.5,381.98 536.7,382.17 538.5,382.41 542.5,382.94 546.5,383.46 548.4,383.71 550.5,383.84 554.5,384.1 558.5,384.35 560,384.44 562.5,384.43 566.5,384.41 570.5,384.39 574.5,384.38 575.2,384.37 578.5,384.52 582.5,384.71 583.4,384.75 586.5,384.98 590.5,385.28 594.5,385.57 595.1,385.62 598.5,385.79 602.5,385.99 605,386.12 606.5,386.24 610.5,386.55 614.5,386.86 616.8,387.04 618.5,387.15 622.5,387.42 626.3,387.67 626.5,387.69 630.5,388.08 634.5,388.46 634.7,388.48 638.5,388.96 640,389.15 642.1,389.42 642.5,389.47 645.2,389.82 646.5,390.01 648,390.24 650.5,390.3 654.5,390.3 658.5,390.3 662.5,390.3 666.5,390.3 670.5,390.3 674.5,390.3 674.5,371.4" fill="#a2c86b"/>
<polygon points="398.5,371.4 398.5,371.4 398.8,371.4 399.5,371.4 399.9,371.4 400.5,371.4 401.3,371.4 402.5,371.4 403,371.4 404.8,371.43 406.5,371.6 409.1,371.85 410.5,371.99 413.5,372.29 414.5,372.38 417.9,372.68 418.5,372.74 422.3,373.08 422.5,373.1 426.5,373.46 426.6,373.47 430.5,373.83 431,373.87 434.5,374.12 435.4,374.18 438.5,374.4 439.8,374.49 442.5,374.67 444.2,374.78 446.5,374.94 450,375.17 450.5,375.2 454.5,375.41 456,375.48 458.5,375.61 462.5,375.82 466.5,376.03 470,376.21 470.5,376.25 473.4,376.45 474.5,376.53 478.5,376.82 482.5,377.11 486.5,377.4 490.5,377.69 494.4,377.97 494.5,377.98 496.7,378.11 498.5,378.21 502.5,378.43 506.5,378.65 508.4,378.75 510.5,378.92 514.3,379.23 514.5,379.25 518,379.53 518.5,379.57 520.1,379.7 522.5,379.9 525,380.12 526.5,380.27 530,380.61 530.5,380.66 534.5,381.05 536.7,381.26 538.5,381.54 542.5,382.16 546.5,382.79 548.4,383.08 550.5,383.22 554.5,383.47 558.5,383.72 560,383.82 562.5,383.78 566.5,383.71 570.5,383.64 574.5,383.58 575.2,383.56 578.5,383.73 582.5,383.92 583.4,383.97 586.5,384.24 590.5,384.6 594.5,384.95 595.1,385 598.5,385.19 602.5,385.42 605,385.56 606.5,385.69 610.5,386.02 614.5,386.35 616.8,386.54 618.5,386.66 622.5,386.94 626.3,387.21 626.5,387.23 630.5,387.66 634.5,388.09 634.7,388.11 638.5,388.68 640,388.9 642.1,389.22 642.5,389.28 645.2,389.69 646.5,389.92 648,390.19 650.5,390.3 654.5,390.3 658.5,390.3 662.5,390.3 666.5,390.3 670.5,390.3 674.5,390.3 674.5,371.4" fill="#82c87f"/>
<polygon points="398.5,371.4 398.5,371.4 398.8,371.4 399.5,371.4 399.9,371.4 400.5,371.4 401.3,371.4 402.5,371.4 403,371.4 404.8,371.4 406.5,371.4 409.1,371.4 410.5,371.5 413.5,371.76 414.5,371.84 417.9,372.1 418.5,372.15 422.3,372.45 422.5,372.47 426.5,372.78 426.6,372.79 430.5,373.1 431,373.14 434.5,373.36 435.4,373.41 438.5,373.6 439.8,373.68 442.5,373.84 444.2,373.95 446.5,374.08 450,374.29 450.5,374.31 454.5,374.5 456,374.57 458.5,374.69 462.5,374.88 466.5,375.06 470,375.23 470.5,375.26 473.4,375.46 474.5,375.54 478.5,375.83 482.5,376.11 486.5,376.4 490.5,376.68 494.4,376.96 494.5,376.97 496.7,377.08 498.5,377.17 502.5,377.38 506.5,377.58 508.4,377.68 510.5,377.85 514.3,378.17 514.5,378.18 518,378.48 518.5,378.52 520.1,378.65 522.5,378.87 525,379.1 526.5,379.26 530,379.63 530.5,379.69 534.5,380.12 536.7,380.35 538.5,380.67 542.5,381.39 546.5,382.11 548.4,382.45 550.5,382.59 554.5,382.85 558.5,383.1 560,383.2 562.5,383.13 566.5,383.01 570.5,382.89 574.5,382.77 575.2,382.75 578.5,382.93 582.5,383.14 583.4,383.19 586.5,383.51 590.5,383.92 594.5,384.32 595.1,384.38 598.5,384.6 602.5,384.84 605,385 606.5,385.13 610.5,385.49 614.5,385.85 616.8,386.05 618.5,386.18 622.5,386.47 626.3,386.74 626.5,386.76 630.5,387.24 634.5,387.72 634.7,387.74 638.5,388.39 640,388.65 642.1,389.01 642.5,389.08 645.2,389.56 646.5,389.83 648,390.14 650.5,390.3 654.5,390.3 658.5,390.3 662.5,390.3 666.5,390.3 670.5,390.3 674.5,390.3 674.5,371.4" fill="#81c49a"/>
<polygon points="398.5,371.4 398.5,371.4 398.8,371.4 399.5,371.4 399.9,371.4 400.5,371.4 401.3,371.4 402.5,371.4 403,371.4 404.8,371.4 406.5,371.4 409.1,371.4 410.5,371.4 413.5,371.4 414.5,371.4 417.9,371.52 418.5,371.56 422.3,371.82 422.5,371.83 426.5,372.1 426.6,372.11 430.5,372.38 431,372.41 434.5,372.6 435.4,372.64 438.5,372.81 439.8,372.88 442.5,373.02 444.2,373.11 446.5,373.23 450,373.41 450.5,373.43 454.5,373.6 456,373.66 458.5,373.76 462.5,373.93 466.5,374.1 470,374.24 470.5,374.28 473.4,374.47 474.5,374.55 478.5,374.83 482.5,375.11 486.5,375.39 490.5,375.67 494.4,375.95 494.5,375.95 496.7,376.06 498.5,376.14 502.5,376.33 506.5,376.51 508.4,376.6 510.5,376.78 514.3,377.1 514.5,377.12 518,377.42 518.5,377.46 520.1,377.6 522.5,377.83 525,378.08 526.5,378.25 530,378.66 530.5,378.72 534.5,379.18 536.7,379.44 538.5,379.81 542.5,380.62 546.5,381.43 548.4,381.82 550.5,381.96 554.5,382.22 558.5,382.48 560,382.58 562.5,382.48 566.5,382.31 570.5,382.14 574.5,381.97 575.2,381.94 578.5,382.13 582.5,382.36 583.4,382.41 586.5,382.77 590.5,383.23 594.5,383.7 595.1,383.77 598.5,384 602.5,384.27 605,384.44 606.5,384.58 610.5,384.96 614.5,385.34 616.8,385.56 618.5,385.69 622.5,385.99 626.3,386.27 626.5,386.3 630.5,386.82 634.5,387.35 634.7,387.37 638.5,388.11 640,388.4 642.1,388.81 642.5,388.89 645.2,389.42 646.5,389.73 648,390.09 650.5,390.3 654.5,390.3 658.5,390.3 662.5,390.3 666.5,390.3 670.5,390.3 674.5,390.3 674.5,371.4" fill="#80bfaa"/>
<polygon points="398.5,371.4 398.5,371.4 398.8,371.4 399.5,371.4 399.9,371.4 400.5,371.4 401.3,371.4 402.5,371.4 403,371.4 404.8,371.4 406.5,371.4 409.1,371.4 410.5,371.4 413.5,371.4 414.5,371.4 417.9,371.4 418.5,371.4 422.3,371.4 422.5,371.4 426.5,371.42 426.6,371.43 430.5,371.65 431,371.68 434.5,371.84 435.4,371.88 438.5,372.02 439.8,372.08 442.5,372.2 444.2,372.27 446.5,372.37 450,372.53 450.5,372.54 454.5,372.69 456,372.75 458.5,372.84 462.5,372.98 466.5,373.13 470,373.26 470.5,373.29 473.4,373.49 474.5,373.56 478.5,373.84 482.5,374.11 486.5,374.39 490.5,374.67 494.4,374.94 494.5,374.94 496.7,375.04 498.5,375.11 502.5,375.28 506.5,375.45 508.4,375.53 510.5,375.71 514.3,376.04 514.5,376.06 518,376.37 518.5,376.41 520.1,376.55 522.5,376.8 525,377.06 526.5,377.25 530,377.69 530.5,377.75 534.5,378.25 536.7,378.53 538.5,378.94 542.5,379.85 546.5,380.76 548.4,381.19 550.5,381.33 554.5,381.6 558.5,381.86 560,381.96 562.5,381.82 566.5,381.61 570.5,381.39 574.5,381.17 575.2,381.13 578.5,381.33 582.5,381.58 583.4,381.63 586.5,382.04 590.5,382.55 594.5,383.07 595.1,383.15 598.5,383.4 602.5,383.7 605,383.88 606.5,384.03 610.5,384.44 614.5,384.84 616.8,385.07 618.5,385.2 622.5,385.51 626.3,385.8 626.5,385.83 630.5,386.4 634.5,386.98 634.7,387 638.5,387.83 640,388.15 642.1,388.61 642.5,388.7 645.2,389.29 646.5,389.64 648,390.04 650.5,390.3 654.5,390.3 658.5,390.3 662.5,390.3 666.5,390.3 670.5,390.3 674.5,390.3 674.5,371.4" fill="#80b9be"/>
<polygon points="398.5,371.4 398.5,371.4 398.8,371.4 399.5,371.4 399.9,371.4 400.5,371.4 401.3,371.4 402.5,371.4 403,371.4 404.8,371.4 406.5,371.4 409.1,371.4 410.5,371.4 413.5,371.4 414.5,371.4 417.9,371.4 418.5,371.4 422.3,371.4 422.5,371.4 426.5,371.4 426.6,371.4 430.5,371.4 431,371.4 434.5,371.4 435.4,371.4 438.5,371.4 439.8,371.4 442.5,371.4 444.2,371.43 446.5,371.52 450,371.64 450.5,371.66 454.5,371.79 456,371.83 458.5,371.91 462.5,372.04 466.5,372.16 470,372.27 470.5,372.3 473.4,372.5 474.5,372.57 478.5,372.84 482.5,373.12 486.5,373.39 490.5,373.66 494.4,373.92 494.5,373.93 496.7,374.01 498.5,374.08 502.5,374.23 506.5,374.38 508.4,374.45 510.5,374.64 514.3,374.98 514.5,375 518,375.31 518.5,375.36 520.1,375.5 522.5,375.76 525,376.04 526.5,376.24 530,376.72 530.5,376.78 534.5,377.32 536.7,377.62 538.5,378.07 542.5,379.08 546.5,380.08 548.4,380.56 550.5,380.7 554.5,380.97 558.5,381.24 560,381.34 562.5,381.17 566.5,380.9 570.5,380.64 574.5,380.37 575.2,380.32 578.5,380.54 582.5,380.8 583.4,380.86 586.5,381.3 590.5,381.87 594.5,382.45 595.1,382.53 598.5,382.8 602.5,383.12 605,383.32 606.5,383.48 610.5,383.91 614.5,384.34 616.8,384.58 618.5,384.72 622.5,385.03 626.3,385.34 626.5,385.37 630.5,385.99 634.5,386.61 634.7,386.64 638.5,387.54 640,387.9 642.1,388.41 642.5,388.5 645.2,389.16 646.5,389.55 648,390 650.5,390.3 654.5,390.3 658.5,390.3 662.5,390.3 666.5,390.3 670.5,390.3 674.5,390.3 674.5,371.4" fill="#82b6cf"/>
<polygon points="398.5,371.4 398.5,371.4 398.8,371.4 399.5,371.4 399.9,371.4 400.5,371.4 401.3,371.4 402.5,371.4 403,371.4 404.8,371.4 406.5,371.4 409.1,371.4 410.5,371.4 413.5,371.4 414.5,371.4 417.9,371.4 418.5,371.4 422.3,371.4 422.5,371.4 426.5,371.4 426.6,371.4 430.5,371.4 431,371.4 434.5,371.4 435.4,371.4 438.5,371.4 439.8,371.4 442.5,371.4 444.2,371.4 446.5,371.4 450,371.4 450.5,371.4 454.5,371.4 456,371.4 458.5,371.4 462.5,371.4 466.5,371.4 470,371.4 470.5,371.4 473.4,371.51 474.5,371.58 478.5,371.85 482.5,372.12 486.5,372.38 490.5,372.65 494.4,372.91 494.5,372.92 496.7,372.99 498.5,373.05 502.5,373.18 506.5,373.31 508.4,373.38 510.5,373.57 514.3,373.92 514.5,373.94 518,374.26 518.5,374.3 520.1,374.45 522.5,374.73 525,375.02 526.5,375.24 530,375.74 530.5,375.81 534.5,376.39 536.7,376.71 538.5,377.21 542.5,378.31 546.5,379.41 548.4,379.93 550.5,380.07 554.5,380.35 558.5,380.62 560,380.72 562.5,380.52 566.5,380.2 570.5,379.88 574.5,379.57 575.2,379.51 578.5,379.74 582.5,380.02 583.4,380.08 586.5,380.57 590.5,381.19 594.5,381.82 595.1,381.92 598.5,382.21 602.5,382.55 605,382.76 606.5,382.93 610.5,383.38 614.5,383.83 616.8,384.09 618.5,384.23 622.5,384.56 626.3,384.87 626.5,384.9 630.5,385.57 634.5,386.23 634.7,386.27 638.5,387.26 640,387.65 642.1,388.2 642.5,388.31 645.2,389.03 646.5,389.46 648,389.95 650.5,390.3 654.5,390.3 658.5,390.3 662.5,390.3 666.5,390.3 670.5,390.3 674.5,390.3 674.5,371.4" fill="#88b7d9"/>
<polygon points="398.5,371.4 398.5,371.4 398.8,371.4 399.5,371.4 399.9,371.4 400.5,371.4 401.3,371.4 402.5,371.4 403,371.4 404.8,371.4 406.5,371.4 409.1,371.4 410.5,371.4 413.5,371.4 414.5,371.4 417.9,371.4 418.5,371.4 422.3,371.4 422.5,371.4 426.5,371.4 426.6,371.4 430.5,371.4 431,371.4 434.5,371.4 435.4,371.4 438.5,371.4 439.8,371.4 442.5,371.4 444.2,371.4 446.5,371.4 450,371.4 450.5,371.4 454.5,371.4 456,371.4 458.5,371.4 462.5,371.4 466.5,371.4 470,371.4 470.5,371.4 473.4,371.4 474.5,371.4 478.5,371.4 482.5,371.4 486.5,371.4 490.5,371.64 494.4,371.9 494.5,371.9 496.7,371.97 498.5,372.02 502.5,372.13 506.5,372.25 508.4,372.3 510.5,372.5 514.3,372.85 514.5,372.87 518,373.2 518.5,373.25 520.1,373.4 522.5,373.69 525,374 526.5,374.23 530,374.77 530.5,374.85 534.5,375.46 536.7,375.8 538.5,376.34 542.5,377.54 546.5,378.73 548.4,379.3 550.5,379.44 554.5,379.72 558.5,380 560,380.1 562.5,379.87 566.5,379.5 570.5,379.13 574.5,378.76 575.2,378.7 578.5,378.94 582.5,379.23 583.4,379.3 586.5,379.83 590.5,380.51 594.5,381.2 595.1,381.3 598.5,381.61 602.5,381.97 605,382.2 606.5,382.38 610.5,382.85 614.5,383.33 616.8,383.6 618.5,383.74 622.5,384.08 626.3,384.4 626.5,384.44 630.5,385.15 634.5,385.86 634.7,385.9 638.5,386.98 640,387.4 642.1,388 642.5,388.12 645.2,388.9 646.5,389.36 648,389.9 650.5,390.3 654.5,390.3 658.5,390.3 662.5,390.3 666.5,390.3 670.5,390.3 674.5,390.3 674.5,371.4" fill="#90bddc"/>
<polygon points="398.5,371.4 398.5,371.4 398.8,371.4 399.5,371.4 399.9,371.4 400.5,371.4 401.3,371.4 402.5,371.4 403,371.4 404.8,371.4 406.5,371.4 409.1,371.4 410.5,371.4 413.5,371.4 414.5,371.4 417.9,371.4 418.5,371.4 422.3,371.4 422.5,371.4 426.5,371.4 426.6,371.4 430.5,371.4 431,371.4 434.5,371.4 435.4,371.4 438.5,371.4 439.8,371.4 442.5,371.4 444.2,371.4 446.5,371.4 450,371.4 450.5,371.4 454.5,371.4 456,371.4 458.5,371.4 462.5,371.4 466.5,371.4 470,371.4 470.5,371.4 473.4,371.4 474.5,371.4 478.5,371.4 482.5,371.4 486.5,371.4 490.5,371.4 494.4,371.4 494.5,371.4 496.7,371.4 498.5,371.4 502.5,371.4 506.5,371.4 508.4,371.4 510.5,371.5 514.3,371.85 514.5,371.87 518,372.2 518.5,372.25 520.1,372.4 522.5,372.69 525,373 526.5,373.23 530,373.77 530.5,373.85 534.5,374.46 536.7,374.8 538.5,375.34 542.5,376.54 546.5,377.73 548.4,378.3 550.5,378.44 554.5,378.72 558.5,379 560,379.1 562.5,378.87 566.5,378.5 570.5,378.13 574.5,377.76 575.2,377.7 578.5,377.94 582.5,378.23 583.4,378.3 586.5,378.83 590.5,379.51 594.5,380.2 595.1,380.3 598.5,380.61 602.5,380.97 605,381.2 606.5,381.38 610.5,381.85 614.5,382.33 616.8,382.6 618.5,382.74 622.5,383.08 626.3,383.4 626.5,383.44 630.5,384.15 634.5,384.86 634.7,384.9 638.5,385.98 640,386.4 642.1,387 642.5,387.12 645.2,387.9 646.5,388.36 648,388.9 650.5,389.79 654.5,390.3 658.5,390.3 662.5,390.3 666.5,390.3 670.5,390.3 674.5,390.3 674.5,371.4" fill="#d9e6f2"/>
<polygon points="398.5,371.4 398.5,371.4 398.8,371.4 399.5,371.4 399.9,371.4 400.5,371.4 401.3,371.4 402.5,371.4 403,371.4 404.8,371.4 406.5,371.4 409.1,371.4 410.5,371.4 413.5,371.4 414.5,371.4 417.9,371.4 418.5,371.4 422.3,371.4 422.5,371.4 426.5,371.4 426.6,371.4 430.5,371.4 431,371.4 434.5,371.4 435.4,371.4 438.5,371.4 439.8,371.4 442.5,371.4 444.2,371.4 446.5,371.4 450,371.4 450.5,371.4 454.5,371.4 456,371.4 458.5,371.4 462.5,371.4 466.5,371.4 470,371.4 470.5,371.4 473.4,371.4 474.5,371.4 478.5,371.4 482.5,371.4 486.5,371.4 490.5,371.4 494.4,371.4 494.5,371.4 496.7,371.4 498.5,371.4 502.5,371.4 506.5,371.4 508.4,371.4 510.5,371.4 514.3,371.4 514.5,371.4 518,371.4 518.5,371.4 520.1,371.4 522.5,371.49 525,371.8 526.5,372.03 530,372.57 530.5,372.65 534.5,373.26 536.7,373.6 538.5,374.14 542.5,375.34 546.5,376.53 548.4,377.1 550.5,377.24 554.5,377.52 558.5,377.8 560,377.9 562.5,377.67 566.5,377.3 570.5,376.93 574.5,376.56 575.2,376.5 578.5,376.74 582.5,377.03 583.4,377.1 586.5,377.63 590.5,378.31 594.5,379 595.1,379.1 598.5,379.41 602.5,379.77 605,380 606.5,380.18 610.5,380.65 614.5,381.13 616.8,381.4 618.5,381.54 622.5,381.88 626.3,382.2 626.5,382.24 630.5,382.95 634.5,383.66 634.7,383.7 638.5,384.78 640,385.2 642.1,385.8 642.5,385.92 645.2,386.7 646.5,387.16 648,387.7 650.5,388.59 654.5,390.02 658.5,390.3 662.5,390.3 666.5,390.3 670.5,390.3 674.5,390.3 674.5,371.4" fill="#eef3f8"/>
<polygon points="398.5,371.4 398.5,371.4 398.8,371.4 399.5,371.4 399.9,371.4 400.5,371.4 401.3,371.4 402.5,371.4 403,371.4 404.8,371.4 406.5,371.4 409.1,371.4 410.5,371.4 413.5,371.4 414.5,371.4 417.9,371.4 418.5,371.4 422.3,371.4 422.5,371.4 426.5,371.4 426.6,371.4 430.5,371.4 431,371.4 434.5,371.4 435.4,371.4 438.5,371.4 439.8,371.4 442.5,371.4 444.2,371.4 446.5,371.4 450,371.4 450.5,371.4 454.5,371.4 456,371.4 458.5,371.4 462.5,371.4 466.5,371.4 470,371.4 470.5,371.4 473.4,371.4 474.5,371.4 478.5,371.4 482.5,371.4 486.5,371.4 490.5,371.4 494.4,371.4 494.5,371.4 496.7,371.4 498.5,371.4 502.5,371.4 506.5,371.4 508.4,371.4 510.5,371.4 514.3,371.4 514.5,371.4 518,371.4 518.5,371.4 520.1,371.4 522.5,371.4 525,371.4 526.5,371.4 530,371.4 530.5,371.45 534.5,372.06 536.7,372.4 538.5,372.94 542.5,374.14 546.5,375.33 548.4,375.9 550.5,376.04 554.5,376.32 558.5,376.6 560,376.7 562.5,376.47 566.5,376.1 570.5,375.73 574.5,375.36 575.2,375.3 578.5,375.54 582.5,375.83 583.4,375.9 586.5,376.43 590.5,377.11 594.5,377.8 595.1,377.9 598.5,378.21 602.5,378.57 605,378.8 606.5,378.98 610.5,379.45 614.5,379.93 616.8,380.2 618.5,380.34 622.5,380.68 626.3,381 626.5,381.04 630.5,381.75 634.5,382.46 634.7,382.5 638.5,383.58 640,384 642.1,384.6 642.5,384.72 645.2,385.5 646.5,385.96 648,386.5 650.5,387.39 654.5,388.82 658.5,390.25 662.5,390.3 666.5,390.3 670.5,390.3 674.5,390.3 674.5,371.4" fill="#f9f9f9"/>
</g>
<polyline points="494.4,371.9 494.5,371.9 496.7,371.97 498.5,372.02 502.5,372.13 506.5,372.25 508.4,372.3 510.5,372.5 514.3,372.85 514.5,372.87 518,373.2 518.5,373.25 520.1,373.4 522.5,373.69 525,374 526.5,374.23 530,374.77 530.5,374.85 534.5,375.46 536.7,375.8 538.5,376.34 542.5,377.54 546.5,378.73 548.4,379.3 550.5,379.44 554.5,379.72 558.5,380 560,380.1 562.5,379.87 566.5,379.5 570.5,379.13 574.5,378.76 575.2,378.7 578.5,378.94 582.5,379.23 583.4,379.3 586.5,379.83 590.5,380.51 594.5,381.2 595.1,381.3 598.5,381.61 602.5,381.97 605,382.2 606.5,382.38 610.5,382.85 614.5,383.33 616.8,383.6 618.5,383.74 622.5,384.08 626.3,384.4 626.5,384.44 630.5,385.15 634.5,385.86 634.7,385.9 638.5,386.98 640,387.4 642.1,388 642.5,388.12 645.2,388.9 646.5,389.36 648,389.9 650.5,390.79 654.5,392.22" fill="none" stroke="#1a1a1a" stroke-width="0.9"/>
<polyline points="401.3,372.1 402.5,372.44 403,372.59 404.8,373.1 406.5,373.35 409.1,373.74 410.5,373.95 413.5,374.4 414.5,374.54 417.9,375 418.5,375.08 422.3,375.6 422.5,375.63 426.5,376.18 426.6,376.19 430.5,376.73 431,376.8 434.5,377.16 435.4,377.25 438.5,377.57 439.8,377.7 442.5,377.96 444.2,378.13 446.5,378.36 450,378.7 450.5,378.74 454.5,379.03 456,379.14 458.5,379.32 462.5,379.61 466.5,379.9 470,380.15 470.5,380.19 473.4,380.4 474.5,380.48 478.5,380.79 482.5,381.1 486.5,381.41 490.5,381.72 494.4,382.02 494.5,382.03 496.7,382.2 498.5,382.33 502.5,382.62 506.5,382.91 508.4,383.05 510.5,383.2 514.3,383.48 514.5,383.49 518,383.75 518.5,383.78 520.1,383.9 522.5,384.05 525,384.2 526.5,384.29 530,384.5 530.5,384.53 534.5,384.77 536.7,384.9 538.5,385.01 542.5,385.25 546.5,385.49 548.4,385.6 550.5,385.73 554.5,385.97 558.5,386.21 560,386.3 562.5,386.38 566.5,386.52 570.5,386.65 574.5,386.78 575.2,386.81 578.5,386.92 582.5,387.05 583.4,387.08 586.5,387.18 590.5,387.32 594.5,387.45 595.1,387.47 598.5,387.58 602.5,387.72 605,387.8 606.5,387.89 610.5,388.13 614.5,388.37 616.8,388.51 618.5,388.61 622.5,388.85 626.3,389.08 626.5,389.09 630.5,389.33 634.5,389.57 634.7,389.58 638.5,389.81 640,389.9 642.1,390.03 642.5,390.05 645.2,390.21 646.5,390.29 648,390.38 650.5,390.53 654.5,390.77 658.5,391.01 662.5,391.25 666.5,391.49 670.5,391.73 674.5,391.97" fill="none" stroke="#1a1a1a" stroke-width="0.9"/>
<polyline points="399.5,372.7 399.9,374.9 400.5,375.23 401.3,375.67 402.5,376.33 403,376.6 404.8,376.98 406.5,377.35 409.1,377.9 410.5,378.12 413.5,378.6 414.5,378.76 417.9,379.3 418.5,379.39 422.3,379.96 422.5,379.99 426.5,380.59 426.6,380.6 430.5,380.95 431,381 434.5,381.32 435.4,381.4 438.5,381.72 439.8,381.85 442.5,382.13 444.2,382.3 446.5,382.54 450,382.9 450.5,382.96 454.5,383.43 456,383.6 458.5,383.87 462.5,384.31 466.5,384.75 470,385.13 470.5,385.18 473.4,385.5 474.5,385.59 478.5,385.92 482.5,386.24 486.5,386.57 490.5,386.89 494.4,387.21 494.5,387.22 496.7,387.4 498.5,387.56 502.5,387.93 506.5,388.29 508.4,388.46 510.5,388.65 514.3,389 514.5,389.05 518,389.9 518.5,390.02 520.1,390.41 522.5,390.99 525,391.6 526.5,391.97" fill="none" stroke="#1a1a1a" stroke-width="0.9"/>
<polygon points="400.8,371.3 401.3,369.6 405,369.2 407.3,367.7 411.4,367.1 417.2,366.5 428,366.1 438.34,365.9 453.27,364.9 473.19,363.1 488.12,362.1 503.06,360.9 513.02,360.3 532.93,359.5 552.84,358.8 567.78,358.4 582.72,357.8 602.63,357.1 617.07,356.6 628.52,356 643.45,354.9 658.39,353.9 671.63,353.1 671.5,371.4 400.8,371.4" fill="#fff6db"/>
<polygon points="370.6,370.8 400.8,370.8 401.1,371.8 400.3,373 370.6,373" fill="#0d1117"/>
<polyline points="400.8,371.6 401.3,369.9 405,369.5 407.3,368 411.4,367.4 417.2,366.8 428,366.4 438.34,366.2 453.27,365.2 473.19,363.4 488.12,362.4 503.06,361.2 513.02,360.6 532.93,359.8 552.84,359.1 567.78,358.7 582.72,358.1 602.63,357.4 617.07,356.9 628.52,356.3 643.45,355.2 658.39,354.2 671.63,353.4" fill="none" stroke="#111" stroke-width="1.4"/>
<line x1="400.8" y1="371.5" x2="671.5" y2="371.5" stroke="#111" stroke-width="1.1"/>
<line x1="418.72" y1="366.2" x2="418.72" y2="372.9" stroke="#111" stroke-width="1.35"/>
<line x1="463.63" y1="363.9" x2="463.63" y2="380.4" stroke="#111" stroke-width="1.35"/>
<line x1="515.01" y1="360.6" x2="515.01" y2="381.9" stroke="#111" stroke-width="1.35"/>
<line x1="617.17" y1="355.6" x2="617.17" y2="389.3" stroke="#111" stroke-width="1.35"/>
<polygon points="642.5,379.9 652.9,374.9 652.9,377.8 672,377.8 672,381.9 652.9,381.9 652.9,385.1" fill="#0a6cc4"/>
</g>
<text transform="translate(418.72,364.1) scale(0.92,1)" text-anchor="middle" style="font-size:10.8px;">SIM 2</text>
<text transform="translate(463.63,361.4) scale(0.92,1)" text-anchor="middle" style="font-size:10.8px;">SIM 1</text>
<text transform="translate(515.01,358.3) scale(0.92,1)" text-anchor="middle" style="font-size:10.8px;">SIM 3</text>
<text transform="translate(617.17,354.2) scale(0.92,1)" text-anchor="middle" style="font-size:10.8px;">SIM 6</text>
<text transform="translate(666,368.9) scale(0.92,1)" text-anchor="end" style="font-size:10.8px;fill:#1b5a9c;stroke:#1b5a9c;stroke-width:0.15px">1 ML/yr</text>
<text transform="translate(376.1,354) scale(0.9,1)" style="font-size:10.4px;">L</text>
<rect x="370.6" y="341.3" width="300.9" height="48" fill="none" stroke="#777" stroke-width="1"/>
<line x1="376.94" y1="389.3" x2="376.94" y2="387.7" stroke="#333" stroke-width="0.8"/>
<line x1="388.97" y1="389.3" x2="388.97" y2="387.7" stroke="#333" stroke-width="0.8"/>
<line x1="401" y1="389.3" x2="401" y2="386.3" stroke="#333" stroke-width="0.8"/>
<line x1="413.03" y1="389.3" x2="413.03" y2="387.7" stroke="#333" stroke-width="0.8"/>
<line x1="425.06" y1="389.3" x2="425.06" y2="387.7" stroke="#333" stroke-width="0.8"/>
<line x1="437.08" y1="389.3" x2="437.08" y2="387.7" stroke="#333" stroke-width="0.8"/>
<line x1="449.11" y1="389.3" x2="449.11" y2="387.7" stroke="#333" stroke-width="0.8"/>
<line x1="461.14" y1="389.3" x2="461.14" y2="386.3" stroke="#333" stroke-width="0.8"/>
<line x1="473.17" y1="389.3" x2="473.17" y2="387.7" stroke="#333" stroke-width="0.8"/>
<line x1="485.2" y1="389.3" x2="485.2" y2="387.7" stroke="#333" stroke-width="0.8"/>
<line x1="497.22" y1="389.3" x2="497.22" y2="387.7" stroke="#333" stroke-width="0.8"/>
<line x1="509.25" y1="389.3" x2="509.25" y2="387.7" stroke="#333" stroke-width="0.8"/>
<line x1="521.28" y1="389.3" x2="521.28" y2="386.3" stroke="#333" stroke-width="0.8"/>
<line x1="533.31" y1="389.3" x2="533.31" y2="387.7" stroke="#333" stroke-width="0.8"/>
<line x1="545.34" y1="389.3" x2="545.34" y2="387.7" stroke="#333" stroke-width="0.8"/>
<line x1="557.36" y1="389.3" x2="557.36" y2="387.7" stroke="#333" stroke-width="0.8"/>
<line x1="569.39" y1="389.3" x2="569.39" y2="387.7" stroke="#333" stroke-width="0.8"/>
<line x1="581.42" y1="389.3" x2="581.42" y2="386.3" stroke="#333" stroke-width="0.8"/>
<line x1="593.45" y1="389.3" x2="593.45" y2="387.7" stroke="#333" stroke-width="0.8"/>
<line x1="605.48" y1="389.3" x2="605.48" y2="387.7" stroke="#333" stroke-width="0.8"/>
<line x1="617.51" y1="389.3" x2="617.51" y2="387.7" stroke="#333" stroke-width="0.8"/>
<line x1="629.53" y1="389.3" x2="629.53" y2="387.7" stroke="#333" stroke-width="0.8"/>
<line x1="641.56" y1="389.3" x2="641.56" y2="386.3" stroke="#333" stroke-width="0.8"/>
<line x1="653.59" y1="389.3" x2="653.59" y2="387.7" stroke="#333" stroke-width="0.8"/>
<line x1="665.62" y1="389.3" x2="665.62" y2="387.7" stroke="#333" stroke-width="0.8"/>
<line x1="370.6" y1="356.3" x2="372.2" y2="356.3" stroke="#333" stroke-width="0.8"/>
<line x1="370.6" y1="386.3" x2="372.2" y2="386.3" stroke="#333" stroke-width="0.8"/>
<text transform="translate(367.7,345.1) scale(0.9,1)" text-anchor="end" style="font-size:10.8px;">50</text>
<text transform="translate(367.7,375.2) scale(0.9,1)" text-anchor="end" style="font-size:10.8px;">0</text>
<text transform="translate(67.8,400.1) scale(0.92,1)" text-anchor="middle" style="font-size:10.6px;">0</text>
<text transform="translate(401.3,400.1) scale(0.92,1)" text-anchor="middle" style="font-size:10.6px;">0</text>
<text transform="translate(128.2,400.1) scale(0.92,1)" text-anchor="middle" style="font-size:10.6px;">100</text>
<text transform="translate(461.44,400.1) scale(0.92,1)" text-anchor="middle" style="font-size:10.6px;">100</text>
<text transform="translate(188.6,400.1) scale(0.92,1)" text-anchor="middle" style="font-size:10.6px;">200</text>
<text transform="translate(521.58,400.1) scale(0.92,1)" text-anchor="middle" style="font-size:10.6px;">200</text>
<text transform="translate(249,400.1) scale(0.92,1)" text-anchor="middle" style="font-size:10.6px;">300</text>
<text transform="translate(581.72,400.1) scale(0.92,1)" text-anchor="middle" style="font-size:10.6px;">300</text>
<text transform="translate(309.4,400.1) scale(0.92,1)" text-anchor="middle" style="font-size:10.6px;">400</text>
<text transform="translate(641.86,400.1) scale(0.92,1)" text-anchor="middle" style="font-size:10.6px;">400</text>
<text x="188.5" y="412.8" text-anchor="middle" style="font-size:10.2px">Distance (m)</text>
<text x="521.2" y="412.8" text-anchor="middle" style="font-size:10.2px">Distance (m)</text>
<text transform="translate(8.3,253.8) rotate(-90)" text-anchor="middle" style="font-size:10.5px">Elevation (mAHD)</text>
<line x1="20" y1="421.5" x2="345" y2="421.5" stroke="#eee" stroke-width="1"/>
<line x1="354" y1="421.5" x2="678.5" y2="421.5" stroke="#eee" stroke-width="1"/>
<line x1="25" y1="479.5" x2="345" y2="479.5" stroke="#f0f0f0" stroke-width="1"/>
<line x1="354" y1="479.5" x2="680" y2="479.5" stroke="#f0f0f0" stroke-width="1"/>
<rect x="35.3" y="427" width="301" height="16" fill="url(#jet)" stroke="#555" stroke-width="0.8"/>
<line x1="35.3" y1="443" x2="35.3" y2="445.5" stroke="#555" stroke-width="0.8"/>
<text x="35.3" y="457.2" text-anchor="middle" style="font-size:10.5px">1</text>
<line x1="85.47" y1="443" x2="85.47" y2="445.5" stroke="#555" stroke-width="0.8"/>
<text x="85.47" y="457.2" text-anchor="middle" style="font-size:10.5px">3.5</text>
<line x1="135.63" y1="443" x2="135.63" y2="445.5" stroke="#555" stroke-width="0.8"/>
<text x="135.63" y="457.2" text-anchor="middle" style="font-size:10.5px">12.6</text>
<line x1="185.8" y1="443" x2="185.8" y2="445.5" stroke="#555" stroke-width="0.8"/>
<text x="185.8" y="457.2" text-anchor="middle" style="font-size:10.5px">44.7</text>
<line x1="235.97" y1="443" x2="235.97" y2="445.5" stroke="#555" stroke-width="0.8"/>
<text x="235.97" y="457.2" text-anchor="middle" style="font-size:10.5px">159</text>
<line x1="286.13" y1="443" x2="286.13" y2="445.5" stroke="#555" stroke-width="0.8"/>
<text x="286.13" y="457.2" text-anchor="middle" style="font-size:10.5px">564</text>
<line x1="336.3" y1="443" x2="336.3" y2="445.5" stroke="#555" stroke-width="0.8"/>
<text x="336.3" y="457.2" text-anchor="middle" style="font-size:10.5px">2000</text>
<text x="186.1" y="470.3" text-anchor="middle" style="font-size:10.85px">Hydraulic conductivity (m/day)</text>
<rect x="370.5" y="427" width="301" height="16" fill="url(#conc)" stroke="#555" stroke-width="0.8"/>
<line x1="370.5" y1="443" x2="370.5" y2="445.5" stroke="#555" stroke-width="0.8"/>
<text x="370.5" y="457.2" text-anchor="middle" style="font-size:10.5px">0.36</text>
<line x1="420.67" y1="443" x2="420.67" y2="445.5" stroke="#555" stroke-width="0.8"/>
<text x="420.67" y="457.2" text-anchor="middle" style="font-size:10.5px">0.78</text>
<line x1="470.83" y1="443" x2="470.83" y2="445.5" stroke="#555" stroke-width="0.8"/>
<text x="470.83" y="457.2" text-anchor="middle" style="font-size:10.5px">1.7</text>
<line x1="521" y1="443" x2="521" y2="445.5" stroke="#555" stroke-width="0.8"/>
<text x="521" y="457.2" text-anchor="middle" style="font-size:10.5px">3.6</text>
<line x1="571.17" y1="443" x2="571.17" y2="445.5" stroke="#555" stroke-width="0.8"/>
<text x="571.17" y="457.2" text-anchor="middle" style="font-size:10.5px">7.8</text>
<line x1="621.33" y1="443" x2="621.33" y2="445.5" stroke="#555" stroke-width="0.8"/>
<text x="621.33" y="457.2" text-anchor="middle" style="font-size:10.5px">16.7</text>
<line x1="671.5" y1="443" x2="671.5" y2="445.5" stroke="#555" stroke-width="0.8"/>
<text x="671.5" y="457.2" text-anchor="middle" style="font-size:10.5px">36</text>
<text x="521.3" y="470.3" text-anchor="middle" style="font-size:10.85px">Mass concentration (g/L)</text>
</svg></body></html>
